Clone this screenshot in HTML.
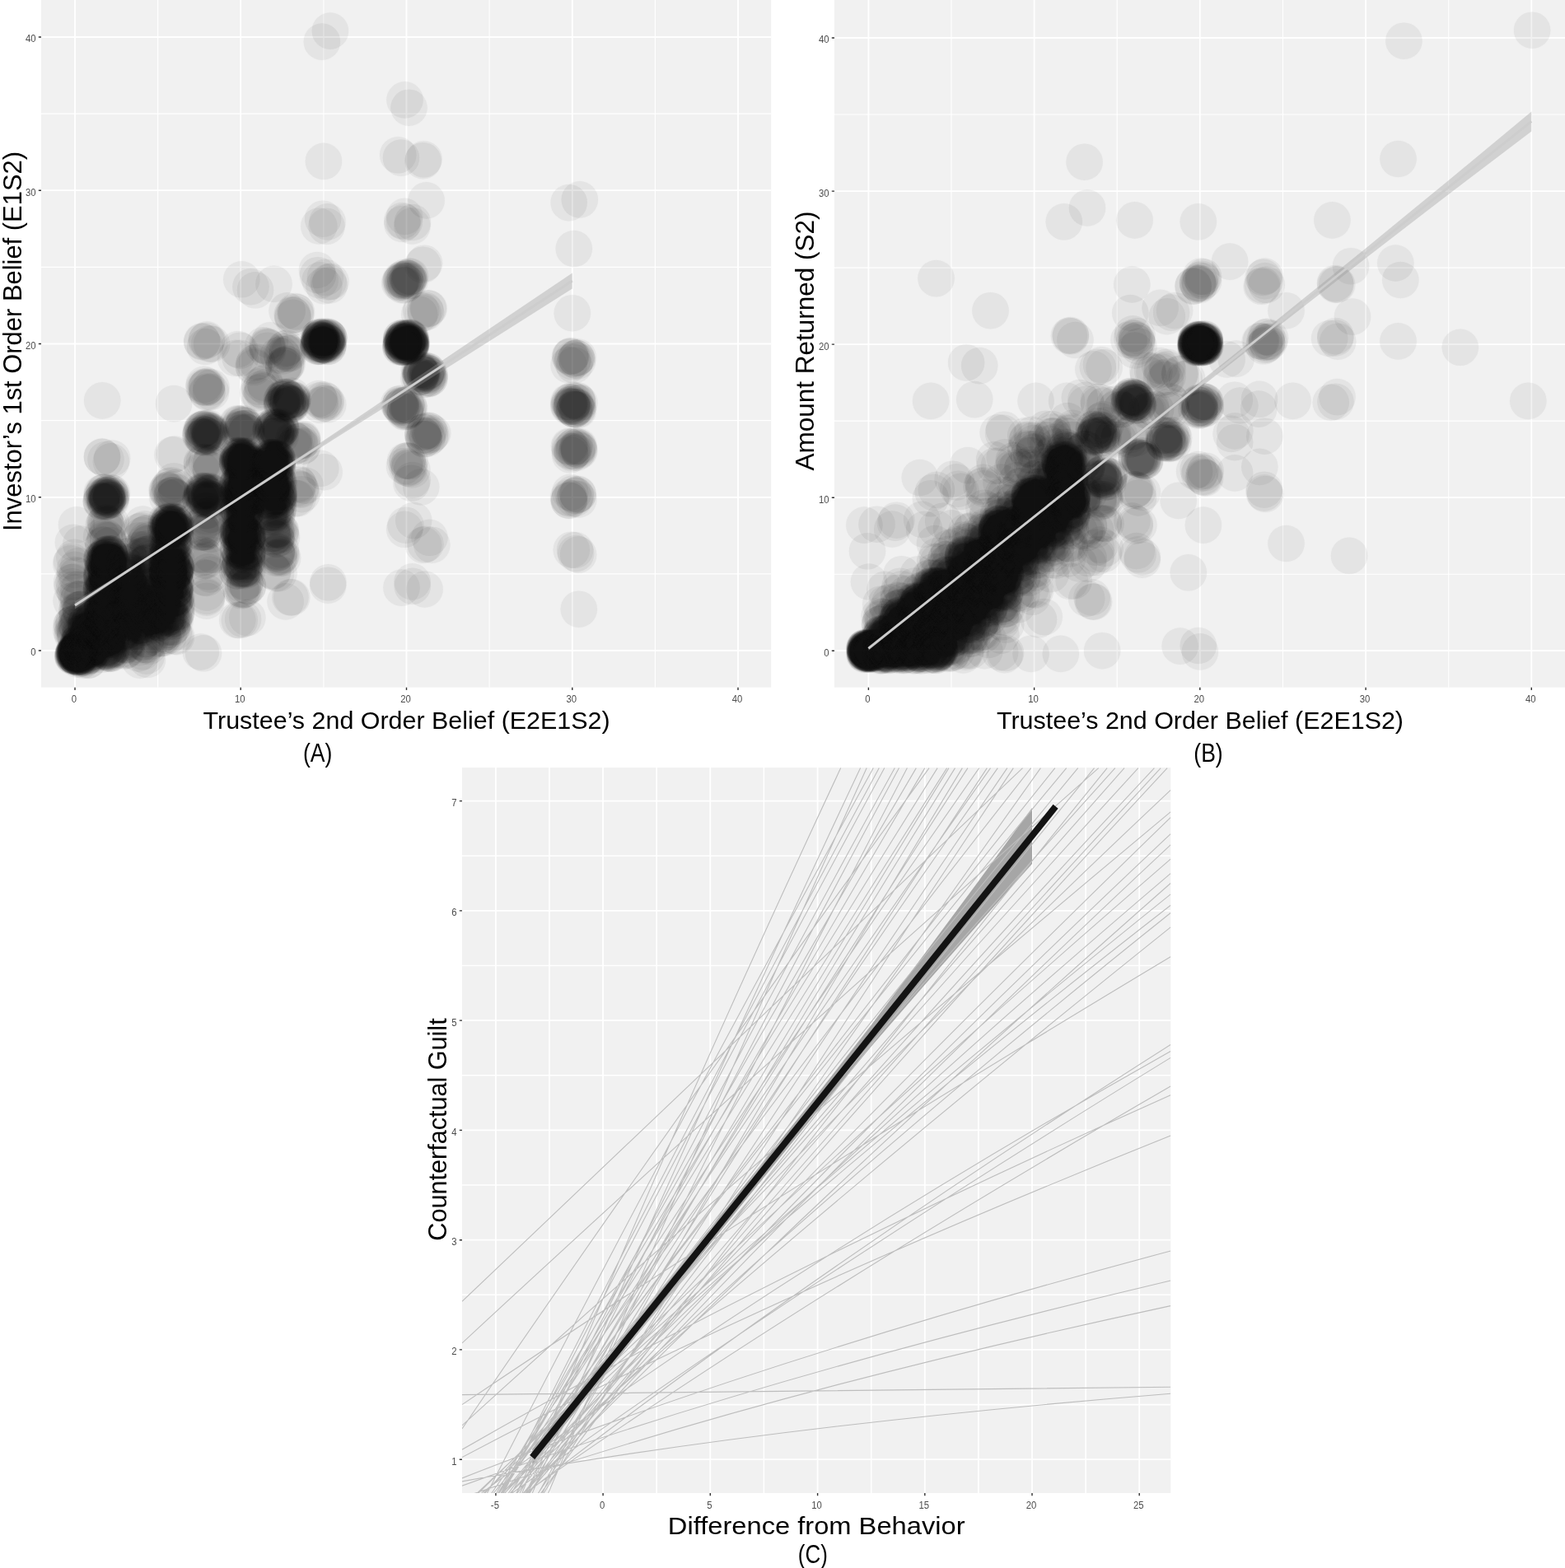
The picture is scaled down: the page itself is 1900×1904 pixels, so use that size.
<!DOCTYPE html>
<html lang="en"><head><meta charset="utf-8"><title>Figure</title>
<style>html,body{margin:0;padding:0;background:#fff}svg{display:block}text{font-family:"Liberation Sans",sans-serif}</style>
</head><body>
<svg width="1900" height="1904" viewBox="0 0 1900 1904">
<defs>
<clipPath id="ca"><rect x="50" y="0" width="886.2" height="834.7"/></clipPath>
<clipPath id="cb"><rect x="1013" y="0" width="887" height="834.7"/></clipPath>
<clipPath id="cc"><rect x="561" y="932.1" width="860.3" height="880.9"/></clipPath>
<filter id="bl" x="-5%" y="-5%" width="110%" height="110%"><feGaussianBlur stdDeviation="0.7"/></filter>
</defs>
<rect width="1900" height="1904" fill="#fff"/>
<rect x="50" y="0" width="886.2" height="834.7" fill="#F1F1F1"/>
<path d="M191.6 0V834.7M392.9 0V834.7M594.1 0V834.7M795.4 0V834.7M50 696.9H936.2M50 510.6H936.2M50 324.4H936.2M50 138.1H936.2" stroke="#fff" stroke-width="1.1" fill="none"/>
<path d="M91 0V834.7M292.2 0V834.7M493.5 0V834.7M694.8 0V834.7M896 0V834.7M50 790H936.2M50 603.8H936.2M50 417.5H936.2M50 231.2H936.2M50 45H936.2" stroke="#fff" stroke-width="1.8" fill="none"/>
<g clip-path="url(#ca)"><g filter="url(#bl)" fill="#111" fill-opacity="0.055" stroke="#111" stroke-opacity="0.012" stroke-width="1.5">
<circle cx="390.9" cy="50.6" r="22.3"/><circle cx="400.9" cy="37.6" r="22.3"/><circle cx="491.5" cy="121.4" r="22.3"/><circle cx="496.5" cy="130.7" r="22.3"/><circle cx="392.9" cy="195.9" r="22.3"/><circle cx="483.2" cy="188.3" r="22.3"/><circle cx="487" cy="191.6" r="22.3"/><circle cx="513.6" cy="195.2" r="22.3"/><circle cx="514.5" cy="193.3" r="22.3"/><circle cx="517.6" cy="243.4" r="22.3"/><circle cx="387.3" cy="274.5" r="22.3"/><circle cx="397.5" cy="269.4" r="22.3"/><circle cx="396.5" cy="274.8" r="22.3"/><circle cx="392.1" cy="265.7" r="22.3"/><circle cx="491.2" cy="262.9" r="22.3"/><circle cx="500.4" cy="274.4" r="22.3"/><circle cx="488.4" cy="268" r="22.3"/><circle cx="500.9" cy="270" r="22.3"/><circle cx="491" cy="269.5" r="22.3"/><circle cx="488.5" cy="272" r="22.3"/><circle cx="515.1" cy="319.7" r="22.3"/><circle cx="513.5" cy="321.7" r="22.3"/><circle cx="487.6" cy="340.7" r="22.3"/><circle cx="488.6" cy="346.3" r="22.3"/><circle cx="496.1" cy="339.5" r="22.3"/><circle cx="493.4" cy="344.2" r="22.3"/><circle cx="498.2" cy="335.6" r="22.3"/><circle cx="486.3" cy="342.3" r="22.3"/><circle cx="494.5" cy="337.5" r="22.3"/><circle cx="497.5" cy="341.2" r="22.3"/><circle cx="496" cy="338" r="22.3"/><circle cx="488.8" cy="339.1" r="22.3"/><circle cx="496.7" cy="335.8" r="22.3"/><circle cx="491.6" cy="339.1" r="22.3"/><circle cx="485.1" cy="343.5" r="22.3"/><circle cx="495.6" cy="341.3" r="22.3"/><circle cx="487" cy="339.6" r="22.3"/><circle cx="494.3" cy="338" r="22.3"/><circle cx="489.8" cy="341" r="22.3"/><circle cx="491.6" cy="336.7" r="22.3"/><circle cx="491.8" cy="341.6" r="22.3"/><circle cx="491.3" cy="346.2" r="22.3"/><circle cx="388.6" cy="340.4" r="22.3"/><circle cx="401.5" cy="341.8" r="22.3"/><circle cx="393.4" cy="347.2" r="22.3"/><circle cx="394.9" cy="336.9" r="22.3"/><circle cx="398.6" cy="342.5" r="22.3"/><circle cx="399.8" cy="346.4" r="22.3"/><circle cx="385" cy="328" r="22.3"/><circle cx="385.9" cy="334.2" r="22.3"/><circle cx="293.3" cy="339.3" r="22.3"/><circle cx="304.5" cy="348.2" r="22.3"/><circle cx="310" cy="352.3" r="22.3"/><circle cx="332.5" cy="344.9" r="22.3"/><circle cx="358.5" cy="378.1" r="22.3"/><circle cx="359.9" cy="379.1" r="22.3"/><circle cx="358.9" cy="381.9" r="22.3"/><circle cx="355.5" cy="383" r="22.3"/><circle cx="348.6" cy="377.4" r="22.3"/><circle cx="355.6" cy="385.9" r="22.3"/><circle cx="354.7" cy="382.3" r="22.3"/><circle cx="513.7" cy="380.3" r="22.3"/><circle cx="516.2" cy="376.8" r="22.3"/><circle cx="517.2" cy="378.9" r="22.3"/><circle cx="509.2" cy="381.8" r="22.3"/><circle cx="511.2" cy="377.3" r="22.3"/><circle cx="520.6" cy="374.6" r="22.3"/><circle cx="519.7" cy="374.4" r="22.3"/><circle cx="389.5" cy="410.4" r="22.3"/><circle cx="395.2" cy="420" r="22.3"/><circle cx="386.3" cy="420.9" r="22.3"/><circle cx="396.4" cy="417.9" r="22.3"/><circle cx="387.5" cy="413.1" r="22.3"/><circle cx="390.7" cy="420.2" r="22.3"/><circle cx="388.2" cy="414.4" r="22.3"/><circle cx="388.3" cy="417.6" r="22.3"/><circle cx="395.8" cy="415.3" r="22.3"/><circle cx="390.4" cy="415" r="22.3"/><circle cx="386.4" cy="416.1" r="22.3"/><circle cx="391.8" cy="418.7" r="22.3"/><circle cx="387.5" cy="409.6" r="22.3"/><circle cx="393" cy="418.4" r="22.3"/><circle cx="394.3" cy="410.7" r="22.3"/><circle cx="386.3" cy="420.8" r="22.3"/><circle cx="388" cy="411.9" r="22.3"/><circle cx="388.2" cy="412.1" r="22.3"/><circle cx="395.3" cy="414.1" r="22.3"/><circle cx="389.1" cy="408.7" r="22.3"/><circle cx="397" cy="414.5" r="22.3"/><circle cx="389.1" cy="412.8" r="22.3"/><circle cx="391.4" cy="413.7" r="22.3"/><circle cx="390.4" cy="413" r="22.3"/><circle cx="386.8" cy="417.3" r="22.3"/><circle cx="399.3" cy="410" r="22.3"/><circle cx="390.2" cy="410.2" r="22.3"/><circle cx="390.3" cy="409.1" r="22.3"/><circle cx="396.2" cy="415.8" r="22.3"/><circle cx="389.5" cy="420.9" r="22.3"/><circle cx="398.1" cy="420.6" r="22.3"/><circle cx="397.2" cy="408.9" r="22.3"/><circle cx="393.8" cy="418.9" r="22.3"/><circle cx="397.9" cy="408.7" r="22.3"/><circle cx="395.7" cy="414.6" r="22.3"/><circle cx="391.2" cy="416.6" r="22.3"/><circle cx="388.8" cy="412.5" r="22.3"/><circle cx="392" cy="418.6" r="22.3"/><circle cx="387.5" cy="412.6" r="22.3"/><circle cx="390.1" cy="414.7" r="22.3"/><circle cx="390.5" cy="410" r="22.3"/><circle cx="398.3" cy="420.8" r="22.3"/><circle cx="388.8" cy="416.9" r="22.3"/><circle cx="399.5" cy="411.1" r="22.3"/><circle cx="390.7" cy="418.3" r="22.3"/><circle cx="395.3" cy="410.4" r="22.3"/><circle cx="398.8" cy="416.7" r="22.3"/><circle cx="398.1" cy="412.3" r="22.3"/><circle cx="392.7" cy="408.6" r="22.3"/><circle cx="389.2" cy="411.9" r="22.3"/><circle cx="387.2" cy="418.9" r="22.3"/><circle cx="398.5" cy="418.3" r="22.3"/><circle cx="396.4" cy="413.4" r="22.3"/><circle cx="397.5" cy="416.4" r="22.3"/><circle cx="390.7" cy="417.4" r="22.3"/><circle cx="397.9" cy="413.4" r="22.3"/><circle cx="399.1" cy="409.8" r="22.3"/><circle cx="387.9" cy="414.1" r="22.3"/><circle cx="387.5" cy="420.5" r="22.3"/><circle cx="387" cy="410.1" r="22.3"/><circle cx="396.8" cy="410.5" r="22.3"/><circle cx="390.7" cy="413.2" r="22.3"/><circle cx="396.7" cy="416.3" r="22.3"/><circle cx="393.8" cy="418.2" r="22.3"/><circle cx="387.2" cy="417.7" r="22.3"/><circle cx="498" cy="414.8" r="22.3"/><circle cx="498.5" cy="416.2" r="22.3"/><circle cx="489.6" cy="412" r="22.3"/><circle cx="497.2" cy="421.8" r="22.3"/><circle cx="495" cy="420.8" r="22.3"/><circle cx="487.4" cy="410.8" r="22.3"/><circle cx="486.4" cy="418.9" r="22.3"/><circle cx="499.4" cy="416.6" r="22.3"/><circle cx="487.4" cy="419.9" r="22.3"/><circle cx="489.2" cy="412.5" r="22.3"/><circle cx="487.3" cy="410.4" r="22.3"/><circle cx="491" cy="409.7" r="22.3"/><circle cx="498.3" cy="418.2" r="22.3"/><circle cx="489.3" cy="415.9" r="22.3"/><circle cx="487.2" cy="413.7" r="22.3"/><circle cx="486.4" cy="421.8" r="22.3"/><circle cx="499.3" cy="418.2" r="22.3"/><circle cx="494" cy="416.3" r="22.3"/><circle cx="490.1" cy="421.2" r="22.3"/><circle cx="498.4" cy="409.7" r="22.3"/><circle cx="499.1" cy="420.6" r="22.3"/><circle cx="488.8" cy="414.1" r="22.3"/><circle cx="499.3" cy="415.1" r="22.3"/><circle cx="495.3" cy="413.6" r="22.3"/><circle cx="489.4" cy="415.1" r="22.3"/><circle cx="490.1" cy="418.8" r="22.3"/><circle cx="487" cy="418.4" r="22.3"/><circle cx="499.3" cy="416.3" r="22.3"/><circle cx="494.8" cy="413.8" r="22.3"/><circle cx="498.7" cy="417" r="22.3"/><circle cx="490.1" cy="417.8" r="22.3"/><circle cx="490.2" cy="411.2" r="22.3"/><circle cx="498.1" cy="418.1" r="22.3"/><circle cx="490.4" cy="415.1" r="22.3"/><circle cx="493.8" cy="414.4" r="22.3"/><circle cx="489.2" cy="421.7" r="22.3"/><circle cx="489.2" cy="421.1" r="22.3"/><circle cx="493.4" cy="421.1" r="22.3"/><circle cx="486.9" cy="413.9" r="22.3"/><circle cx="489.8" cy="411.9" r="22.3"/><circle cx="492.6" cy="411" r="22.3"/><circle cx="488" cy="415.6" r="22.3"/><circle cx="496.7" cy="421" r="22.3"/><circle cx="498.8" cy="419.8" r="22.3"/><circle cx="496.5" cy="409.5" r="22.3"/><circle cx="497.1" cy="417.9" r="22.3"/><circle cx="487.3" cy="415.5" r="22.3"/><circle cx="498.4" cy="418.3" r="22.3"/><circle cx="498.1" cy="420.2" r="22.3"/><circle cx="498.3" cy="421.6" r="22.3"/><circle cx="490.2" cy="410.5" r="22.3"/><circle cx="496.9" cy="410.5" r="22.3"/><circle cx="497.4" cy="412.5" r="22.3"/><circle cx="495.3" cy="419.7" r="22.3"/><circle cx="491.8" cy="420" r="22.3"/><circle cx="495.6" cy="413.5" r="22.3"/><circle cx="489.3" cy="421.2" r="22.3"/><circle cx="499" cy="411.7" r="22.3"/><circle cx="493.4" cy="415.1" r="22.3"/><circle cx="497.5" cy="416.2" r="22.3"/><circle cx="491.3" cy="417.7" r="22.3"/><circle cx="489.4" cy="421.7" r="22.3"/><circle cx="494.7" cy="416.7" r="22.3"/><circle cx="493.7" cy="421.2" r="22.3"/><circle cx="490.7" cy="420.2" r="22.3"/><circle cx="487.6" cy="418.7" r="22.3"/><circle cx="497.2" cy="416.9" r="22.3"/><circle cx="491.3" cy="414.2" r="22.3"/><circle cx="489" cy="421.9" r="22.3"/><circle cx="493.1" cy="415.6" r="22.3"/><circle cx="494.7" cy="416.4" r="22.3"/><circle cx="495.2" cy="412.7" r="22.3"/><circle cx="489.1" cy="415.7" r="22.3"/><circle cx="492.4" cy="419.1" r="22.3"/><circle cx="491.5" cy="414.9" r="22.3"/><circle cx="498.3" cy="410.3" r="22.3"/><circle cx="489.6" cy="413.8" r="22.3"/><circle cx="486.5" cy="421.1" r="22.3"/><circle cx="492.9" cy="410.9" r="22.3"/><circle cx="488" cy="412.3" r="22.3"/><circle cx="497.9" cy="418" r="22.3"/><circle cx="495.3" cy="411.2" r="22.3"/><circle cx="490.9" cy="413.1" r="22.3"/><circle cx="495.9" cy="414.4" r="22.3"/><circle cx="497.6" cy="410.6" r="22.3"/><circle cx="521.3" cy="453.8" r="22.3"/><circle cx="510.6" cy="457.9" r="22.3"/><circle cx="511.2" cy="453.9" r="22.3"/><circle cx="518.6" cy="460.4" r="22.3"/><circle cx="517.5" cy="452" r="22.3"/><circle cx="513" cy="454.6" r="22.3"/><circle cx="510.4" cy="451.8" r="22.3"/><circle cx="508.7" cy="448.7" r="22.3"/><circle cx="519.2" cy="453.1" r="22.3"/><circle cx="511.9" cy="449.5" r="22.3"/><circle cx="521.3" cy="459.3" r="22.3"/><circle cx="518.8" cy="450.4" r="22.3"/><circle cx="517.2" cy="452.2" r="22.3"/><circle cx="514.3" cy="449.4" r="22.3"/><circle cx="521.5" cy="456.2" r="22.3"/><circle cx="519.2" cy="455.6" r="22.3"/><circle cx="510.4" cy="457" r="22.3"/><circle cx="509.9" cy="449.6" r="22.3"/><circle cx="521.3" cy="459.6" r="22.3"/><circle cx="516.4" cy="455.9" r="22.3"/><circle cx="509.8" cy="457.3" r="22.3"/><circle cx="511.6" cy="451.6" r="22.3"/><circle cx="508.2" cy="458.7" r="22.3"/><circle cx="514.2" cy="460.8" r="22.3"/><circle cx="516.8" cy="453.4" r="22.3"/><circle cx="519.6" cy="458.5" r="22.3"/><circle cx="512.1" cy="454.2" r="22.3"/><circle cx="511.9" cy="453.7" r="22.3"/><circle cx="511.6" cy="452.4" r="22.3"/><circle cx="519" cy="450.8" r="22.3"/><circle cx="257.1" cy="417.7" r="22.3"/><circle cx="250.5" cy="413.7" r="22.3"/><circle cx="254.3" cy="417.4" r="22.3"/><circle cx="249" cy="421" r="22.3"/><circle cx="245.2" cy="414.3" r="22.3"/><circle cx="245.4" cy="415.1" r="22.3"/><circle cx="251.2" cy="412.4" r="22.3"/><circle cx="328" cy="413.4" r="22.3"/><circle cx="319.5" cy="419.4" r="22.3"/><circle cx="325.4" cy="421.8" r="22.3"/><circle cx="324.5" cy="421.2" r="22.3"/><circle cx="324.8" cy="425.7" r="22.3"/><circle cx="323.7" cy="420" r="22.3"/><circle cx="341.9" cy="429.9" r="22.3"/><circle cx="348.4" cy="426.4" r="22.3"/><circle cx="344.5" cy="426.8" r="22.3"/><circle cx="342.9" cy="432.4" r="22.3"/><circle cx="337.8" cy="431.5" r="22.3"/><circle cx="345.9" cy="423.8" r="22.3"/><circle cx="349.1" cy="428.5" r="22.3"/><circle cx="351.2" cy="429.2" r="22.3"/><circle cx="349.2" cy="429.8" r="22.3"/><circle cx="347.9" cy="422.5" r="22.3"/><circle cx="307.7" cy="444" r="22.3"/><circle cx="312" cy="439.5" r="22.3"/><circle cx="308.4" cy="446.1" r="22.3"/><circle cx="308.8" cy="440.8" r="22.3"/><circle cx="288.9" cy="424.1" r="22.3"/><circle cx="291.4" cy="425.7" r="22.3"/><circle cx="291.7" cy="434.8" r="22.3"/><circle cx="286.1" cy="434.9" r="22.3"/><circle cx="344.5" cy="443.6" r="22.3"/><circle cx="344.3" cy="446.6" r="22.3"/><circle cx="344.3" cy="443.7" r="22.3"/><circle cx="348.5" cy="441.9" r="22.3"/><circle cx="347.3" cy="442" r="22.3"/><circle cx="346.9" cy="444.1" r="22.3"/><circle cx="316.4" cy="472.6" r="22.3"/><circle cx="321.3" cy="464.9" r="22.3"/><circle cx="319" cy="474.1" r="22.3"/><circle cx="323" cy="469.8" r="22.3"/><circle cx="318" cy="475.4" r="22.3"/><circle cx="318.6" cy="466.6" r="22.3"/><circle cx="313.3" cy="477.1" r="22.3"/><circle cx="316.5" cy="481.3" r="22.3"/><circle cx="314.5" cy="469.6" r="22.3"/><circle cx="395.5" cy="489.5" r="22.3"/><circle cx="395.5" cy="486.9" r="22.3"/><circle cx="388.9" cy="492" r="22.3"/><circle cx="398.2" cy="491.2" r="22.3"/><circle cx="387.1" cy="484.1" r="22.3"/><circle cx="393.2" cy="489.9" r="22.3"/><circle cx="393" cy="485.3" r="22.3"/><circle cx="388.3" cy="486.3" r="22.3"/><circle cx="493.4" cy="491.7" r="22.3"/><circle cx="487.3" cy="494.3" r="22.3"/><circle cx="486.8" cy="495" r="22.3"/><circle cx="486" cy="492.1" r="22.3"/><circle cx="495.5" cy="497.9" r="22.3"/><circle cx="486.7" cy="489.9" r="22.3"/><circle cx="493.3" cy="491.4" r="22.3"/><circle cx="484.1" cy="490.7" r="22.3"/><circle cx="492.2" cy="498" r="22.3"/><circle cx="489.5" cy="492.4" r="22.3"/><circle cx="494.4" cy="499.7" r="22.3"/><circle cx="492.2" cy="500" r="22.3"/><circle cx="497" cy="496.4" r="22.3"/><circle cx="496.1" cy="492.8" r="22.3"/><circle cx="491.9" cy="498.7" r="22.3"/><circle cx="490.8" cy="500.3" r="22.3"/><circle cx="485.5" cy="493" r="22.3"/><circle cx="488.6" cy="492.5" r="22.3"/><circle cx="515.3" cy="524.6" r="22.3"/><circle cx="521.8" cy="529.9" r="22.3"/><circle cx="513.5" cy="528.7" r="22.3"/><circle cx="518.8" cy="532.5" r="22.3"/><circle cx="514.6" cy="533" r="22.3"/><circle cx="520.2" cy="522.5" r="22.3"/><circle cx="515" cy="533.3" r="22.3"/><circle cx="521.6" cy="523.4" r="22.3"/><circle cx="525.2" cy="526" r="22.3"/><circle cx="516.7" cy="523.1" r="22.3"/><circle cx="513.6" cy="524.9" r="22.3"/><circle cx="513.3" cy="528.7" r="22.3"/><circle cx="518.8" cy="528.9" r="22.3"/><circle cx="514.3" cy="530.8" r="22.3"/><circle cx="523.2" cy="527.9" r="22.3"/><circle cx="494.6" cy="568.3" r="22.3"/><circle cx="496.4" cy="566.8" r="22.3"/><circle cx="494.8" cy="559.5" r="22.3"/><circle cx="500.3" cy="570.4" r="22.3"/><circle cx="497.6" cy="560.1" r="22.3"/><circle cx="491" cy="566.1" r="22.3"/><circle cx="494.6" cy="559.3" r="22.3"/><circle cx="492.1" cy="559.8" r="22.3"/><circle cx="497" cy="569" r="22.3"/><circle cx="511.2" cy="591.3" r="22.3"/><circle cx="500.7" cy="583" r="22.3"/><circle cx="499.5" cy="586.7" r="22.3"/><circle cx="492.5" cy="637.7" r="22.3"/><circle cx="502.2" cy="632.1" r="22.3"/><circle cx="491.2" cy="642.8" r="22.3"/><circle cx="524.3" cy="661.7" r="22.3"/><circle cx="516.6" cy="660.7" r="22.3"/><circle cx="514.1" cy="661.9" r="22.3"/><circle cx="521.5" cy="652.8" r="22.3"/><circle cx="398.4" cy="707.3" r="22.3"/><circle cx="398.2" cy="710.7" r="22.3"/><circle cx="487.5" cy="713.6" r="22.3"/><circle cx="500.6" cy="706.4" r="22.3"/><circle cx="500.7" cy="711.8" r="22.3"/><circle cx="515.6" cy="715.5" r="22.3"/><circle cx="389.3" cy="568.8" r="22.3"/><circle cx="393.6" cy="573.2" r="22.3"/><circle cx="690.7" cy="246.1" r="22.3"/><circle cx="703.8" cy="242.4" r="22.3"/><circle cx="696.8" cy="302" r="22.3"/><circle cx="694.8" cy="380.2" r="22.3"/><circle cx="698.2" cy="437.2" r="22.3"/><circle cx="697.1" cy="443.5" r="22.3"/><circle cx="694.8" cy="439.1" r="22.3"/><circle cx="692.6" cy="433.2" r="22.3"/><circle cx="695.7" cy="435.9" r="22.3"/><circle cx="699.7" cy="434.9" r="22.3"/><circle cx="699.8" cy="434.8" r="22.3"/><circle cx="693.4" cy="432" r="22.3"/><circle cx="692" cy="432.7" r="22.3"/><circle cx="701.6" cy="433.5" r="22.3"/><circle cx="690.6" cy="443.2" r="22.3"/><circle cx="701" cy="438.4" r="22.3"/><circle cx="695" cy="485.9" r="22.3"/><circle cx="690.5" cy="491.6" r="22.3"/><circle cx="696" cy="496.7" r="22.3"/><circle cx="695.3" cy="489.4" r="22.3"/><circle cx="702" cy="498" r="22.3"/><circle cx="697.1" cy="497.2" r="22.3"/><circle cx="700.9" cy="497.2" r="22.3"/><circle cx="690.4" cy="493.5" r="22.3"/><circle cx="699.9" cy="494.4" r="22.3"/><circle cx="691.7" cy="488.3" r="22.3"/><circle cx="701" cy="487.5" r="22.3"/><circle cx="694.1" cy="493" r="22.3"/><circle cx="693.3" cy="491.3" r="22.3"/><circle cx="694.4" cy="494" r="22.3"/><circle cx="700.6" cy="486.2" r="22.3"/><circle cx="697.9" cy="497" r="22.3"/><circle cx="698.9" cy="492.7" r="22.3"/><circle cx="703.4" cy="489.2" r="22.3"/><circle cx="701.3" cy="489.5" r="22.3"/><circle cx="697.2" cy="487" r="22.3"/><circle cx="701.3" cy="494.6" r="22.3"/><circle cx="692.1" cy="493.6" r="22.3"/><circle cx="697.1" cy="497.1" r="22.3"/><circle cx="694.6" cy="491.1" r="22.3"/><circle cx="690.5" cy="488" r="22.3"/><circle cx="698.8" cy="494.4" r="22.3"/><circle cx="694" cy="493.9" r="22.3"/><circle cx="694.4" cy="544.7" r="22.3"/><circle cx="696.8" cy="547.5" r="22.3"/><circle cx="692" cy="542.6" r="22.3"/><circle cx="694.4" cy="550.1" r="22.3"/><circle cx="690.9" cy="541.8" r="22.3"/><circle cx="696.5" cy="542.6" r="22.3"/><circle cx="702.6" cy="541.9" r="22.3"/><circle cx="701.1" cy="542.5" r="22.3"/><circle cx="702.5" cy="544.1" r="22.3"/><circle cx="691.8" cy="547.6" r="22.3"/><circle cx="697.8" cy="541.6" r="22.3"/><circle cx="700.6" cy="545.3" r="22.3"/><circle cx="700.1" cy="549.6" r="22.3"/><circle cx="702.8" cy="546.1" r="22.3"/><circle cx="695.4" cy="548.3" r="22.3"/><circle cx="703.3" cy="547.5" r="22.3"/><circle cx="692.2" cy="552.3" r="22.3"/><circle cx="699.3" cy="601.7" r="22.3"/><circle cx="702.3" cy="606.4" r="22.3"/><circle cx="695.5" cy="599.6" r="22.3"/><circle cx="690.6" cy="607.5" r="22.3"/><circle cx="697.4" cy="605.4" r="22.3"/><circle cx="691.4" cy="605.5" r="22.3"/><circle cx="698.6" cy="602.1" r="22.3"/><circle cx="691" cy="607.9" r="22.3"/><circle cx="701.6" cy="600.6" r="22.3"/><circle cx="692.3" cy="597.9" r="22.3"/><circle cx="690.2" cy="604.1" r="22.3"/><circle cx="701.5" cy="599.8" r="22.3"/><circle cx="693.8" cy="667.7" r="22.3"/><circle cx="698.1" cy="668" r="22.3"/><circle cx="702.1" cy="673.6" r="22.3"/><circle cx="699.2" cy="672.1" r="22.3"/><circle cx="702.8" cy="739.7" r="22.3"/><circle cx="354.2" cy="725.4" r="22.3"/><circle cx="352.4" cy="725.3" r="22.3"/><circle cx="247" cy="793.3" r="22.3"/><circle cx="243.8" cy="791.5" r="22.3"/><circle cx="124.2" cy="486.4" r="22.3"/><circle cx="211.1" cy="490.1" r="22.3"/><circle cx="211.9" cy="551.5" r="22.3"/><circle cx="209.6" cy="552.3" r="22.3"/><circle cx="346.6" cy="730.4" r="22.3"/><circle cx="96.9" cy="791" r="22.3"/><circle cx="93.9" cy="798" r="22.3"/><circle cx="96.5" cy="794.1" r="22.3"/><circle cx="89.9" cy="795.6" r="22.3"/><circle cx="94.9" cy="798.3" r="22.3"/><circle cx="89.2" cy="795.6" r="22.3"/><circle cx="96.9" cy="791.4" r="22.3"/><circle cx="97.7" cy="793.3" r="22.3"/><circle cx="93.7" cy="793.2" r="22.3"/><circle cx="93.3" cy="793.3" r="22.3"/><circle cx="96.2" cy="789.5" r="22.3"/><circle cx="92.1" cy="792.5" r="22.3"/><circle cx="91.1" cy="795.6" r="22.3"/><circle cx="93.1" cy="792.9" r="22.3"/><circle cx="93.5" cy="789.3" r="22.3"/><circle cx="89.6" cy="792.5" r="22.3"/><circle cx="98" cy="791.5" r="22.3"/><circle cx="93.7" cy="795" r="22.3"/><circle cx="92" cy="789.7" r="22.3"/><circle cx="97" cy="792.1" r="22.3"/><circle cx="97" cy="789.8" r="22.3"/><circle cx="96.5" cy="794.8" r="22.3"/><circle cx="92.7" cy="791" r="22.3"/><circle cx="91.7" cy="791.4" r="22.3"/><circle cx="92.8" cy="795.2" r="22.3"/><circle cx="92.6" cy="797.3" r="22.3"/><circle cx="91.5" cy="794.5" r="22.3"/><circle cx="88.2" cy="796.8" r="22.3"/><circle cx="90.6" cy="790.4" r="22.3"/><circle cx="93.9" cy="795.7" r="22.3"/><circle cx="98" cy="796" r="22.3"/><circle cx="93.2" cy="791.5" r="22.3"/><circle cx="94.9" cy="794.3" r="22.3"/><circle cx="95.8" cy="793.9" r="22.3"/><circle cx="95.2" cy="793.8" r="22.3"/><circle cx="97.8" cy="791.7" r="22.3"/><circle cx="88.9" cy="797.2" r="22.3"/><circle cx="97.7" cy="796.2" r="22.3"/><circle cx="88.2" cy="796" r="22.3"/><circle cx="92.8" cy="789.5" r="22.3"/><circle cx="92" cy="791.6" r="22.3"/><circle cx="96.4" cy="797.6" r="22.3"/><circle cx="94.1" cy="789.1" r="22.3"/><circle cx="93.5" cy="793.4" r="22.3"/><circle cx="91.5" cy="789.6" r="22.3"/><circle cx="97.7" cy="797.4" r="22.3"/><circle cx="93.5" cy="794.5" r="22.3"/><circle cx="94.7" cy="797.3" r="22.3"/><circle cx="90.7" cy="795.8" r="22.3"/><circle cx="92.8" cy="791" r="22.3"/><circle cx="96.6" cy="791.1" r="22.3"/><circle cx="94.8" cy="797.6" r="22.3"/><circle cx="91.9" cy="792.2" r="22.3"/><circle cx="90.9" cy="793.7" r="22.3"/><circle cx="97.1" cy="797.3" r="22.3"/><circle cx="96.6" cy="797.4" r="22.3"/><circle cx="91.9" cy="789.9" r="22.3"/><circle cx="90" cy="793.5" r="22.3"/><circle cx="92.2" cy="790.1" r="22.3"/><circle cx="98" cy="795.7" r="22.3"/><circle cx="92.9" cy="790" r="22.3"/><circle cx="93.5" cy="796.4" r="22.3"/><circle cx="95.6" cy="795.2" r="22.3"/><circle cx="92.9" cy="798.3" r="22.3"/><circle cx="97.9" cy="792.3" r="22.3"/><circle cx="97.3" cy="789.4" r="22.3"/><circle cx="90.7" cy="793.3" r="22.3"/><circle cx="92.4" cy="791.3" r="22.3"/><circle cx="96.5" cy="796.3" r="22.3"/><circle cx="90.7" cy="791.8" r="22.3"/><circle cx="92.1" cy="797.2" r="22.3"/><circle cx="89.9" cy="793.2" r="22.3"/><circle cx="94" cy="789.4" r="22.3"/><circle cx="93.3" cy="792.7" r="22.3"/><circle cx="89.5" cy="794.5" r="22.3"/><circle cx="90.8" cy="791.9" r="22.3"/><circle cx="90.7" cy="796.4" r="22.3"/><circle cx="91.7" cy="794" r="22.3"/><circle cx="91.4" cy="792.7" r="22.3"/><circle cx="89.8" cy="790.2" r="22.3"/><circle cx="95" cy="793.4" r="22.3"/><circle cx="88.6" cy="795.3" r="22.3"/><circle cx="94.9" cy="792.4" r="22.3"/><circle cx="96.2" cy="790.1" r="22.3"/><circle cx="91.2" cy="793.8" r="22.3"/><circle cx="91.3" cy="797.2" r="22.3"/><circle cx="89.4" cy="796" r="22.3"/><circle cx="88.9" cy="793.4" r="22.3"/><circle cx="95.1" cy="793.1" r="22.3"/><circle cx="94.9" cy="796.3" r="22.3"/><circle cx="93" cy="637.3" r="22.3"/><circle cx="88.9" cy="658.8" r="22.3"/><circle cx="98.3" cy="660.6" r="22.3"/><circle cx="86.2" cy="684.3" r="22.3"/><circle cx="90.3" cy="676.8" r="22.3"/><circle cx="87.3" cy="681.7" r="22.3"/><circle cx="95.5" cy="687" r="22.3"/><circle cx="90.8" cy="691.9" r="22.3"/><circle cx="93.3" cy="699.2" r="22.3"/><circle cx="90.7" cy="697.7" r="22.3"/><circle cx="89.6" cy="706.5" r="22.3"/><circle cx="95.5" cy="715.7" r="22.3"/><circle cx="87.2" cy="707.1" r="22.3"/><circle cx="87.6" cy="712.2" r="22.3"/><circle cx="89.9" cy="715.6" r="22.3"/><circle cx="86.6" cy="729.4" r="22.3"/><circle cx="91.6" cy="719.3" r="22.3"/><circle cx="94.9" cy="728.1" r="22.3"/><circle cx="95.5" cy="727.7" r="22.3"/><circle cx="93.2" cy="727.1" r="22.3"/><circle cx="99.2" cy="726.7" r="22.3"/><circle cx="97.2" cy="739.8" r="22.3"/><circle cx="97.7" cy="740.2" r="22.3"/><circle cx="98.1" cy="742.8" r="22.3"/><circle cx="95.5" cy="740" r="22.3"/><circle cx="93.4" cy="740.8" r="22.3"/><circle cx="93.5" cy="742.9" r="22.3"/><circle cx="98.5" cy="739.9" r="22.3"/><circle cx="93.7" cy="747.2" r="22.3"/><circle cx="93.1" cy="760.6" r="22.3"/><circle cx="89.1" cy="757.3" r="22.3"/><circle cx="93.6" cy="759.6" r="22.3"/><circle cx="89.9" cy="756.1" r="22.3"/><circle cx="92.6" cy="757.7" r="22.3"/><circle cx="87.6" cy="758.1" r="22.3"/><circle cx="95.1" cy="755.9" r="22.3"/><circle cx="93.6" cy="752.1" r="22.3"/><circle cx="96.1" cy="754.1" r="22.3"/><circle cx="86.6" cy="758.9" r="22.3"/><circle cx="95.5" cy="775.7" r="22.3"/><circle cx="98.7" cy="775.9" r="22.3"/><circle cx="98.2" cy="775" r="22.3"/><circle cx="97.7" cy="767" r="22.3"/><circle cx="90.8" cy="766.5" r="22.3"/><circle cx="88.4" cy="767" r="22.3"/><circle cx="91.4" cy="772.1" r="22.3"/><circle cx="87.8" cy="770.1" r="22.3"/><circle cx="89.9" cy="769.3" r="22.3"/><circle cx="97.1" cy="770.1" r="22.3"/><circle cx="86.3" cy="765.6" r="22.3"/><circle cx="98.8" cy="769.6" r="22.3"/><circle cx="91.4" cy="770.6" r="22.3"/><circle cx="98.3" cy="771.9" r="22.3"/><circle cx="96.8" cy="770.1" r="22.3"/><circle cx="110.1" cy="784.5" r="22.3"/><circle cx="109.9" cy="788.7" r="22.3"/><circle cx="105" cy="790.4" r="22.3"/><circle cx="104.8" cy="787.4" r="22.3"/><circle cx="104.3" cy="795.8" r="22.3"/><circle cx="105.8" cy="794.6" r="22.3"/><circle cx="111.2" cy="791.8" r="22.3"/><circle cx="108" cy="783.9" r="22.3"/><circle cx="116.7" cy="788" r="22.3"/><circle cx="115.3" cy="786" r="22.3"/><circle cx="107.6" cy="786.1" r="22.3"/><circle cx="107.6" cy="789.2" r="22.3"/><circle cx="109.2" cy="794.3" r="22.3"/><circle cx="114.9" cy="784.7" r="22.3"/><circle cx="108.6" cy="785.2" r="22.3"/><circle cx="109" cy="788" r="22.3"/><circle cx="117.9" cy="786.6" r="22.3"/><circle cx="105" cy="790.8" r="22.3"/><circle cx="109.4" cy="792.6" r="22.3"/><circle cx="115.5" cy="790.7" r="22.3"/><circle cx="113.9" cy="788.3" r="22.3"/><circle cx="111.4" cy="795.6" r="22.3"/><circle cx="113.5" cy="785" r="22.3"/><circle cx="106.6" cy="788.2" r="22.3"/><circle cx="111" cy="792" r="22.3"/><circle cx="114" cy="765.4" r="22.3"/><circle cx="104.6" cy="766.3" r="22.3"/><circle cx="109.5" cy="767.1" r="22.3"/><circle cx="106.7" cy="768.6" r="22.3"/><circle cx="105.6" cy="773.5" r="22.3"/><circle cx="117.6" cy="769.4" r="22.3"/><circle cx="115" cy="771.9" r="22.3"/><circle cx="110.7" cy="771.5" r="22.3"/><circle cx="114.9" cy="768.5" r="22.3"/><circle cx="106.9" cy="772.1" r="22.3"/><circle cx="111.7" cy="770.5" r="22.3"/><circle cx="117" cy="767.1" r="22.3"/><circle cx="106.3" cy="772.9" r="22.3"/><circle cx="105.8" cy="777.4" r="22.3"/><circle cx="105.3" cy="775.4" r="22.3"/><circle cx="114.8" cy="769.3" r="22.3"/><circle cx="115.2" cy="774.1" r="22.3"/><circle cx="106.4" cy="765.4" r="22.3"/><circle cx="115.6" cy="765.7" r="22.3"/><circle cx="104.5" cy="772.7" r="22.3"/><circle cx="113" cy="768.4" r="22.3"/><circle cx="116.8" cy="770.9" r="22.3"/><circle cx="109.6" cy="777.6" r="22.3"/><circle cx="115.3" cy="765.3" r="22.3"/><circle cx="116.7" cy="769.3" r="22.3"/><circle cx="109" cy="774.7" r="22.3"/><circle cx="114.9" cy="765.9" r="22.3"/><circle cx="117.4" cy="775.5" r="22.3"/><circle cx="112.3" cy="771.2" r="22.3"/><circle cx="110.1" cy="767.6" r="22.3"/><circle cx="117.1" cy="749.9" r="22.3"/><circle cx="113.9" cy="750.3" r="22.3"/><circle cx="113.2" cy="752.3" r="22.3"/><circle cx="107.7" cy="749.2" r="22.3"/><circle cx="105.9" cy="750.9" r="22.3"/><circle cx="109.6" cy="752" r="22.3"/><circle cx="113.1" cy="753" r="22.3"/><circle cx="117.7" cy="756.1" r="22.3"/><circle cx="104.4" cy="747" r="22.3"/><circle cx="108.6" cy="755.6" r="22.3"/><circle cx="110" cy="751.5" r="22.3"/><circle cx="117.8" cy="750.1" r="22.3"/><circle cx="108.6" cy="752.3" r="22.3"/><circle cx="110.4" cy="752.7" r="22.3"/><circle cx="110" cy="757" r="22.3"/><circle cx="99.6" cy="785.8" r="22.3"/><circle cx="97" cy="780.4" r="22.3"/><circle cx="99.1" cy="788.8" r="22.3"/><circle cx="102" cy="780" r="22.3"/><circle cx="104.9" cy="782.9" r="22.3"/><circle cx="104.2" cy="786.5" r="22.3"/><circle cx="96.2" cy="787.5" r="22.3"/><circle cx="99" cy="787.2" r="22.3"/><circle cx="100.6" cy="788.9" r="22.3"/><circle cx="96" cy="787.5" r="22.3"/><circle cx="96.9" cy="780.6" r="22.3"/><circle cx="101.6" cy="788.2" r="22.3"/><circle cx="100.1" cy="779.7" r="22.3"/><circle cx="102.1" cy="783.7" r="22.3"/><circle cx="99.6" cy="788.3" r="22.3"/><circle cx="102.8" cy="789.8" r="22.3"/><circle cx="105" cy="790" r="22.3"/><circle cx="104.4" cy="785.9" r="22.3"/><circle cx="103.6" cy="783.3" r="22.3"/><circle cx="96" cy="783.9" r="22.3"/><circle cx="95.2" cy="787.7" r="22.3"/><circle cx="99.4" cy="787.1" r="22.3"/><circle cx="103.3" cy="778.2" r="22.3"/><circle cx="99.1" cy="780.1" r="22.3"/><circle cx="97.3" cy="781.8" r="22.3"/><circle cx="99" cy="784" r="22.3"/><circle cx="95.4" cy="780.3" r="22.3"/><circle cx="97.1" cy="784.9" r="22.3"/><circle cx="98.2" cy="780.5" r="22.3"/><circle cx="102.3" cy="783" r="22.3"/><circle cx="104.5" cy="787.5" r="22.3"/><circle cx="95" cy="780.3" r="22.3"/><circle cx="98.5" cy="780.5" r="22.3"/><circle cx="107.3" cy="782.8" r="22.3"/><circle cx="95.6" cy="779.9" r="22.3"/><circle cx="102.9" cy="787.6" r="22.3"/><circle cx="97.1" cy="784.3" r="22.3"/><circle cx="95.9" cy="779.3" r="22.3"/><circle cx="103.9" cy="780.4" r="22.3"/><circle cx="99.5" cy="779.1" r="22.3"/><circle cx="106.1" cy="777.9" r="22.3"/><circle cx="107.8" cy="787" r="22.3"/><circle cx="105.9" cy="784.5" r="22.3"/><circle cx="114.7" cy="782.2" r="22.3"/><circle cx="110.9" cy="779.2" r="22.3"/><circle cx="107.9" cy="778.9" r="22.3"/><circle cx="113.5" cy="775.4" r="22.3"/><circle cx="111.2" cy="776.2" r="22.3"/><circle cx="117.5" cy="777.3" r="22.3"/><circle cx="110" cy="783.6" r="22.3"/><circle cx="105.6" cy="776.5" r="22.3"/><circle cx="106.1" cy="779.9" r="22.3"/><circle cx="110.5" cy="786.5" r="22.3"/><circle cx="107.2" cy="776.6" r="22.3"/><circle cx="111.7" cy="775.3" r="22.3"/><circle cx="116.7" cy="785.8" r="22.3"/><circle cx="113.6" cy="786.5" r="22.3"/><circle cx="110.1" cy="781.4" r="22.3"/><circle cx="117.4" cy="779.5" r="22.3"/><circle cx="106.9" cy="780.6" r="22.3"/><circle cx="111.4" cy="784.5" r="22.3"/><circle cx="109.2" cy="775.9" r="22.3"/><circle cx="117.7" cy="777.2" r="22.3"/><circle cx="105.2" cy="775.5" r="22.3"/><circle cx="110.6" cy="776.5" r="22.3"/><circle cx="106.7" cy="785.1" r="22.3"/><circle cx="116.7" cy="783.4" r="22.3"/><circle cx="104.9" cy="780.7" r="22.3"/><circle cx="117.8" cy="776.4" r="22.3"/><circle cx="109.7" cy="774.4" r="22.3"/><circle cx="125.2" cy="763.3" r="22.3"/><circle cx="123.2" cy="769" r="22.3"/><circle cx="126.7" cy="768" r="22.3"/><circle cx="127.1" cy="767" r="22.3"/><circle cx="126.8" cy="767.9" r="22.3"/><circle cx="120.2" cy="766.5" r="22.3"/><circle cx="118.7" cy="772.1" r="22.3"/><circle cx="122.4" cy="763.2" r="22.3"/><circle cx="118.1" cy="763" r="22.3"/><circle cx="125.1" cy="764.2" r="22.3"/><circle cx="120" cy="761.3" r="22.3"/><circle cx="125.2" cy="766.7" r="22.3"/><circle cx="115.9" cy="766.7" r="22.3"/><circle cx="114.5" cy="762.6" r="22.3"/><circle cx="119" cy="769.3" r="22.3"/><circle cx="121.9" cy="765.9" r="22.3"/><circle cx="122.3" cy="767.8" r="22.3"/><circle cx="123" cy="763.3" r="22.3"/><circle cx="120.5" cy="767.6" r="22.3"/><circle cx="125.4" cy="773.9" r="22.3"/><circle cx="116.5" cy="769.9" r="22.3"/><circle cx="117.3" cy="762.6" r="22.3"/><circle cx="116.4" cy="772.6" r="22.3"/><circle cx="118.7" cy="767.5" r="22.3"/><circle cx="125.6" cy="761.4" r="22.3"/><circle cx="126" cy="766.3" r="22.3"/><circle cx="114.9" cy="773.2" r="22.3"/><circle cx="123" cy="763.6" r="22.3"/><circle cx="118" cy="761.7" r="22.3"/><circle cx="121.9" cy="766.7" r="22.3"/><circle cx="108.7" cy="765.6" r="22.3"/><circle cx="102.6" cy="754.7" r="22.3"/><circle cx="103.9" cy="765.5" r="22.3"/><circle cx="104.1" cy="757.3" r="22.3"/><circle cx="103.9" cy="763.9" r="22.3"/><circle cx="104.1" cy="760.4" r="22.3"/><circle cx="110.4" cy="762.7" r="22.3"/><circle cx="112.2" cy="754.2" r="22.3"/><circle cx="111.5" cy="765.6" r="22.3"/><circle cx="104.6" cy="754.8" r="22.3"/><circle cx="112" cy="764.8" r="22.3"/><circle cx="106.3" cy="761.9" r="22.3"/><circle cx="110.5" cy="766.2" r="22.3"/><circle cx="104.6" cy="757" r="22.3"/><circle cx="112.4" cy="766" r="22.3"/><circle cx="108.3" cy="758.1" r="22.3"/><circle cx="112.2" cy="761.2" r="22.3"/><circle cx="113.6" cy="764" r="22.3"/><circle cx="101.8" cy="764.9" r="22.3"/><circle cx="108.3" cy="765" r="22.3"/><circle cx="97.9" cy="799.4" r="22.3"/><circle cx="95" cy="789.7" r="22.3"/><circle cx="98.8" cy="789.7" r="22.3"/><circle cx="104.1" cy="799.1" r="22.3"/><circle cx="107" cy="801.8" r="22.3"/><circle cx="107.7" cy="801.5" r="22.3"/><circle cx="97.7" cy="794.9" r="22.3"/><circle cx="94.3" cy="792.2" r="22.3"/><circle cx="95.4" cy="791.6" r="22.3"/><circle cx="94.7" cy="795.2" r="22.3"/><circle cx="97.1" cy="798.3" r="22.3"/><circle cx="100.9" cy="797.2" r="22.3"/><circle cx="99.6" cy="793.6" r="22.3"/><circle cx="96.9" cy="799.6" r="22.3"/><circle cx="103.6" cy="798.2" r="22.3"/><circle cx="107" cy="796.5" r="22.3"/><circle cx="100.7" cy="801.6" r="22.3"/><circle cx="94.5" cy="800.6" r="22.3"/><circle cx="102.8" cy="793.5" r="22.3"/><circle cx="107.3" cy="796.4" r="22.3"/><circle cx="103.9" cy="797.6" r="22.3"/><circle cx="95.2" cy="796.6" r="22.3"/><circle cx="103.8" cy="791.7" r="22.3"/><circle cx="107.2" cy="791.4" r="22.3"/><circle cx="101.9" cy="794.9" r="22.3"/><circle cx="129.3" cy="790.3" r="22.3"/><circle cx="131.7" cy="789" r="22.3"/><circle cx="134.1" cy="790.6" r="22.3"/><circle cx="128.8" cy="785.8" r="22.3"/><circle cx="131.6" cy="789.7" r="22.3"/><circle cx="130.1" cy="786.1" r="22.3"/><circle cx="130.7" cy="793.1" r="22.3"/><circle cx="126.6" cy="788.7" r="22.3"/><circle cx="123" cy="790.5" r="22.3"/><circle cx="134.6" cy="793.4" r="22.3"/><circle cx="128.5" cy="787.5" r="22.3"/><circle cx="135.1" cy="787.5" r="22.3"/><circle cx="131" cy="791.5" r="22.3"/><circle cx="128.4" cy="788.2" r="22.3"/><circle cx="127.3" cy="786.4" r="22.3"/><circle cx="122.5" cy="786.8" r="22.3"/><circle cx="132.5" cy="792.5" r="22.3"/><circle cx="122.6" cy="792" r="22.3"/><circle cx="130.5" cy="786.4" r="22.3"/><circle cx="134.3" cy="793.7" r="22.3"/><circle cx="123.5" cy="794.8" r="22.3"/><circle cx="135.9" cy="788.2" r="22.3"/><circle cx="124.2" cy="787.6" r="22.3"/><circle cx="135.5" cy="788.6" r="22.3"/><circle cx="125.6" cy="784.1" r="22.3"/><circle cx="132" cy="794" r="22.3"/><circle cx="132.9" cy="789.9" r="22.3"/><circle cx="130.3" cy="791.7" r="22.3"/><circle cx="126.4" cy="791" r="22.3"/><circle cx="129.6" cy="790.5" r="22.3"/><circle cx="134.2" cy="776.8" r="22.3"/><circle cx="125.1" cy="765.8" r="22.3"/><circle cx="130.7" cy="769.9" r="22.3"/><circle cx="131" cy="774.6" r="22.3"/><circle cx="127.8" cy="775" r="22.3"/><circle cx="124.5" cy="765.2" r="22.3"/><circle cx="132.6" cy="766.6" r="22.3"/><circle cx="122.4" cy="768.8" r="22.3"/><circle cx="126.6" cy="771.4" r="22.3"/><circle cx="131.6" cy="777.3" r="22.3"/><circle cx="127.5" cy="770.7" r="22.3"/><circle cx="134.4" cy="771.2" r="22.3"/><circle cx="126.7" cy="770.1" r="22.3"/><circle cx="130.4" cy="774" r="22.3"/><circle cx="129.9" cy="774.2" r="22.3"/><circle cx="122.5" cy="773.8" r="22.3"/><circle cx="123.6" cy="771.5" r="22.3"/><circle cx="129.3" cy="766.7" r="22.3"/><circle cx="132.6" cy="768.2" r="22.3"/><circle cx="135.9" cy="774.4" r="22.3"/><circle cx="127.5" cy="774.8" r="22.3"/><circle cx="123.8" cy="771.2" r="22.3"/><circle cx="129.4" cy="776.1" r="22.3"/><circle cx="135" cy="765.3" r="22.3"/><circle cx="123.3" cy="777.7" r="22.3"/><circle cx="123.2" cy="768.4" r="22.3"/><circle cx="134.1" cy="776.9" r="22.3"/><circle cx="122.5" cy="770.9" r="22.3"/><circle cx="126.9" cy="777.5" r="22.3"/><circle cx="122.5" cy="775" r="22.3"/><circle cx="125.1" cy="774" r="22.3"/><circle cx="129.9" cy="774.5" r="22.3"/><circle cx="125.6" cy="775" r="22.3"/><circle cx="134.5" cy="774.7" r="22.3"/><circle cx="130" cy="772" r="22.3"/><circle cx="126.9" cy="772.6" r="22.3"/><circle cx="122.6" cy="775.4" r="22.3"/><circle cx="131.2" cy="768.1" r="22.3"/><circle cx="125.4" cy="775.5" r="22.3"/><circle cx="134.8" cy="776.5" r="22.3"/><circle cx="133.3" cy="748" r="22.3"/><circle cx="124.4" cy="748.5" r="22.3"/><circle cx="124.4" cy="758.5" r="22.3"/><circle cx="126.3" cy="754.7" r="22.3"/><circle cx="130.5" cy="753.5" r="22.3"/><circle cx="133.3" cy="750.7" r="22.3"/><circle cx="124" cy="756.5" r="22.3"/><circle cx="132.6" cy="757.6" r="22.3"/><circle cx="135.4" cy="748.8" r="22.3"/><circle cx="125.4" cy="755.5" r="22.3"/><circle cx="125.8" cy="753.7" r="22.3"/><circle cx="125.8" cy="758.7" r="22.3"/><circle cx="125.8" cy="756.6" r="22.3"/><circle cx="127.2" cy="753.3" r="22.3"/><circle cx="134.4" cy="750.7" r="22.3"/><circle cx="130.8" cy="748.1" r="22.3"/><circle cx="127.7" cy="753.7" r="22.3"/><circle cx="125.7" cy="748.6" r="22.3"/><circle cx="134.4" cy="747.5" r="22.3"/><circle cx="130.7" cy="757.6" r="22.3"/><circle cx="123.4" cy="749" r="22.3"/><circle cx="134.5" cy="752.3" r="22.3"/><circle cx="135" cy="747.3" r="22.3"/><circle cx="132.7" cy="754.4" r="22.3"/><circle cx="128.6" cy="754.6" r="22.3"/><circle cx="127.8" cy="753.1" r="22.3"/><circle cx="122.6" cy="757.5" r="22.3"/><circle cx="124.7" cy="751.9" r="22.3"/><circle cx="134.3" cy="750.1" r="22.3"/><circle cx="124.4" cy="753.3" r="22.3"/><circle cx="131" cy="757.4" r="22.3"/><circle cx="123.5" cy="751.3" r="22.3"/><circle cx="125.6" cy="750.9" r="22.3"/><circle cx="124.7" cy="748.2" r="22.3"/><circle cx="126.6" cy="753.7" r="22.3"/><circle cx="129.9" cy="747.9" r="22.3"/><circle cx="134.9" cy="748.4" r="22.3"/><circle cx="131.8" cy="758.2" r="22.3"/><circle cx="125" cy="752.3" r="22.3"/><circle cx="135.9" cy="749.9" r="22.3"/><circle cx="125" cy="735.9" r="22.3"/><circle cx="135.6" cy="734" r="22.3"/><circle cx="134.3" cy="729.6" r="22.3"/><circle cx="133.1" cy="732.5" r="22.3"/><circle cx="131.5" cy="736.1" r="22.3"/><circle cx="124" cy="728.4" r="22.3"/><circle cx="122.8" cy="737" r="22.3"/><circle cx="130.8" cy="728.2" r="22.3"/><circle cx="125.3" cy="737.3" r="22.3"/><circle cx="134" cy="736.3" r="22.3"/><circle cx="127.9" cy="735.9" r="22.3"/><circle cx="123.1" cy="728.5" r="22.3"/><circle cx="131.9" cy="740.4" r="22.3"/><circle cx="123.7" cy="738.7" r="22.3"/><circle cx="127.4" cy="729.2" r="22.3"/><circle cx="124.3" cy="737.6" r="22.3"/><circle cx="126.7" cy="734" r="22.3"/><circle cx="134.7" cy="733.6" r="22.3"/><circle cx="134.8" cy="733.6" r="22.3"/><circle cx="128.3" cy="729.4" r="22.3"/><circle cx="130.3" cy="734.4" r="22.3"/><circle cx="129.4" cy="736" r="22.3"/><circle cx="128.3" cy="739.5" r="22.3"/><circle cx="125.2" cy="730.8" r="22.3"/><circle cx="124.2" cy="737.8" r="22.3"/><circle cx="124.6" cy="735.9" r="22.3"/><circle cx="123.1" cy="735.9" r="22.3"/><circle cx="130.7" cy="731.9" r="22.3"/><circle cx="134.3" cy="739.4" r="22.3"/><circle cx="131.2" cy="738" r="22.3"/><circle cx="127.1" cy="733.2" r="22.3"/><circle cx="133.9" cy="732" r="22.3"/><circle cx="135.9" cy="740.2" r="22.3"/><circle cx="126.7" cy="734.4" r="22.3"/><circle cx="122.9" cy="739.8" r="22.3"/><circle cx="127.4" cy="733.4" r="22.3"/><circle cx="124.2" cy="739.6" r="22.3"/><circle cx="126.8" cy="731.1" r="22.3"/><circle cx="130.2" cy="727.8" r="22.3"/><circle cx="130.7" cy="729.2" r="22.3"/><circle cx="130.2" cy="715.7" r="22.3"/><circle cx="128.1" cy="720.9" r="22.3"/><circle cx="123.3" cy="713.5" r="22.3"/><circle cx="134.2" cy="721.6" r="22.3"/><circle cx="124.9" cy="717.7" r="22.3"/><circle cx="126.7" cy="711.3" r="22.3"/><circle cx="125.8" cy="718" r="22.3"/><circle cx="129.1" cy="709.8" r="22.3"/><circle cx="126.4" cy="713.8" r="22.3"/><circle cx="123.1" cy="716.4" r="22.3"/><circle cx="135.1" cy="719.1" r="22.3"/><circle cx="127.3" cy="713.5" r="22.3"/><circle cx="130.1" cy="714.5" r="22.3"/><circle cx="130.7" cy="713.3" r="22.3"/><circle cx="126.8" cy="717.4" r="22.3"/><circle cx="127.8" cy="715.2" r="22.3"/><circle cx="130.2" cy="710.8" r="22.3"/><circle cx="127.8" cy="716.1" r="22.3"/><circle cx="133.8" cy="709.5" r="22.3"/><circle cx="125.7" cy="712.6" r="22.3"/><circle cx="125.8" cy="712.4" r="22.3"/><circle cx="122.9" cy="715.4" r="22.3"/><circle cx="130.2" cy="713" r="22.3"/><circle cx="134.9" cy="711.8" r="22.3"/><circle cx="130.1" cy="715.5" r="22.3"/><circle cx="122.6" cy="714.8" r="22.3"/><circle cx="130.1" cy="712.4" r="22.3"/><circle cx="124.7" cy="714.4" r="22.3"/><circle cx="123.1" cy="712.6" r="22.3"/><circle cx="133.6" cy="716.3" r="22.3"/><circle cx="131.8" cy="713.4" r="22.3"/><circle cx="126.5" cy="720.7" r="22.3"/><circle cx="132.8" cy="717.3" r="22.3"/><circle cx="124.6" cy="716.2" r="22.3"/><circle cx="133.8" cy="709.7" r="22.3"/><circle cx="130.2" cy="709.5" r="22.3"/><circle cx="124.8" cy="715.6" r="22.3"/><circle cx="122.5" cy="718.9" r="22.3"/><circle cx="134.4" cy="721.1" r="22.3"/><circle cx="131.4" cy="715.4" r="22.3"/><circle cx="135.9" cy="690.6" r="22.3"/><circle cx="124.1" cy="699.9" r="22.3"/><circle cx="136" cy="699" r="22.3"/><circle cx="124.9" cy="691.7" r="22.3"/><circle cx="130.8" cy="699.3" r="22.3"/><circle cx="130" cy="697.8" r="22.3"/><circle cx="128.7" cy="696.2" r="22.3"/><circle cx="124.7" cy="695.4" r="22.3"/><circle cx="135.5" cy="695.7" r="22.3"/><circle cx="133.2" cy="699.6" r="22.3"/><circle cx="124.5" cy="703.1" r="22.3"/><circle cx="135.8" cy="701.7" r="22.3"/><circle cx="127.6" cy="694.9" r="22.3"/><circle cx="132.4" cy="695.4" r="22.3"/><circle cx="128.4" cy="692.9" r="22.3"/><circle cx="128.4" cy="692.6" r="22.3"/><circle cx="123.1" cy="694.1" r="22.3"/><circle cx="123.7" cy="698.3" r="22.3"/><circle cx="128.5" cy="700.9" r="22.3"/><circle cx="128.5" cy="692.4" r="22.3"/><circle cx="122.9" cy="700.8" r="22.3"/><circle cx="135.7" cy="697.5" r="22.3"/><circle cx="127.7" cy="691.6" r="22.3"/><circle cx="133" cy="701" r="22.3"/><circle cx="130.6" cy="700.9" r="22.3"/><circle cx="133" cy="696.2" r="22.3"/><circle cx="133.3" cy="702.4" r="22.3"/><circle cx="135.1" cy="700.3" r="22.3"/><circle cx="134" cy="697.6" r="22.3"/><circle cx="134.6" cy="701.9" r="22.3"/><circle cx="123.1" cy="697.3" r="22.3"/><circle cx="135.1" cy="697.3" r="22.3"/><circle cx="129.3" cy="701.1" r="22.3"/><circle cx="129.8" cy="697.8" r="22.3"/><circle cx="134.5" cy="693.8" r="22.3"/><circle cx="128.9" cy="701.3" r="22.3"/><circle cx="124.4" cy="690.9" r="22.3"/><circle cx="130.8" cy="700.4" r="22.3"/><circle cx="133.5" cy="700.5" r="22.3"/><circle cx="128.6" cy="692.1" r="22.3"/><circle cx="123.8" cy="701.9" r="22.3"/><circle cx="123.1" cy="701.3" r="22.3"/><circle cx="127.5" cy="699.1" r="22.3"/><circle cx="126.2" cy="703" r="22.3"/><circle cx="129.1" cy="697.6" r="22.3"/><circle cx="132.5" cy="699.4" r="22.3"/><circle cx="130.3" cy="699.2" r="22.3"/><circle cx="132.7" cy="701" r="22.3"/><circle cx="129.1" cy="697.6" r="22.3"/><circle cx="128.7" cy="696.4" r="22.3"/><circle cx="129.7" cy="680.6" r="22.3"/><circle cx="133.7" cy="672.5" r="22.3"/><circle cx="130" cy="676.5" r="22.3"/><circle cx="132.3" cy="680.5" r="22.3"/><circle cx="130.5" cy="678.7" r="22.3"/><circle cx="129" cy="679.6" r="22.3"/><circle cx="129.7" cy="681.8" r="22.3"/><circle cx="125.7" cy="682" r="22.3"/><circle cx="130.5" cy="681.5" r="22.3"/><circle cx="133.1" cy="673.1" r="22.3"/><circle cx="132.8" cy="680.4" r="22.3"/><circle cx="135.3" cy="680.2" r="22.3"/><circle cx="127.3" cy="677" r="22.3"/><circle cx="131.4" cy="679.4" r="22.3"/><circle cx="133.2" cy="673.8" r="22.3"/><circle cx="126.3" cy="681.7" r="22.3"/><circle cx="127.8" cy="675.7" r="22.3"/><circle cx="131.6" cy="682.4" r="22.3"/><circle cx="127.7" cy="673.2" r="22.3"/><circle cx="135.5" cy="676.9" r="22.3"/><circle cx="133.1" cy="673.9" r="22.3"/><circle cx="125.4" cy="683.7" r="22.3"/><circle cx="130.8" cy="679.7" r="22.3"/><circle cx="132.1" cy="680.9" r="22.3"/><circle cx="128.3" cy="674.3" r="22.3"/><circle cx="123.7" cy="679.4" r="22.3"/><circle cx="124.5" cy="677.8" r="22.3"/><circle cx="132.4" cy="672.1" r="22.3"/><circle cx="132.7" cy="682.8" r="22.3"/><circle cx="128.4" cy="677.7" r="22.3"/><circle cx="131.1" cy="675.7" r="22.3"/><circle cx="135.7" cy="672.6" r="22.3"/><circle cx="125.2" cy="682.6" r="22.3"/><circle cx="135.7" cy="682.5" r="22.3"/><circle cx="135.6" cy="683.1" r="22.3"/><circle cx="130.4" cy="682.9" r="22.3"/><circle cx="124.2" cy="680.4" r="22.3"/><circle cx="133.3" cy="675.7" r="22.3"/><circle cx="126.7" cy="682.8" r="22.3"/><circle cx="127.3" cy="682.4" r="22.3"/><circle cx="125.6" cy="678.3" r="22.3"/><circle cx="129.1" cy="672.9" r="22.3"/><circle cx="123.6" cy="677.8" r="22.3"/><circle cx="130.1" cy="682.8" r="22.3"/><circle cx="127.3" cy="682.8" r="22.3"/><circle cx="134.6" cy="680.2" r="22.3"/><circle cx="123.3" cy="678.6" r="22.3"/><circle cx="129.6" cy="673.3" r="22.3"/><circle cx="132.2" cy="682" r="22.3"/><circle cx="134.8" cy="684.5" r="22.3"/><circle cx="131.9" cy="684" r="22.3"/><circle cx="133.6" cy="682.2" r="22.3"/><circle cx="133.3" cy="674.3" r="22.3"/><circle cx="133" cy="683.2" r="22.3"/><circle cx="127.9" cy="683.3" r="22.3"/><circle cx="132.2" cy="672" r="22.3"/><circle cx="129.5" cy="676.3" r="22.3"/><circle cx="131.5" cy="682.8" r="22.3"/><circle cx="127.5" cy="680.2" r="22.3"/><circle cx="132.7" cy="679.4" r="22.3"/><circle cx="127.4" cy="655.3" r="22.3"/><circle cx="125.2" cy="661.4" r="22.3"/><circle cx="125.7" cy="662" r="22.3"/><circle cx="131.6" cy="656.4" r="22.3"/><circle cx="130.8" cy="655" r="22.3"/><circle cx="123.1" cy="651.9" r="22.3"/><circle cx="133.6" cy="662.1" r="22.3"/><circle cx="128.3" cy="652.3" r="22.3"/><circle cx="128.1" cy="634.6" r="22.3"/><circle cx="131.9" cy="637.1" r="22.3"/><circle cx="134.8" cy="635.6" r="22.3"/><circle cx="130.4" cy="644.9" r="22.3"/><circle cx="128.6" cy="636.7" r="22.3"/><circle cx="129.6" cy="638.1" r="22.3"/><circle cx="127.2" cy="634.8" r="22.3"/><circle cx="125.8" cy="637.4" r="22.3"/><circle cx="128.4" cy="608.2" r="22.3"/><circle cx="122.7" cy="608.4" r="22.3"/><circle cx="126.3" cy="604.1" r="22.3"/><circle cx="122.8" cy="609.2" r="22.3"/><circle cx="133.3" cy="597.7" r="22.3"/><circle cx="128.3" cy="604.1" r="22.3"/><circle cx="130.6" cy="608.9" r="22.3"/><circle cx="129.8" cy="601.5" r="22.3"/><circle cx="135.3" cy="601.9" r="22.3"/><circle cx="129.9" cy="604.9" r="22.3"/><circle cx="134.9" cy="603.5" r="22.3"/><circle cx="128.9" cy="600.8" r="22.3"/><circle cx="128.4" cy="609.2" r="22.3"/><circle cx="130.5" cy="599.1" r="22.3"/><circle cx="127.4" cy="608.9" r="22.3"/><circle cx="123.8" cy="598.6" r="22.3"/><circle cx="123.9" cy="601.8" r="22.3"/><circle cx="123.6" cy="603.6" r="22.3"/><circle cx="134.9" cy="607.1" r="22.3"/><circle cx="126.6" cy="602.3" r="22.3"/><circle cx="130.2" cy="603" r="22.3"/><circle cx="127.8" cy="609.6" r="22.3"/><circle cx="130.5" cy="606.6" r="22.3"/><circle cx="130.9" cy="604.5" r="22.3"/><circle cx="126.1" cy="597.5" r="22.3"/><circle cx="126.8" cy="597.8" r="22.3"/><circle cx="128.9" cy="603.3" r="22.3"/><circle cx="126.1" cy="607.9" r="22.3"/><circle cx="132.1" cy="604.3" r="22.3"/><circle cx="130.4" cy="607.8" r="22.3"/><circle cx="129.4" cy="601.7" r="22.3"/><circle cx="132.8" cy="601.6" r="22.3"/><circle cx="128.1" cy="601.4" r="22.3"/><circle cx="130.6" cy="604" r="22.3"/><circle cx="131" cy="606.2" r="22.3"/><circle cx="123.3" cy="608.2" r="22.3"/><circle cx="135.7" cy="598.8" r="22.3"/><circle cx="133.7" cy="606.8" r="22.3"/><circle cx="133.9" cy="600.1" r="22.3"/><circle cx="129.8" cy="606.2" r="22.3"/><circle cx="123.9" cy="554.6" r="22.3"/><circle cx="136.1" cy="556.5" r="22.3"/><circle cx="128.5" cy="558" r="22.3"/><circle cx="134.9" cy="560.4" r="22.3"/><circle cx="124.1" cy="554.9" r="22.3"/><circle cx="151.9" cy="781" r="22.3"/><circle cx="153.1" cy="789.9" r="22.3"/><circle cx="150.9" cy="790.6" r="22.3"/><circle cx="148.2" cy="778.6" r="22.3"/><circle cx="154" cy="783.6" r="22.3"/><circle cx="146.1" cy="782.1" r="22.3"/><circle cx="152.8" cy="782.7" r="22.3"/><circle cx="154" cy="779" r="22.3"/><circle cx="150.7" cy="783" r="22.3"/><circle cx="151.8" cy="783.3" r="22.3"/><circle cx="153.8" cy="788.4" r="22.3"/><circle cx="145.3" cy="789.3" r="22.3"/><circle cx="145.1" cy="770.7" r="22.3"/><circle cx="148.7" cy="767.8" r="22.3"/><circle cx="146.7" cy="775.8" r="22.3"/><circle cx="156.4" cy="776.6" r="22.3"/><circle cx="149.4" cy="769" r="22.3"/><circle cx="152.2" cy="774.3" r="22.3"/><circle cx="146.4" cy="770.4" r="22.3"/><circle cx="147.9" cy="766.9" r="22.3"/><circle cx="148.2" cy="765.9" r="22.3"/><circle cx="144.8" cy="770" r="22.3"/><circle cx="148.4" cy="771.7" r="22.3"/><circle cx="150.5" cy="767.5" r="22.3"/><circle cx="147.1" cy="749.4" r="22.3"/><circle cx="145" cy="751" r="22.3"/><circle cx="155.8" cy="753.6" r="22.3"/><circle cx="156.2" cy="754.6" r="22.3"/><circle cx="149.4" cy="747.5" r="22.3"/><circle cx="158.1" cy="749.1" r="22.3"/><circle cx="147.7" cy="747.1" r="22.3"/><circle cx="149.5" cy="748.1" r="22.3"/><circle cx="148.9" cy="756.3" r="22.3"/><circle cx="148.1" cy="750.3" r="22.3"/><circle cx="157.9" cy="733.9" r="22.3"/><circle cx="146" cy="731.8" r="22.3"/><circle cx="156.8" cy="730.6" r="22.3"/><circle cx="144.6" cy="736.5" r="22.3"/><circle cx="155.2" cy="731.6" r="22.3"/><circle cx="158.2" cy="729.1" r="22.3"/><circle cx="165.5" cy="759.7" r="22.3"/><circle cx="159.8" cy="768" r="22.3"/><circle cx="165.1" cy="762.6" r="22.3"/><circle cx="166.4" cy="766.7" r="22.3"/><circle cx="166.3" cy="760.2" r="22.3"/><circle cx="166.7" cy="759.5" r="22.3"/><circle cx="160.6" cy="761.9" r="22.3"/><circle cx="155.9" cy="765.3" r="22.3"/><circle cx="162.5" cy="766.1" r="22.3"/><circle cx="159.5" cy="760.2" r="22.3"/><circle cx="162.7" cy="757.1" r="22.3"/><circle cx="160.5" cy="761.4" r="22.3"/><circle cx="160.4" cy="740.2" r="22.3"/><circle cx="163.2" cy="737.8" r="22.3"/><circle cx="156.5" cy="748.2" r="22.3"/><circle cx="158.6" cy="742" r="22.3"/><circle cx="163.3" cy="747.2" r="22.3"/><circle cx="158.3" cy="742.2" r="22.3"/><circle cx="158.2" cy="739.3" r="22.3"/><circle cx="156.1" cy="739.9" r="22.3"/><circle cx="156.7" cy="740.7" r="22.3"/><circle cx="165.3" cy="737.8" r="22.3"/><circle cx="166.9" cy="730.8" r="22.3"/><circle cx="163.6" cy="719.6" r="22.3"/><circle cx="165.1" cy="725.4" r="22.3"/><circle cx="164.9" cy="727.5" r="22.3"/><circle cx="165.6" cy="726" r="22.3"/><circle cx="167.9" cy="730.8" r="22.3"/><circle cx="162.6" cy="729.5" r="22.3"/><circle cx="165.1" cy="718.9" r="22.3"/><circle cx="173.4" cy="791.3" r="22.3"/><circle cx="169.9" cy="801.6" r="22.3"/><circle cx="177.7" cy="796.7" r="22.3"/><circle cx="167.8" cy="793.4" r="22.3"/><circle cx="179" cy="800.9" r="22.3"/><circle cx="177" cy="782.6" r="22.3"/><circle cx="169.3" cy="786.1" r="22.3"/><circle cx="169.3" cy="783.1" r="22.3"/><circle cx="172.9" cy="780.2" r="22.3"/><circle cx="177.2" cy="776.2" r="22.3"/><circle cx="180.4" cy="784.9" r="22.3"/><circle cx="177.3" cy="775.9" r="22.3"/><circle cx="172.1" cy="779.4" r="22.3"/><circle cx="182.2" cy="779" r="22.3"/><circle cx="178.3" cy="783.1" r="22.3"/><circle cx="182.3" cy="752.3" r="22.3"/><circle cx="173.1" cy="759" r="22.3"/><circle cx="168.7" cy="756.7" r="22.3"/><circle cx="180.6" cy="752.9" r="22.3"/><circle cx="170.7" cy="759.7" r="22.3"/><circle cx="170.9" cy="759.5" r="22.3"/><circle cx="171.5" cy="760.7" r="22.3"/><circle cx="176.3" cy="751.2" r="22.3"/><circle cx="180.4" cy="754.9" r="22.3"/><circle cx="173" cy="751.3" r="22.3"/><circle cx="171.6" cy="762.3" r="22.3"/><circle cx="171.6" cy="752.8" r="22.3"/><circle cx="178.3" cy="758.9" r="22.3"/><circle cx="171.7" cy="754.7" r="22.3"/><circle cx="175.7" cy="752.8" r="22.3"/><circle cx="174.8" cy="761.8" r="22.3"/><circle cx="169.6" cy="759.9" r="22.3"/><circle cx="175.8" cy="753.8" r="22.3"/><circle cx="176.3" cy="762.7" r="22.3"/><circle cx="181.7" cy="757" r="22.3"/><circle cx="176.1" cy="747.3" r="22.3"/><circle cx="172" cy="747.1" r="22.3"/><circle cx="177" cy="738.3" r="22.3"/><circle cx="172.3" cy="745.3" r="22.3"/><circle cx="172.6" cy="749.4" r="22.3"/><circle cx="168.8" cy="739.9" r="22.3"/><circle cx="182.1" cy="749.2" r="22.3"/><circle cx="169.7" cy="744" r="22.3"/><circle cx="172.8" cy="737.3" r="22.3"/><circle cx="180.6" cy="738" r="22.3"/><circle cx="171.3" cy="729" r="22.3"/><circle cx="177.2" cy="731.8" r="22.3"/><circle cx="177.8" cy="740.1" r="22.3"/><circle cx="182.1" cy="740.1" r="22.3"/><circle cx="171.8" cy="734.4" r="22.3"/><circle cx="180.1" cy="728.4" r="22.3"/><circle cx="168.8" cy="738.7" r="22.3"/><circle cx="168.9" cy="738.7" r="22.3"/><circle cx="181.2" cy="739.4" r="22.3"/><circle cx="176.1" cy="738" r="22.3"/><circle cx="168.8" cy="736.9" r="22.3"/><circle cx="172.2" cy="733.6" r="22.3"/><circle cx="180.6" cy="733.7" r="22.3"/><circle cx="176" cy="727.6" r="22.3"/><circle cx="171.1" cy="725.1" r="22.3"/><circle cx="174.1" cy="719.7" r="22.3"/><circle cx="171.5" cy="730.8" r="22.3"/><circle cx="169.4" cy="727.1" r="22.3"/><circle cx="171.7" cy="726.1" r="22.3"/><circle cx="180.7" cy="712.6" r="22.3"/><circle cx="176.8" cy="711.3" r="22.3"/><circle cx="180.7" cy="721" r="22.3"/><circle cx="178.1" cy="720.2" r="22.3"/><circle cx="174.3" cy="716.9" r="22.3"/><circle cx="172.4" cy="721.3" r="22.3"/><circle cx="171.3" cy="712.9" r="22.3"/><circle cx="181.8" cy="710.3" r="22.3"/><circle cx="169" cy="714.6" r="22.3"/><circle cx="171.3" cy="715.2" r="22.3"/><circle cx="176" cy="710.5" r="22.3"/><circle cx="169.9" cy="706.4" r="22.3"/><circle cx="169.4" cy="701.9" r="22.3"/><circle cx="180.8" cy="712.3" r="22.3"/><circle cx="179.6" cy="701.9" r="22.3"/><circle cx="169.2" cy="705.1" r="22.3"/><circle cx="175.2" cy="710.3" r="22.3"/><circle cx="179.9" cy="705.3" r="22.3"/><circle cx="179.8" cy="691.4" r="22.3"/><circle cx="182" cy="694.8" r="22.3"/><circle cx="180.6" cy="702.4" r="22.3"/><circle cx="173.3" cy="697.2" r="22.3"/><circle cx="175.7" cy="698.6" r="22.3"/><circle cx="179.9" cy="695.8" r="22.3"/><circle cx="180.3" cy="697.6" r="22.3"/><circle cx="181.6" cy="698.7" r="22.3"/><circle cx="182.3" cy="686.7" r="22.3"/><circle cx="173.8" cy="686" r="22.3"/><circle cx="170.1" cy="685.2" r="22.3"/><circle cx="176.9" cy="683.7" r="22.3"/><circle cx="169.7" cy="688.6" r="22.3"/><circle cx="176.7" cy="693.1" r="22.3"/><circle cx="179.1" cy="682.5" r="22.3"/><circle cx="177.2" cy="684.2" r="22.3"/><circle cx="181.6" cy="678.8" r="22.3"/><circle cx="175.7" cy="673.3" r="22.3"/><circle cx="177.9" cy="681.1" r="22.3"/><circle cx="176.7" cy="674.9" r="22.3"/><circle cx="180.2" cy="682.9" r="22.3"/><circle cx="171" cy="675.9" r="22.3"/><circle cx="178.5" cy="666" r="22.3"/><circle cx="175.4" cy="670.4" r="22.3"/><circle cx="181.8" cy="672" r="22.3"/><circle cx="172.6" cy="675" r="22.3"/><circle cx="169.8" cy="667.4" r="22.3"/><circle cx="177.8" cy="672.5" r="22.3"/><circle cx="178.8" cy="673.1" r="22.3"/><circle cx="173.8" cy="667.2" r="22.3"/><circle cx="179.3" cy="660.2" r="22.3"/><circle cx="179.7" cy="660" r="22.3"/><circle cx="177.8" cy="655.4" r="22.3"/><circle cx="176.4" cy="658.8" r="22.3"/><circle cx="181.4" cy="656.2" r="22.3"/><circle cx="168.9" cy="656.2" r="22.3"/><circle cx="172.9" cy="649.8" r="22.3"/><circle cx="177.1" cy="648" r="22.3"/><circle cx="168.9" cy="645.6" r="22.3"/><circle cx="171.9" cy="644.4" r="22.3"/><circle cx="173.4" cy="636.6" r="22.3"/><circle cx="178.4" cy="647" r="22.3"/><circle cx="175.7" cy="642.3" r="22.3"/><circle cx="198.4" cy="774.8" r="22.3"/><circle cx="190.2" cy="775.5" r="22.3"/><circle cx="184.8" cy="770.9" r="22.3"/><circle cx="193.3" cy="775.6" r="22.3"/><circle cx="196.2" cy="774.9" r="22.3"/><circle cx="197.6" cy="769.2" r="22.3"/><circle cx="198.1" cy="772.2" r="22.3"/><circle cx="196.3" cy="770" r="22.3"/><circle cx="194.6" cy="753.9" r="22.3"/><circle cx="191.8" cy="755.6" r="22.3"/><circle cx="189.4" cy="747.4" r="22.3"/><circle cx="185.9" cy="748.5" r="22.3"/><circle cx="195" cy="757" r="22.3"/><circle cx="190.7" cy="748.5" r="22.3"/><circle cx="191.7" cy="752.7" r="22.3"/><circle cx="191.7" cy="756.9" r="22.3"/><circle cx="198.3" cy="749.6" r="22.3"/><circle cx="188.7" cy="754.7" r="22.3"/><circle cx="194.5" cy="748.1" r="22.3"/><circle cx="192.3" cy="755.5" r="22.3"/><circle cx="189.7" cy="752.2" r="22.3"/><circle cx="196.9" cy="750.2" r="22.3"/><circle cx="187.9" cy="758.8" r="22.3"/><circle cx="193.8" cy="737.1" r="22.3"/><circle cx="196.8" cy="738.4" r="22.3"/><circle cx="198.4" cy="730.3" r="22.3"/><circle cx="188.2" cy="740.3" r="22.3"/><circle cx="196" cy="739.1" r="22.3"/><circle cx="186.9" cy="735.6" r="22.3"/><circle cx="187.1" cy="739.3" r="22.3"/><circle cx="192.3" cy="732.2" r="22.3"/><circle cx="195.5" cy="721.1" r="22.3"/><circle cx="185.5" cy="715.9" r="22.3"/><circle cx="194.9" cy="719.2" r="22.3"/><circle cx="192.9" cy="720.4" r="22.3"/><circle cx="197.1" cy="710.8" r="22.3"/><circle cx="197.6" cy="716.9" r="22.3"/><circle cx="185.9" cy="711.5" r="22.3"/><circle cx="190.8" cy="717.4" r="22.3"/><circle cx="206.7" cy="765" r="22.3"/><circle cx="210.8" cy="768.5" r="22.3"/><circle cx="204.5" cy="772.1" r="22.3"/><circle cx="201.6" cy="761.8" r="22.3"/><circle cx="214.1" cy="773.1" r="22.3"/><circle cx="209" cy="761.7" r="22.3"/><circle cx="208.8" cy="761.7" r="22.3"/><circle cx="202.9" cy="764.9" r="22.3"/><circle cx="212.4" cy="772.5" r="22.3"/><circle cx="203.7" cy="762" r="22.3"/><circle cx="204.1" cy="747.5" r="22.3"/><circle cx="213.4" cy="746.3" r="22.3"/><circle cx="211.5" cy="751.6" r="22.3"/><circle cx="212.5" cy="753.6" r="22.3"/><circle cx="206.4" cy="749.2" r="22.3"/><circle cx="210.5" cy="754.9" r="22.3"/><circle cx="201.9" cy="750.7" r="22.3"/><circle cx="203" cy="743.8" r="22.3"/><circle cx="207" cy="747.9" r="22.3"/><circle cx="206.7" cy="744.5" r="22.3"/><circle cx="213.5" cy="744" r="22.3"/><circle cx="202" cy="747.6" r="22.3"/><circle cx="211.5" cy="743.7" r="22.3"/><circle cx="208.5" cy="749.4" r="22.3"/><circle cx="203.3" cy="755.3" r="22.3"/><circle cx="201.2" cy="751.8" r="22.3"/><circle cx="210.7" cy="750.3" r="22.3"/><circle cx="208.3" cy="751.9" r="22.3"/><circle cx="214.2" cy="743.7" r="22.3"/><circle cx="204.5" cy="750.5" r="22.3"/><circle cx="202.3" cy="750.4" r="22.3"/><circle cx="204.2" cy="746.2" r="22.3"/><circle cx="205.2" cy="746.7" r="22.3"/><circle cx="201.2" cy="746.4" r="22.3"/><circle cx="209.6" cy="751.7" r="22.3"/><circle cx="211.4" cy="725.8" r="22.3"/><circle cx="213.3" cy="727.9" r="22.3"/><circle cx="206.9" cy="729.3" r="22.3"/><circle cx="211.3" cy="732.7" r="22.3"/><circle cx="213" cy="726.8" r="22.3"/><circle cx="210.4" cy="727.1" r="22.3"/><circle cx="201.6" cy="726.4" r="22.3"/><circle cx="207" cy="728" r="22.3"/><circle cx="209.8" cy="731.4" r="22.3"/><circle cx="211" cy="725.9" r="22.3"/><circle cx="214.5" cy="736.5" r="22.3"/><circle cx="213.4" cy="726.9" r="22.3"/><circle cx="209" cy="727.1" r="22.3"/><circle cx="205.6" cy="731.6" r="22.3"/><circle cx="201.4" cy="725" r="22.3"/><circle cx="211.9" cy="730.2" r="22.3"/><circle cx="209.3" cy="726.3" r="22.3"/><circle cx="203.2" cy="729.5" r="22.3"/><circle cx="210.8" cy="729.4" r="22.3"/><circle cx="214.2" cy="733.5" r="22.3"/><circle cx="210.2" cy="726.9" r="22.3"/><circle cx="206.2" cy="724.8" r="22.3"/><circle cx="206.5" cy="734.9" r="22.3"/><circle cx="203.2" cy="731.8" r="22.3"/><circle cx="214.4" cy="725.1" r="22.3"/><circle cx="213.2" cy="709.7" r="22.3"/><circle cx="207.8" cy="710" r="22.3"/><circle cx="209.2" cy="706" r="22.3"/><circle cx="206.3" cy="713.1" r="22.3"/><circle cx="210.9" cy="707.9" r="22.3"/><circle cx="211" cy="716.1" r="22.3"/><circle cx="209.6" cy="714.7" r="22.3"/><circle cx="204.6" cy="714.9" r="22.3"/><circle cx="201" cy="716.6" r="22.3"/><circle cx="210.1" cy="708" r="22.3"/><circle cx="202.3" cy="706.1" r="22.3"/><circle cx="207.3" cy="708.2" r="22.3"/><circle cx="201.5" cy="717.1" r="22.3"/><circle cx="212" cy="716.9" r="22.3"/><circle cx="201.4" cy="709.8" r="22.3"/><circle cx="201.5" cy="712.9" r="22.3"/><circle cx="212" cy="716.7" r="22.3"/><circle cx="212.4" cy="706.6" r="22.3"/><circle cx="214.2" cy="710.3" r="22.3"/><circle cx="212.1" cy="716.1" r="22.3"/><circle cx="208.7" cy="707" r="22.3"/><circle cx="212.7" cy="715.9" r="22.3"/><circle cx="212.2" cy="713.1" r="22.3"/><circle cx="207.9" cy="708" r="22.3"/><circle cx="210" cy="714" r="22.3"/><circle cx="212.6" cy="706.3" r="22.3"/><circle cx="211.9" cy="717.5" r="22.3"/><circle cx="201.1" cy="710.8" r="22.3"/><circle cx="202.2" cy="717" r="22.3"/><circle cx="212.8" cy="717.5" r="22.3"/><circle cx="204.7" cy="714.2" r="22.3"/><circle cx="213.6" cy="706.1" r="22.3"/><circle cx="211.6" cy="712.3" r="22.3"/><circle cx="202.5" cy="705.9" r="22.3"/><circle cx="203.9" cy="710" r="22.3"/><circle cx="211.5" cy="693" r="22.3"/><circle cx="213" cy="687.6" r="22.3"/><circle cx="205.9" cy="690.5" r="22.3"/><circle cx="202.2" cy="694" r="22.3"/><circle cx="210.1" cy="696" r="22.3"/><circle cx="206" cy="689.9" r="22.3"/><circle cx="203.8" cy="687.8" r="22.3"/><circle cx="202.8" cy="696.7" r="22.3"/><circle cx="209.3" cy="696.6" r="22.3"/><circle cx="212.4" cy="694.9" r="22.3"/><circle cx="202.6" cy="691" r="22.3"/><circle cx="206.7" cy="691.6" r="22.3"/><circle cx="202.4" cy="698.8" r="22.3"/><circle cx="204.9" cy="693" r="22.3"/><circle cx="203.6" cy="696.8" r="22.3"/><circle cx="212.3" cy="696.4" r="22.3"/><circle cx="205.6" cy="688.4" r="22.3"/><circle cx="214.5" cy="689.7" r="22.3"/><circle cx="202.8" cy="689.8" r="22.3"/><circle cx="202.1" cy="689.4" r="22.3"/><circle cx="204.7" cy="696.7" r="22.3"/><circle cx="206.7" cy="697.7" r="22.3"/><circle cx="210" cy="689.1" r="22.3"/><circle cx="210" cy="689.4" r="22.3"/><circle cx="203.1" cy="696" r="22.3"/><circle cx="212.3" cy="695.3" r="22.3"/><circle cx="211.1" cy="692.3" r="22.3"/><circle cx="202.9" cy="696.7" r="22.3"/><circle cx="213.5" cy="688.1" r="22.3"/><circle cx="209" cy="699.3" r="22.3"/><circle cx="201.1" cy="687.6" r="22.3"/><circle cx="211.8" cy="690.6" r="22.3"/><circle cx="204.4" cy="688" r="22.3"/><circle cx="201.9" cy="690.8" r="22.3"/><circle cx="210.3" cy="694.8" r="22.3"/><circle cx="212" cy="697.1" r="22.3"/><circle cx="214.1" cy="687.7" r="22.3"/><circle cx="205.5" cy="695.3" r="22.3"/><circle cx="211.8" cy="695.1" r="22.3"/><circle cx="208.9" cy="690.7" r="22.3"/><circle cx="213.8" cy="689.9" r="22.3"/><circle cx="204.7" cy="695" r="22.3"/><circle cx="201.9" cy="689.3" r="22.3"/><circle cx="212.4" cy="696.7" r="22.3"/><circle cx="207.3" cy="695.1" r="22.3"/><circle cx="204.8" cy="699.1" r="22.3"/><circle cx="209" cy="687.4" r="22.3"/><circle cx="203.2" cy="689.9" r="22.3"/><circle cx="211.5" cy="692.7" r="22.3"/><circle cx="212.5" cy="694.1" r="22.3"/><circle cx="209.4" cy="698.6" r="22.3"/><circle cx="203" cy="692" r="22.3"/><circle cx="212.4" cy="693.5" r="22.3"/><circle cx="213.7" cy="693.2" r="22.3"/><circle cx="206.5" cy="689.6" r="22.3"/><circle cx="213.5" cy="688.1" r="22.3"/><circle cx="209.9" cy="696.8" r="22.3"/><circle cx="205.1" cy="692.4" r="22.3"/><circle cx="201.4" cy="695.7" r="22.3"/><circle cx="211.7" cy="696.3" r="22.3"/><circle cx="209.8" cy="680.7" r="22.3"/><circle cx="202.7" cy="680.4" r="22.3"/><circle cx="205.3" cy="681.1" r="22.3"/><circle cx="205.1" cy="672.9" r="22.3"/><circle cx="208.7" cy="678.3" r="22.3"/><circle cx="204.5" cy="680.9" r="22.3"/><circle cx="211.8" cy="680.4" r="22.3"/><circle cx="202.9" cy="679.7" r="22.3"/><circle cx="210.1" cy="672.7" r="22.3"/><circle cx="212.3" cy="678.3" r="22.3"/><circle cx="203.2" cy="673.4" r="22.3"/><circle cx="201.4" cy="677.2" r="22.3"/><circle cx="214.2" cy="680.6" r="22.3"/><circle cx="208" cy="680.7" r="22.3"/><circle cx="206.6" cy="683.2" r="22.3"/><circle cx="209.3" cy="675.7" r="22.3"/><circle cx="202.7" cy="684.5" r="22.3"/><circle cx="204.2" cy="680.1" r="22.3"/><circle cx="206.8" cy="675.6" r="22.3"/><circle cx="208" cy="684.2" r="22.3"/><circle cx="201.1" cy="679" r="22.3"/><circle cx="203.2" cy="674.3" r="22.3"/><circle cx="211.1" cy="655.8" r="22.3"/><circle cx="209.3" cy="663.3" r="22.3"/><circle cx="211.7" cy="662.3" r="22.3"/><circle cx="203.1" cy="665.5" r="22.3"/><circle cx="206.2" cy="653.9" r="22.3"/><circle cx="210.2" cy="657.6" r="22.3"/><circle cx="206.1" cy="660.4" r="22.3"/><circle cx="213.3" cy="653.3" r="22.3"/><circle cx="205.4" cy="658.5" r="22.3"/><circle cx="207.5" cy="663.4" r="22.3"/><circle cx="207.9" cy="664.8" r="22.3"/><circle cx="211.8" cy="660.8" r="22.3"/><circle cx="209.8" cy="656.1" r="22.3"/><circle cx="204.1" cy="654" r="22.3"/><circle cx="214.4" cy="659.8" r="22.3"/><circle cx="201.9" cy="657.9" r="22.3"/><circle cx="210.2" cy="663.2" r="22.3"/><circle cx="211.5" cy="662.4" r="22.3"/><circle cx="204.4" cy="664.9" r="22.3"/><circle cx="209.4" cy="656.4" r="22.3"/><circle cx="210.4" cy="662.1" r="22.3"/><circle cx="205" cy="665.3" r="22.3"/><circle cx="203.3" cy="662.7" r="22.3"/><circle cx="203.7" cy="665.4" r="22.3"/><circle cx="206.3" cy="665.8" r="22.3"/><circle cx="207.8" cy="665.9" r="22.3"/><circle cx="206.1" cy="664.7" r="22.3"/><circle cx="203.1" cy="657.1" r="22.3"/><circle cx="201.9" cy="634.7" r="22.3"/><circle cx="210.2" cy="636.4" r="22.3"/><circle cx="208.1" cy="635.4" r="22.3"/><circle cx="203.9" cy="639.4" r="22.3"/><circle cx="201.1" cy="644.5" r="22.3"/><circle cx="206.6" cy="636.7" r="22.3"/><circle cx="214.1" cy="633.9" r="22.3"/><circle cx="201.6" cy="632.9" r="22.3"/><circle cx="206.3" cy="639.3" r="22.3"/><circle cx="203.1" cy="643.4" r="22.3"/><circle cx="207.1" cy="637.6" r="22.3"/><circle cx="212.5" cy="636.1" r="22.3"/><circle cx="203.5" cy="637" r="22.3"/><circle cx="212.1" cy="641.4" r="22.3"/><circle cx="204.9" cy="641.3" r="22.3"/><circle cx="214.2" cy="642.7" r="22.3"/><circle cx="209.5" cy="640" r="22.3"/><circle cx="210.8" cy="638.2" r="22.3"/><circle cx="203.9" cy="633.7" r="22.3"/><circle cx="208.2" cy="644.3" r="22.3"/><circle cx="203.9" cy="642.4" r="22.3"/><circle cx="205.3" cy="642.5" r="22.3"/><circle cx="209.7" cy="636.8" r="22.3"/><circle cx="206.2" cy="641.3" r="22.3"/><circle cx="209.6" cy="639.8" r="22.3"/><circle cx="211.4" cy="633.6" r="22.3"/><circle cx="210.7" cy="632.6" r="22.3"/><circle cx="205" cy="633.8" r="22.3"/><circle cx="206.4" cy="633.7" r="22.3"/><circle cx="209.3" cy="640.9" r="22.3"/><circle cx="204.7" cy="633.7" r="22.3"/><circle cx="207.5" cy="642.6" r="22.3"/><circle cx="208.8" cy="642.7" r="22.3"/><circle cx="201.7" cy="641.2" r="22.3"/><circle cx="211.5" cy="641.9" r="22.3"/><circle cx="212.7" cy="644" r="22.3"/><circle cx="205.5" cy="644.5" r="22.3"/><circle cx="210.3" cy="636.7" r="22.3"/><circle cx="211.6" cy="634.2" r="22.3"/><circle cx="213.3" cy="639.2" r="22.3"/><circle cx="205.9" cy="636.8" r="22.3"/><circle cx="207.5" cy="642.1" r="22.3"/><circle cx="206.8" cy="639.6" r="22.3"/><circle cx="213" cy="643.5" r="22.3"/><circle cx="210.8" cy="635.6" r="22.3"/><circle cx="213.4" cy="637.3" r="22.3"/><circle cx="210.5" cy="643" r="22.3"/><circle cx="212.8" cy="643.9" r="22.3"/><circle cx="209.2" cy="643.1" r="22.3"/><circle cx="204" cy="635.8" r="22.3"/><circle cx="206.1" cy="635.8" r="22.3"/><circle cx="203.9" cy="643.3" r="22.3"/><circle cx="205.6" cy="638.1" r="22.3"/><circle cx="212" cy="633.6" r="22.3"/><circle cx="206.1" cy="632.6" r="22.3"/><circle cx="208.6" cy="642.2" r="22.3"/><circle cx="207.8" cy="635.9" r="22.3"/><circle cx="211.3" cy="643" r="22.3"/><circle cx="214.2" cy="637.5" r="22.3"/><circle cx="200.9" cy="640.9" r="22.3"/><circle cx="212.3" cy="603.8" r="22.3"/><circle cx="205.1" cy="595.9" r="22.3"/><circle cx="202.6" cy="595.4" r="22.3"/><circle cx="208.9" cy="601.1" r="22.3"/><circle cx="212" cy="603.6" r="22.3"/><circle cx="203.5" cy="594.8" r="22.3"/><circle cx="209.1" cy="601.8" r="22.3"/><circle cx="206.3" cy="593.8" r="22.3"/><circle cx="203.3" cy="603.7" r="22.3"/><circle cx="207.7" cy="601.9" r="22.3"/><circle cx="210.2" cy="601.4" r="22.3"/><circle cx="203.5" cy="596.7" r="22.3"/><circle cx="214" cy="597.6" r="22.3"/><circle cx="214.1" cy="591.9" r="22.3"/><circle cx="211.2" cy="584.2" r="22.3"/><circle cx="206" cy="590.5" r="22.3"/><circle cx="208.1" cy="589.2" r="22.3"/><circle cx="250.9" cy="725.7" r="22.3"/><circle cx="250.8" cy="723.9" r="22.3"/><circle cx="250.8" cy="719.4" r="22.3"/><circle cx="250.7" cy="729.7" r="22.3"/><circle cx="255.2" cy="697.5" r="22.3"/><circle cx="248.2" cy="701.3" r="22.3"/><circle cx="250.8" cy="702" r="22.3"/><circle cx="252.3" cy="694.3" r="22.3"/><circle cx="243.9" cy="673" r="22.3"/><circle cx="256.7" cy="673.7" r="22.3"/><circle cx="249.5" cy="676.2" r="22.3"/><circle cx="249.5" cy="679.9" r="22.3"/><circle cx="245.3" cy="682" r="22.3"/><circle cx="249.7" cy="681" r="22.3"/><circle cx="246" cy="676.9" r="22.3"/><circle cx="247" cy="674" r="22.3"/><circle cx="244.4" cy="646.3" r="22.3"/><circle cx="249" cy="646.5" r="22.3"/><circle cx="254.6" cy="643" r="22.3"/><circle cx="244" cy="646.6" r="22.3"/><circle cx="252.7" cy="645.3" r="22.3"/><circle cx="247.2" cy="646.5" r="22.3"/><circle cx="243.3" cy="639.6" r="22.3"/><circle cx="247.6" cy="646.1" r="22.3"/><circle cx="244.6" cy="642.8" r="22.3"/><circle cx="253.3" cy="637.2" r="22.3"/><circle cx="255.9" cy="649" r="22.3"/><circle cx="249.9" cy="643" r="22.3"/><circle cx="250.7" cy="627" r="22.3"/><circle cx="255.8" cy="624.9" r="22.3"/><circle cx="249.1" cy="620.2" r="22.3"/><circle cx="250.2" cy="632.3" r="22.3"/><circle cx="251.7" cy="620.2" r="22.3"/><circle cx="252.1" cy="629.9" r="22.3"/><circle cx="254.6" cy="607.8" r="22.3"/><circle cx="254.7" cy="606.5" r="22.3"/><circle cx="254.7" cy="606" r="22.3"/><circle cx="245.1" cy="605" r="22.3"/><circle cx="250" cy="599.5" r="22.3"/><circle cx="250.2" cy="607.3" r="22.3"/><circle cx="256.1" cy="597.6" r="22.3"/><circle cx="248.2" cy="607.7" r="22.3"/><circle cx="248.7" cy="596" r="22.3"/><circle cx="256.2" cy="606.1" r="22.3"/><circle cx="245.8" cy="595.8" r="22.3"/><circle cx="247.8" cy="599.4" r="22.3"/><circle cx="255.9" cy="597.8" r="22.3"/><circle cx="254.2" cy="600.5" r="22.3"/><circle cx="254.2" cy="605.2" r="22.3"/><circle cx="255.5" cy="605.5" r="22.3"/><circle cx="244.8" cy="598.5" r="22.3"/><circle cx="256.7" cy="598.6" r="22.3"/><circle cx="251.7" cy="607.1" r="22.3"/><circle cx="250.4" cy="606" r="22.3"/><circle cx="250.5" cy="603" r="22.3"/><circle cx="245.1" cy="601.3" r="22.3"/><circle cx="254" cy="599.2" r="22.3"/><circle cx="245.1" cy="596.4" r="22.3"/><circle cx="255.9" cy="603.7" r="22.3"/><circle cx="256.5" cy="605.8" r="22.3"/><circle cx="248.6" cy="597.6" r="22.3"/><circle cx="244.3" cy="603.2" r="22.3"/><circle cx="243.3" cy="605.5" r="22.3"/><circle cx="248" cy="597.7" r="22.3"/><circle cx="251.7" cy="607" r="22.3"/><circle cx="254" cy="598.6" r="22.3"/><circle cx="247.3" cy="606" r="22.3"/><circle cx="253.2" cy="596.3" r="22.3"/><circle cx="246.1" cy="604" r="22.3"/><circle cx="247.7" cy="596" r="22.3"/><circle cx="243.8" cy="608" r="22.3"/><circle cx="245.6" cy="602.4" r="22.3"/><circle cx="256.4" cy="607.8" r="22.3"/><circle cx="254.1" cy="601.6" r="22.3"/><circle cx="255.3" cy="596" r="22.3"/><circle cx="253" cy="605.1" r="22.3"/><circle cx="255.6" cy="608.1" r="22.3"/><circle cx="256.7" cy="603" r="22.3"/><circle cx="246.8" cy="597" r="22.3"/><circle cx="250" cy="603.3" r="22.3"/><circle cx="247.3" cy="602.9" r="22.3"/><circle cx="246.5" cy="601.7" r="22.3"/><circle cx="249.1" cy="604.9" r="22.3"/><circle cx="243.2" cy="606.3" r="22.3"/><circle cx="253.8" cy="563.9" r="22.3"/><circle cx="255.8" cy="570.9" r="22.3"/><circle cx="255.8" cy="561.6" r="22.3"/><circle cx="247.9" cy="560.7" r="22.3"/><circle cx="256.6" cy="562.1" r="22.3"/><circle cx="250.8" cy="561.8" r="22.3"/><circle cx="245.3" cy="571.2" r="22.3"/><circle cx="245" cy="564" r="22.3"/><circle cx="256.3" cy="570.4" r="22.3"/><circle cx="245" cy="561.6" r="22.3"/><circle cx="255.2" cy="530.2" r="22.3"/><circle cx="243.6" cy="528.3" r="22.3"/><circle cx="246.9" cy="531.8" r="22.3"/><circle cx="245.1" cy="521.3" r="22.3"/><circle cx="244" cy="526.1" r="22.3"/><circle cx="253" cy="522.8" r="22.3"/><circle cx="247.4" cy="530.2" r="22.3"/><circle cx="249" cy="527.3" r="22.3"/><circle cx="249.3" cy="528.2" r="22.3"/><circle cx="249.6" cy="519.5" r="22.3"/><circle cx="243.3" cy="528.9" r="22.3"/><circle cx="254.8" cy="525.5" r="22.3"/><circle cx="253.9" cy="530.9" r="22.3"/><circle cx="256.7" cy="531.8" r="22.3"/><circle cx="253.9" cy="528.7" r="22.3"/><circle cx="252.9" cy="521.7" r="22.3"/><circle cx="253.2" cy="519.8" r="22.3"/><circle cx="246.2" cy="521.1" r="22.3"/><circle cx="251.6" cy="529.5" r="22.3"/><circle cx="246.1" cy="530.7" r="22.3"/><circle cx="255.5" cy="527.7" r="22.3"/><circle cx="247.9" cy="530.3" r="22.3"/><circle cx="254.1" cy="524.8" r="22.3"/><circle cx="245.9" cy="521.8" r="22.3"/><circle cx="250.5" cy="521.8" r="22.3"/><circle cx="252.8" cy="526.4" r="22.3"/><circle cx="248" cy="520.5" r="22.3"/><circle cx="245.6" cy="530.6" r="22.3"/><circle cx="254.9" cy="523.2" r="22.3"/><circle cx="255.8" cy="524.1" r="22.3"/><circle cx="256.8" cy="526.4" r="22.3"/><circle cx="244" cy="523.4" r="22.3"/><circle cx="246.6" cy="526.9" r="22.3"/><circle cx="248.2" cy="527.7" r="22.3"/><circle cx="250.2" cy="524.3" r="22.3"/><circle cx="247.7" cy="466.9" r="22.3"/><circle cx="251.5" cy="468.9" r="22.3"/><circle cx="251.5" cy="476.7" r="22.3"/><circle cx="251.3" cy="475.4" r="22.3"/><circle cx="250.9" cy="469.8" r="22.3"/><circle cx="256.1" cy="475.8" r="22.3"/><circle cx="256.4" cy="470.4" r="22.3"/><circle cx="249" cy="470.9" r="22.3"/><circle cx="247.5" cy="469.9" r="22.3"/><circle cx="250.4" cy="470.8" r="22.3"/><circle cx="300.3" cy="750.1" r="22.3"/><circle cx="295.1" cy="751.9" r="22.3"/><circle cx="290.8" cy="753.1" r="22.3"/><circle cx="288.2" cy="752.8" r="22.3"/><circle cx="300.7" cy="711.7" r="22.3"/><circle cx="297.6" cy="706.7" r="22.3"/><circle cx="295.2" cy="716.5" r="22.3"/><circle cx="301" cy="711.7" r="22.3"/><circle cx="293.3" cy="717.3" r="22.3"/><circle cx="297.3" cy="707.4" r="22.3"/><circle cx="294.7" cy="715.8" r="22.3"/><circle cx="297.1" cy="715.7" r="22.3"/><circle cx="292.2" cy="715.1" r="22.3"/><circle cx="294.6" cy="709.9" r="22.3"/><circle cx="295.1" cy="691.8" r="22.3"/><circle cx="290.6" cy="691.1" r="22.3"/><circle cx="294.4" cy="681.7" r="22.3"/><circle cx="296.4" cy="683" r="22.3"/><circle cx="288.7" cy="693.6" r="22.3"/><circle cx="294.9" cy="691" r="22.3"/><circle cx="292" cy="684.6" r="22.3"/><circle cx="288.7" cy="682.8" r="22.3"/><circle cx="293.1" cy="686.4" r="22.3"/><circle cx="288" cy="693.1" r="22.3"/><circle cx="296.6" cy="693.4" r="22.3"/><circle cx="296.1" cy="690" r="22.3"/><circle cx="291.5" cy="681.8" r="22.3"/><circle cx="299.2" cy="690" r="22.3"/><circle cx="292.7" cy="690.2" r="22.3"/><circle cx="289.1" cy="681.8" r="22.3"/><circle cx="296.3" cy="684.8" r="22.3"/><circle cx="293.2" cy="691.3" r="22.3"/><circle cx="296.1" cy="690.8" r="22.3"/><circle cx="299.9" cy="681.9" r="22.3"/><circle cx="300.7" cy="691.2" r="22.3"/><circle cx="291.5" cy="683" r="22.3"/><circle cx="293.8" cy="686.8" r="22.3"/><circle cx="297.2" cy="691.2" r="22.3"/><circle cx="293.8" cy="692.8" r="22.3"/><circle cx="287.8" cy="681.6" r="22.3"/><circle cx="297.3" cy="686" r="22.3"/><circle cx="290.2" cy="690.2" r="22.3"/><circle cx="300" cy="681.3" r="22.3"/><circle cx="296.2" cy="682.2" r="22.3"/><circle cx="292.8" cy="664.6" r="22.3"/><circle cx="297.4" cy="672.5" r="22.3"/><circle cx="300" cy="675.1" r="22.3"/><circle cx="291.1" cy="669" r="22.3"/><circle cx="300.3" cy="670.8" r="22.3"/><circle cx="288.9" cy="666.1" r="22.3"/><circle cx="296.6" cy="673.8" r="22.3"/><circle cx="296.9" cy="670.4" r="22.3"/><circle cx="293.2" cy="663.4" r="22.3"/><circle cx="298.8" cy="662.9" r="22.3"/><circle cx="297" cy="670.4" r="22.3"/><circle cx="292.5" cy="673.5" r="22.3"/><circle cx="288.4" cy="668.8" r="22.3"/><circle cx="289.6" cy="667.9" r="22.3"/><circle cx="290.3" cy="668.9" r="22.3"/><circle cx="299.7" cy="669.4" r="22.3"/><circle cx="300.1" cy="671.5" r="22.3"/><circle cx="289.3" cy="666.3" r="22.3"/><circle cx="293.4" cy="666.8" r="22.3"/><circle cx="295.3" cy="669.8" r="22.3"/><circle cx="292.4" cy="672.5" r="22.3"/><circle cx="301" cy="672.7" r="22.3"/><circle cx="293.7" cy="664" r="22.3"/><circle cx="298.6" cy="662.8" r="22.3"/><circle cx="296" cy="671.7" r="22.3"/><circle cx="299.3" cy="674.4" r="22.3"/><circle cx="300.3" cy="669.6" r="22.3"/><circle cx="296.8" cy="663.9" r="22.3"/><circle cx="294.5" cy="664.9" r="22.3"/><circle cx="298.9" cy="668.8" r="22.3"/><circle cx="299.9" cy="651.6" r="22.3"/><circle cx="289.6" cy="645.8" r="22.3"/><circle cx="298.7" cy="649.6" r="22.3"/><circle cx="287.8" cy="649.3" r="22.3"/><circle cx="290.5" cy="653.9" r="22.3"/><circle cx="289.7" cy="647.2" r="22.3"/><circle cx="292.6" cy="644.7" r="22.3"/><circle cx="290.4" cy="647.1" r="22.3"/><circle cx="291.1" cy="651.2" r="22.3"/><circle cx="289.5" cy="645.4" r="22.3"/><circle cx="291.3" cy="646.3" r="22.3"/><circle cx="296.8" cy="647.8" r="22.3"/><circle cx="296.5" cy="646.1" r="22.3"/><circle cx="288.8" cy="645" r="22.3"/><circle cx="294.5" cy="644.5" r="22.3"/><circle cx="288.9" cy="654.1" r="22.3"/><circle cx="296.3" cy="650.9" r="22.3"/><circle cx="300.9" cy="650.9" r="22.3"/><circle cx="293.6" cy="650.4" r="22.3"/><circle cx="295.1" cy="652.1" r="22.3"/><circle cx="300.6" cy="651.3" r="22.3"/><circle cx="300" cy="642.3" r="22.3"/><circle cx="292" cy="644.4" r="22.3"/><circle cx="299.7" cy="654.3" r="22.3"/><circle cx="300.7" cy="649.9" r="22.3"/><circle cx="292.1" cy="644.6" r="22.3"/><circle cx="289.7" cy="654.4" r="22.3"/><circle cx="300.7" cy="654.6" r="22.3"/><circle cx="296.1" cy="647.6" r="22.3"/><circle cx="293.2" cy="644.3" r="22.3"/><circle cx="298.6" cy="654.5" r="22.3"/><circle cx="295.9" cy="643.9" r="22.3"/><circle cx="292.7" cy="653.2" r="22.3"/><circle cx="295.3" cy="654.6" r="22.3"/><circle cx="292.7" cy="648.5" r="22.3"/><circle cx="290.4" cy="647.4" r="22.3"/><circle cx="298.7" cy="648.8" r="22.3"/><circle cx="294.8" cy="652.4" r="22.3"/><circle cx="287.5" cy="648.8" r="22.3"/><circle cx="290.8" cy="646.8" r="22.3"/><circle cx="288.8" cy="649.1" r="22.3"/><circle cx="294.5" cy="644.9" r="22.3"/><circle cx="288.1" cy="643.5" r="22.3"/><circle cx="289.5" cy="643.2" r="22.3"/><circle cx="298.5" cy="643.5" r="22.3"/><circle cx="300.1" cy="653.7" r="22.3"/><circle cx="292.4" cy="647.3" r="22.3"/><circle cx="292" cy="646.4" r="22.3"/><circle cx="299.3" cy="652.2" r="22.3"/><circle cx="291.8" cy="643.7" r="22.3"/><circle cx="291.9" cy="653.7" r="22.3"/><circle cx="297.6" cy="651.1" r="22.3"/><circle cx="295.4" cy="653.9" r="22.3"/><circle cx="295.2" cy="644.5" r="22.3"/><circle cx="293.5" cy="650.2" r="22.3"/><circle cx="298" cy="622.1" r="22.3"/><circle cx="293.9" cy="626.5" r="22.3"/><circle cx="296.7" cy="618.2" r="22.3"/><circle cx="287.4" cy="624.8" r="22.3"/><circle cx="296.3" cy="626.8" r="22.3"/><circle cx="299.2" cy="627" r="22.3"/><circle cx="290.8" cy="622.9" r="22.3"/><circle cx="289.3" cy="617.2" r="22.3"/><circle cx="294.4" cy="623.8" r="22.3"/><circle cx="295.8" cy="619.2" r="22.3"/><circle cx="294.9" cy="620.5" r="22.3"/><circle cx="296.7" cy="623.2" r="22.3"/><circle cx="291.3" cy="627.1" r="22.3"/><circle cx="296.5" cy="623.9" r="22.3"/><circle cx="300.5" cy="625.2" r="22.3"/><circle cx="298.1" cy="623.1" r="22.3"/><circle cx="289.5" cy="623.8" r="22.3"/><circle cx="296" cy="620.2" r="22.3"/><circle cx="292.2" cy="625.8" r="22.3"/><circle cx="289.6" cy="621.2" r="22.3"/><circle cx="296.7" cy="617.3" r="22.3"/><circle cx="294.1" cy="624.5" r="22.3"/><circle cx="298.4" cy="620.7" r="22.3"/><circle cx="297.3" cy="627.9" r="22.3"/><circle cx="298.7" cy="623.7" r="22.3"/><circle cx="296.6" cy="627.8" r="22.3"/><circle cx="287.4" cy="628.3" r="22.3"/><circle cx="288.4" cy="627.6" r="22.3"/><circle cx="299.2" cy="621.8" r="22.3"/><circle cx="288.3" cy="616.1" r="22.3"/><circle cx="293.3" cy="620.1" r="22.3"/><circle cx="296.5" cy="624.2" r="22.3"/><circle cx="298.7" cy="616.5" r="22.3"/><circle cx="293" cy="624.2" r="22.3"/><circle cx="293.2" cy="618.2" r="22.3"/><circle cx="294.3" cy="627.4" r="22.3"/><circle cx="287.6" cy="620.3" r="22.3"/><circle cx="289.4" cy="619" r="22.3"/><circle cx="295.6" cy="626" r="22.3"/><circle cx="288.4" cy="620.2" r="22.3"/><circle cx="289.6" cy="597.7" r="22.3"/><circle cx="294.5" cy="605.9" r="22.3"/><circle cx="298.4" cy="602.3" r="22.3"/><circle cx="296.4" cy="600.1" r="22.3"/><circle cx="293.6" cy="609.5" r="22.3"/><circle cx="289.6" cy="597.5" r="22.3"/><circle cx="296" cy="609.8" r="22.3"/><circle cx="289.4" cy="608.7" r="22.3"/><circle cx="290.9" cy="601.8" r="22.3"/><circle cx="300.1" cy="602.8" r="22.3"/><circle cx="294.2" cy="598.4" r="22.3"/><circle cx="289.2" cy="598.7" r="22.3"/><circle cx="296.2" cy="607.1" r="22.3"/><circle cx="297.9" cy="607.9" r="22.3"/><circle cx="295.5" cy="604.3" r="22.3"/><circle cx="288.9" cy="598.2" r="22.3"/><circle cx="290.1" cy="605.5" r="22.3"/><circle cx="296.1" cy="606.7" r="22.3"/><circle cx="288.7" cy="606.3" r="22.3"/><circle cx="292.6" cy="599.9" r="22.3"/><circle cx="294.9" cy="598.4" r="22.3"/><circle cx="289.3" cy="599.6" r="22.3"/><circle cx="300.9" cy="597.6" r="22.3"/><circle cx="291.5" cy="608.8" r="22.3"/><circle cx="297.9" cy="604.5" r="22.3"/><circle cx="296.2" cy="608.8" r="22.3"/><circle cx="300.6" cy="605.1" r="22.3"/><circle cx="300.6" cy="610" r="22.3"/><circle cx="291.4" cy="604.1" r="22.3"/><circle cx="292.5" cy="607.4" r="22.3"/><circle cx="300.8" cy="603.1" r="22.3"/><circle cx="300.2" cy="603.5" r="22.3"/><circle cx="298.2" cy="602" r="22.3"/><circle cx="289.3" cy="601.2" r="22.3"/><circle cx="297.7" cy="601" r="22.3"/><circle cx="294.1" cy="609.5" r="22.3"/><circle cx="298.8" cy="597.8" r="22.3"/><circle cx="288.3" cy="609.5" r="22.3"/><circle cx="293.3" cy="600.7" r="22.3"/><circle cx="293.6" cy="599.7" r="22.3"/><circle cx="299.5" cy="602.5" r="22.3"/><circle cx="295.9" cy="601.9" r="22.3"/><circle cx="292.5" cy="607.5" r="22.3"/><circle cx="299.9" cy="606.8" r="22.3"/><circle cx="298.7" cy="603.5" r="22.3"/><circle cx="297.5" cy="600.1" r="22.3"/><circle cx="299.5" cy="599.5" r="22.3"/><circle cx="291.9" cy="599.5" r="22.3"/><circle cx="299.3" cy="602" r="22.3"/><circle cx="290.1" cy="597.6" r="22.3"/><circle cx="298.4" cy="605.2" r="22.3"/><circle cx="291.6" cy="599.8" r="22.3"/><circle cx="296.4" cy="605.3" r="22.3"/><circle cx="299.8" cy="597.5" r="22.3"/><circle cx="296.7" cy="599.6" r="22.3"/><circle cx="295.6" cy="606.2" r="22.3"/><circle cx="298.3" cy="601.2" r="22.3"/><circle cx="299.5" cy="605.7" r="22.3"/><circle cx="300.3" cy="601.3" r="22.3"/><circle cx="297.7" cy="599.4" r="22.3"/><circle cx="293.6" cy="580.8" r="22.3"/><circle cx="299.6" cy="579.2" r="22.3"/><circle cx="295.6" cy="590.7" r="22.3"/><circle cx="290.7" cy="589" r="22.3"/><circle cx="289.3" cy="586.7" r="22.3"/><circle cx="295.5" cy="578.9" r="22.3"/><circle cx="288.5" cy="579.3" r="22.3"/><circle cx="294.9" cy="581.3" r="22.3"/><circle cx="298.8" cy="587" r="22.3"/><circle cx="297" cy="582" r="22.3"/><circle cx="291.9" cy="579.7" r="22.3"/><circle cx="299.5" cy="591.3" r="22.3"/><circle cx="299.1" cy="586.6" r="22.3"/><circle cx="300.5" cy="590.7" r="22.3"/><circle cx="299" cy="585" r="22.3"/><circle cx="291.2" cy="585.2" r="22.3"/><circle cx="298.8" cy="586" r="22.3"/><circle cx="293.7" cy="580.3" r="22.3"/><circle cx="298.9" cy="588.7" r="22.3"/><circle cx="294.4" cy="586.4" r="22.3"/><circle cx="290" cy="588.9" r="22.3"/><circle cx="288.9" cy="589.3" r="22.3"/><circle cx="293.2" cy="588.3" r="22.3"/><circle cx="297.3" cy="590.3" r="22.3"/><circle cx="290.7" cy="579.3" r="22.3"/><circle cx="295.2" cy="589.1" r="22.3"/><circle cx="298.7" cy="591.2" r="22.3"/><circle cx="291.6" cy="589.7" r="22.3"/><circle cx="293.1" cy="585.5" r="22.3"/><circle cx="300" cy="585.2" r="22.3"/><circle cx="299.7" cy="579.3" r="22.3"/><circle cx="288" cy="590.1" r="22.3"/><circle cx="298.5" cy="587.7" r="22.3"/><circle cx="293.8" cy="583.2" r="22.3"/><circle cx="293.3" cy="580.5" r="22.3"/><circle cx="287.8" cy="588.1" r="22.3"/><circle cx="288.3" cy="588.2" r="22.3"/><circle cx="300.9" cy="591.1" r="22.3"/><circle cx="294.9" cy="588.7" r="22.3"/><circle cx="297.6" cy="589.4" r="22.3"/><circle cx="297.6" cy="584.9" r="22.3"/><circle cx="300.6" cy="590.5" r="22.3"/><circle cx="294.6" cy="579.9" r="22.3"/><circle cx="294.5" cy="586.1" r="22.3"/><circle cx="300.1" cy="581" r="22.3"/><circle cx="298.1" cy="586.3" r="22.3"/><circle cx="291.9" cy="587.9" r="22.3"/><circle cx="300.7" cy="590.5" r="22.3"/><circle cx="289.3" cy="583.4" r="22.3"/><circle cx="299.5" cy="579.1" r="22.3"/><circle cx="295.8" cy="553.6" r="22.3"/><circle cx="292.4" cy="557.9" r="22.3"/><circle cx="297.9" cy="562.2" r="22.3"/><circle cx="297" cy="559.1" r="22.3"/><circle cx="288" cy="559.9" r="22.3"/><circle cx="297.6" cy="554.3" r="22.3"/><circle cx="296.8" cy="555.3" r="22.3"/><circle cx="292.5" cy="560.5" r="22.3"/><circle cx="292.9" cy="558.9" r="22.3"/><circle cx="291.9" cy="553.2" r="22.3"/><circle cx="297" cy="562.5" r="22.3"/><circle cx="289.2" cy="558.4" r="22.3"/><circle cx="296.1" cy="555.7" r="22.3"/><circle cx="293.3" cy="557.1" r="22.3"/><circle cx="295.7" cy="560.7" r="22.3"/><circle cx="298.4" cy="560.1" r="22.3"/><circle cx="289.2" cy="562.6" r="22.3"/><circle cx="296.3" cy="558.4" r="22.3"/><circle cx="299" cy="553.3" r="22.3"/><circle cx="290.6" cy="554.6" r="22.3"/><circle cx="296.8" cy="557.3" r="22.3"/><circle cx="301" cy="562.3" r="22.3"/><circle cx="293.2" cy="559.3" r="22.3"/><circle cx="291.1" cy="556.6" r="22.3"/><circle cx="299.1" cy="558.4" r="22.3"/><circle cx="288.5" cy="561.1" r="22.3"/><circle cx="297.3" cy="558.6" r="22.3"/><circle cx="288" cy="561.2" r="22.3"/><circle cx="294.7" cy="560.4" r="22.3"/><circle cx="290.2" cy="559.6" r="22.3"/><circle cx="288.9" cy="553.2" r="22.3"/><circle cx="291.8" cy="558.5" r="22.3"/><circle cx="294.5" cy="558.8" r="22.3"/><circle cx="300" cy="562.5" r="22.3"/><circle cx="294.2" cy="562.5" r="22.3"/><circle cx="288.3" cy="555.5" r="22.3"/><circle cx="292" cy="555.1" r="22.3"/><circle cx="294.1" cy="564" r="22.3"/><circle cx="288.5" cy="564.1" r="22.3"/><circle cx="295.3" cy="559.3" r="22.3"/><circle cx="291.4" cy="560.6" r="22.3"/><circle cx="293.3" cy="553.5" r="22.3"/><circle cx="299.6" cy="554" r="22.3"/><circle cx="297.6" cy="562.9" r="22.3"/><circle cx="292.5" cy="554" r="22.3"/><circle cx="290.2" cy="555.3" r="22.3"/><circle cx="288.9" cy="554.1" r="22.3"/><circle cx="291" cy="561.2" r="22.3"/><circle cx="300.6" cy="563.1" r="22.3"/><circle cx="299.7" cy="560.7" r="22.3"/><circle cx="291.2" cy="562.6" r="22.3"/><circle cx="288.2" cy="559.7" r="22.3"/><circle cx="293.5" cy="560.5" r="22.3"/><circle cx="287.5" cy="553.2" r="22.3"/><circle cx="298.9" cy="556.5" r="22.3"/><circle cx="289.3" cy="562.6" r="22.3"/><circle cx="294.1" cy="562.3" r="22.3"/><circle cx="291.3" cy="561.7" r="22.3"/><circle cx="298" cy="556" r="22.3"/><circle cx="290.3" cy="552.4" r="22.3"/><circle cx="295.7" cy="516.2" r="22.3"/><circle cx="296.6" cy="520.4" r="22.3"/><circle cx="293.8" cy="520.9" r="22.3"/><circle cx="288.4" cy="514.3" r="22.3"/><circle cx="292.1" cy="525.6" r="22.3"/><circle cx="288.8" cy="521.4" r="22.3"/><circle cx="297.2" cy="519.9" r="22.3"/><circle cx="291.9" cy="514.8" r="22.3"/><circle cx="288.4" cy="522.9" r="22.3"/><circle cx="299.5" cy="520.3" r="22.3"/><circle cx="293.8" cy="525.3" r="22.3"/><circle cx="295.6" cy="517" r="22.3"/><circle cx="298.9" cy="524.8" r="22.3"/><circle cx="295.2" cy="515.9" r="22.3"/><circle cx="299.6" cy="525.1" r="22.3"/><circle cx="289.4" cy="514.8" r="22.3"/><circle cx="292.7" cy="520.9" r="22.3"/><circle cx="297.5" cy="523.5" r="22.3"/><circle cx="289.4" cy="519.2" r="22.3"/><circle cx="295.9" cy="514.4" r="22.3"/><circle cx="331.1" cy="693.2" r="22.3"/><circle cx="331.4" cy="694" r="22.3"/><circle cx="338.5" cy="696.1" r="22.3"/><circle cx="335.1" cy="696.1" r="22.3"/><circle cx="340.9" cy="667.3" r="22.3"/><circle cx="335.9" cy="668.6" r="22.3"/><circle cx="335.6" cy="672.5" r="22.3"/><circle cx="338.2" cy="670.4" r="22.3"/><circle cx="335.9" cy="672" r="22.3"/><circle cx="341.5" cy="673.9" r="22.3"/><circle cx="338.3" cy="676.3" r="22.3"/><circle cx="343.1" cy="677.5" r="22.3"/><circle cx="340.4" cy="676" r="22.3"/><circle cx="338.7" cy="678" r="22.3"/><circle cx="334.2" cy="677.5" r="22.3"/><circle cx="335.5" cy="670.2" r="22.3"/><circle cx="329.9" cy="647.8" r="22.3"/><circle cx="335.2" cy="643.7" r="22.3"/><circle cx="335.1" cy="654.4" r="22.3"/><circle cx="333" cy="643.7" r="22.3"/><circle cx="336.3" cy="649.8" r="22.3"/><circle cx="334" cy="651.1" r="22.3"/><circle cx="331.6" cy="647.6" r="22.3"/><circle cx="331.6" cy="653" r="22.3"/><circle cx="331.7" cy="651.8" r="22.3"/><circle cx="341.9" cy="652.3" r="22.3"/><circle cx="330.1" cy="642.8" r="22.3"/><circle cx="336.4" cy="642.5" r="22.3"/><circle cx="340.5" cy="648.8" r="22.3"/><circle cx="335.5" cy="654.8" r="22.3"/><circle cx="335.4" cy="651.8" r="22.3"/><circle cx="334.9" cy="643.9" r="22.3"/><circle cx="338.2" cy="642.8" r="22.3"/><circle cx="340.2" cy="644" r="22.3"/><circle cx="331.2" cy="648.3" r="22.3"/><circle cx="340.9" cy="644.9" r="22.3"/><circle cx="336.9" cy="623.3" r="22.3"/><circle cx="327.4" cy="622.1" r="22.3"/><circle cx="333.4" cy="619.1" r="22.3"/><circle cx="330.7" cy="617.3" r="22.3"/><circle cx="337.7" cy="619.2" r="22.3"/><circle cx="335.8" cy="616.2" r="22.3"/><circle cx="326.9" cy="624.3" r="22.3"/><circle cx="331.7" cy="623.4" r="22.3"/><circle cx="334.9" cy="623.1" r="22.3"/><circle cx="330.8" cy="628.4" r="22.3"/><circle cx="326.3" cy="622.5" r="22.3"/><circle cx="330.1" cy="625.8" r="22.3"/><circle cx="325.9" cy="627.7" r="22.3"/><circle cx="328.1" cy="622.7" r="22.3"/><circle cx="328.8" cy="622.9" r="22.3"/><circle cx="335.8" cy="627.8" r="22.3"/><circle cx="334.3" cy="619.1" r="22.3"/><circle cx="338" cy="616.1" r="22.3"/><circle cx="328.2" cy="628.2" r="22.3"/><circle cx="334.5" cy="621.8" r="22.3"/><circle cx="338.1" cy="602.5" r="22.3"/><circle cx="336.9" cy="609.9" r="22.3"/><circle cx="332.1" cy="607.6" r="22.3"/><circle cx="328.1" cy="609.2" r="22.3"/><circle cx="338.6" cy="605.1" r="22.3"/><circle cx="336.6" cy="600.3" r="22.3"/><circle cx="336.7" cy="606.3" r="22.3"/><circle cx="336.2" cy="604.3" r="22.3"/><circle cx="338.4" cy="601.5" r="22.3"/><circle cx="337.9" cy="598" r="22.3"/><circle cx="330.5" cy="605.6" r="22.3"/><circle cx="325.7" cy="599.5" r="22.3"/><circle cx="334.1" cy="608" r="22.3"/><circle cx="334.2" cy="598.1" r="22.3"/><circle cx="338.3" cy="597.5" r="22.3"/><circle cx="330.3" cy="606.9" r="22.3"/><circle cx="325.7" cy="608.3" r="22.3"/><circle cx="329.2" cy="602.1" r="22.3"/><circle cx="325.7" cy="598.3" r="22.3"/><circle cx="334.5" cy="599.2" r="22.3"/><circle cx="329.6" cy="603.5" r="22.3"/><circle cx="338.2" cy="608.7" r="22.3"/><circle cx="326.7" cy="608.2" r="22.3"/><circle cx="328.4" cy="607.8" r="22.3"/><circle cx="326.1" cy="608.1" r="22.3"/><circle cx="331.7" cy="606" r="22.3"/><circle cx="331.8" cy="603.7" r="22.3"/><circle cx="335.3" cy="602.8" r="22.3"/><circle cx="338.9" cy="598.1" r="22.3"/><circle cx="338" cy="603.5" r="22.3"/><circle cx="329" cy="604.4" r="22.3"/><circle cx="332.4" cy="603.6" r="22.3"/><circle cx="338.5" cy="601.6" r="22.3"/><circle cx="338.5" cy="608.2" r="22.3"/><circle cx="334.4" cy="606.7" r="22.3"/><circle cx="325.9" cy="610" r="22.3"/><circle cx="330.7" cy="607.8" r="22.3"/><circle cx="330.1" cy="609.5" r="22.3"/><circle cx="326.1" cy="606.9" r="22.3"/><circle cx="335.6" cy="604" r="22.3"/><circle cx="335.5" cy="579.9" r="22.3"/><circle cx="332.5" cy="584" r="22.3"/><circle cx="328.4" cy="587" r="22.3"/><circle cx="335.9" cy="581.5" r="22.3"/><circle cx="327.6" cy="589" r="22.3"/><circle cx="332" cy="585.8" r="22.3"/><circle cx="334.1" cy="580.5" r="22.3"/><circle cx="329" cy="590.3" r="22.3"/><circle cx="326.9" cy="587.5" r="22.3"/><circle cx="330.7" cy="589.9" r="22.3"/><circle cx="337" cy="586.9" r="22.3"/><circle cx="329.1" cy="587.9" r="22.3"/><circle cx="337.7" cy="583.5" r="22.3"/><circle cx="336.7" cy="589.9" r="22.3"/><circle cx="327.9" cy="586.3" r="22.3"/><circle cx="332" cy="589.7" r="22.3"/><circle cx="328.4" cy="590.5" r="22.3"/><circle cx="326.7" cy="589.5" r="22.3"/><circle cx="329" cy="587.6" r="22.3"/><circle cx="333.9" cy="578.8" r="22.3"/><circle cx="333.5" cy="585.4" r="22.3"/><circle cx="330.9" cy="590.1" r="22.3"/><circle cx="334.7" cy="585.7" r="22.3"/><circle cx="334.7" cy="586.5" r="22.3"/><circle cx="328.6" cy="587.2" r="22.3"/><circle cx="327.7" cy="588.1" r="22.3"/><circle cx="338.7" cy="589" r="22.3"/><circle cx="333.8" cy="579.7" r="22.3"/><circle cx="331.2" cy="587.4" r="22.3"/><circle cx="327.1" cy="589.8" r="22.3"/><circle cx="338.4" cy="585.5" r="22.3"/><circle cx="330.1" cy="590.9" r="22.3"/><circle cx="335.4" cy="589.8" r="22.3"/><circle cx="332.5" cy="581.9" r="22.3"/><circle cx="336.6" cy="580.6" r="22.3"/><circle cx="329.2" cy="589.5" r="22.3"/><circle cx="327.3" cy="587.4" r="22.3"/><circle cx="330.3" cy="589" r="22.3"/><circle cx="327.3" cy="586.2" r="22.3"/><circle cx="331.4" cy="589.8" r="22.3"/><circle cx="334.9" cy="566.1" r="22.3"/><circle cx="329" cy="562.4" r="22.3"/><circle cx="329" cy="559.4" r="22.3"/><circle cx="330.7" cy="559.6" r="22.3"/><circle cx="333.7" cy="566.1" r="22.3"/><circle cx="336.9" cy="560.6" r="22.3"/><circle cx="334" cy="564.7" r="22.3"/><circle cx="330.1" cy="557.5" r="22.3"/><circle cx="328" cy="560.2" r="22.3"/><circle cx="335.6" cy="560.6" r="22.3"/><circle cx="330.8" cy="558.4" r="22.3"/><circle cx="336.3" cy="563.9" r="22.3"/><circle cx="337" cy="557.9" r="22.3"/><circle cx="329" cy="565.1" r="22.3"/><circle cx="327.2" cy="562.1" r="22.3"/><circle cx="333.3" cy="562.1" r="22.3"/><circle cx="324.4" cy="566.2" r="22.3"/><circle cx="336.5" cy="566.2" r="22.3"/><circle cx="336" cy="555.7" r="22.3"/><circle cx="332" cy="558.9" r="22.3"/><circle cx="335.3" cy="556.7" r="22.3"/><circle cx="333.4" cy="557.7" r="22.3"/><circle cx="336.3" cy="564.2" r="22.3"/><circle cx="329.3" cy="557.7" r="22.3"/><circle cx="333" cy="562.2" r="22.3"/><circle cx="337.3" cy="566.7" r="22.3"/><circle cx="326.2" cy="565.4" r="22.3"/><circle cx="328.3" cy="555.4" r="22.3"/><circle cx="337.2" cy="557.5" r="22.3"/><circle cx="329.4" cy="555.5" r="22.3"/><circle cx="328.2" cy="560.4" r="22.3"/><circle cx="333.5" cy="562.8" r="22.3"/><circle cx="333.3" cy="555.6" r="22.3"/><circle cx="328.4" cy="557.4" r="22.3"/><circle cx="324.6" cy="555.8" r="22.3"/><circle cx="330" cy="562.7" r="22.3"/><circle cx="336.8" cy="566.1" r="22.3"/><circle cx="330.7" cy="555.2" r="22.3"/><circle cx="328.8" cy="563.9" r="22.3"/><circle cx="329.9" cy="558.8" r="22.3"/><circle cx="327.3" cy="555.3" r="22.3"/><circle cx="336.2" cy="557.3" r="22.3"/><circle cx="330.9" cy="561.9" r="22.3"/><circle cx="326.9" cy="562.8" r="22.3"/><circle cx="330" cy="563" r="22.3"/><circle cx="330.8" cy="567.1" r="22.3"/><circle cx="334.7" cy="557.6" r="22.3"/><circle cx="334.4" cy="566" r="22.3"/><circle cx="327.4" cy="564.4" r="22.3"/><circle cx="331.4" cy="555.1" r="22.3"/><circle cx="328.5" cy="556.7" r="22.3"/><circle cx="324.2" cy="558.7" r="22.3"/><circle cx="329" cy="562.8" r="22.3"/><circle cx="332.7" cy="556.5" r="22.3"/><circle cx="336.4" cy="562.1" r="22.3"/><circle cx="330.6" cy="561.4" r="22.3"/><circle cx="324.4" cy="560.2" r="22.3"/><circle cx="333.8" cy="555.6" r="22.3"/><circle cx="326.6" cy="560.2" r="22.3"/><circle cx="334.5" cy="564.7" r="22.3"/><circle cx="331.5" cy="524.7" r="22.3"/><circle cx="337" cy="519.3" r="22.3"/><circle cx="331.7" cy="522.3" r="22.3"/><circle cx="340.8" cy="517.9" r="22.3"/><circle cx="339" cy="524.8" r="22.3"/><circle cx="337.3" cy="523.9" r="22.3"/><circle cx="334.7" cy="525.4" r="22.3"/><circle cx="341.3" cy="520.5" r="22.3"/><circle cx="335.1" cy="529.6" r="22.3"/><circle cx="332.1" cy="519.1" r="22.3"/><circle cx="328.9" cy="518.8" r="22.3"/><circle cx="333.7" cy="528.9" r="22.3"/><circle cx="334.1" cy="519.9" r="22.3"/><circle cx="328.4" cy="523.7" r="22.3"/><circle cx="337.1" cy="524.5" r="22.3"/><circle cx="331.7" cy="522.3" r="22.3"/><circle cx="335.1" cy="528.5" r="22.3"/><circle cx="339.9" cy="519.2" r="22.3"/><circle cx="335" cy="518.3" r="22.3"/><circle cx="336.1" cy="529.6" r="22.3"/><circle cx="340.6" cy="521.6" r="22.3"/><circle cx="329.7" cy="529.7" r="22.3"/><circle cx="338" cy="525.2" r="22.3"/><circle cx="329.5" cy="521.5" r="22.3"/><circle cx="335.3" cy="519.5" r="22.3"/><circle cx="335.9" cy="524.3" r="22.3"/><circle cx="332.2" cy="517.4" r="22.3"/><circle cx="340.7" cy="529.2" r="22.3"/><circle cx="341.2" cy="520.4" r="22.3"/><circle cx="331.1" cy="520.1" r="22.3"/><circle cx="336.6" cy="522" r="22.3"/><circle cx="339.6" cy="526.2" r="22.3"/><circle cx="338.8" cy="522.8" r="22.3"/><circle cx="332.8" cy="517.7" r="22.3"/><circle cx="328.7" cy="522.6" r="22.3"/><circle cx="353.3" cy="492" r="22.3"/><circle cx="353.5" cy="486.1" r="22.3"/><circle cx="349.3" cy="488.8" r="22.3"/><circle cx="352.3" cy="490.9" r="22.3"/><circle cx="348.4" cy="488.1" r="22.3"/><circle cx="349.3" cy="490.1" r="22.3"/><circle cx="349.2" cy="492.6" r="22.3"/><circle cx="350.3" cy="485.3" r="22.3"/><circle cx="343.7" cy="488.7" r="22.3"/><circle cx="347.8" cy="482.2" r="22.3"/><circle cx="355.3" cy="485.2" r="22.3"/><circle cx="352.5" cy="488.1" r="22.3"/><circle cx="354.1" cy="480.8" r="22.3"/><circle cx="355.3" cy="484.9" r="22.3"/><circle cx="342.9" cy="490" r="22.3"/><circle cx="344.8" cy="485" r="22.3"/><circle cx="346.5" cy="487.3" r="22.3"/><circle cx="352.2" cy="491.5" r="22.3"/><circle cx="342.2" cy="489.8" r="22.3"/><circle cx="350.6" cy="489.7" r="22.3"/><circle cx="354.5" cy="486" r="22.3"/><circle cx="349.3" cy="486.3" r="22.3"/><circle cx="342.6" cy="484.7" r="22.3"/><circle cx="349.8" cy="483.8" r="22.3"/><circle cx="346.3" cy="481.5" r="22.3"/><circle cx="347.6" cy="483" r="22.3"/><circle cx="341.8" cy="485.4" r="22.3"/><circle cx="354.5" cy="490.5" r="22.3"/><circle cx="341.8" cy="492.5" r="22.3"/><circle cx="346.8" cy="482.3" r="22.3"/><circle cx="344.7" cy="484.4" r="22.3"/><circle cx="352.7" cy="489.7" r="22.3"/><circle cx="354" cy="485.3" r="22.3"/><circle cx="347.4" cy="487.9" r="22.3"/><circle cx="344.1" cy="482.2" r="22.3"/><circle cx="352.9" cy="490.1" r="22.3"/><circle cx="342.5" cy="490.9" r="22.3"/><circle cx="347.1" cy="488.2" r="22.3"/><circle cx="366.7" cy="535.2" r="22.3"/><circle cx="356.1" cy="533.6" r="22.3"/><circle cx="367" cy="532.7" r="22.3"/><circle cx="360.7" cy="536.7" r="22.3"/><circle cx="366.2" cy="542.6" r="22.3"/><circle cx="367.5" cy="541.2" r="22.3"/><circle cx="358.6" cy="541.8" r="22.3"/><circle cx="363.5" cy="535.6" r="22.3"/><circle cx="357" cy="542.1" r="22.3"/><circle cx="367.4" cy="534.7" r="22.3"/><circle cx="357.5" cy="534.6" r="22.3"/><circle cx="363.5" cy="539.4" r="22.3"/><circle cx="370.7" cy="589.6" r="22.3"/><circle cx="361.7" cy="587.4" r="22.3"/><circle cx="362.8" cy="589" r="22.3"/><circle cx="364.6" cy="593.7" r="22.3"/><circle cx="360.6" cy="592.4" r="22.3"/><circle cx="365.1" cy="594.9" r="22.3"/><circle cx="359" cy="605.1" r="22.3"/><circle cx="361.6" cy="605.1" r="22.3"/><circle cx="366.3" cy="600.2" r="22.3"/><circle cx="155.6" cy="714.2" r="22.3"/><circle cx="149.9" cy="719.3" r="22.3"/><circle cx="153.9" cy="714.9" r="22.3"/><circle cx="151.4" cy="715.2" r="22.3"/><circle cx="158.8" cy="712.8" r="22.3"/><circle cx="160.2" cy="714.2" r="22.3"/><circle cx="158.9" cy="713.7" r="22.3"/><circle cx="150" cy="713.8" r="22.3"/><circle cx="157.8" cy="718.1" r="22.3"/><circle cx="159.4" cy="717.2" r="22.3"/><circle cx="160.3" cy="710.7" r="22.3"/><circle cx="154.3" cy="711.8" r="22.3"/><circle cx="151.9" cy="719.4" r="22.3"/><circle cx="160.3" cy="720.8" r="22.3"/><circle cx="157.9" cy="712.5" r="22.3"/><circle cx="155.3" cy="718.6" r="22.3"/><circle cx="149" cy="716.8" r="22.3"/><circle cx="154.1" cy="716" r="22.3"/><circle cx="151.4" cy="699.6" r="22.3"/><circle cx="151.7" cy="701.4" r="22.3"/><circle cx="153.2" cy="692.1" r="22.3"/><circle cx="160.5" cy="696.4" r="22.3"/><circle cx="157.8" cy="695.5" r="22.3"/><circle cx="156.5" cy="697.5" r="22.3"/><circle cx="157.8" cy="698.5" r="22.3"/><circle cx="152.8" cy="700.3" r="22.3"/><circle cx="154" cy="693.8" r="22.3"/><circle cx="149.1" cy="693.4" r="22.3"/><circle cx="159.5" cy="694.6" r="22.3"/><circle cx="157.6" cy="701.5" r="22.3"/><circle cx="153.4" cy="701.4" r="22.3"/><circle cx="155.4" cy="697.5" r="22.3"/><circle cx="154" cy="690.7" r="22.3"/><circle cx="154.3" cy="692.2" r="22.3"/><circle cx="154.9" cy="737.8" r="22.3"/><circle cx="155.9" cy="735.4" r="22.3"/><circle cx="157.6" cy="739.3" r="22.3"/><circle cx="159.3" cy="728.2" r="22.3"/><circle cx="152.1" cy="730.2" r="22.3"/><circle cx="155.8" cy="739" r="22.3"/><circle cx="161.1" cy="728.2" r="22.3"/><circle cx="160.5" cy="730.3" r="22.3"/><circle cx="162.1" cy="730.1" r="22.3"/><circle cx="157" cy="734.3" r="22.3"/><circle cx="151.7" cy="730.9" r="22.3"/><circle cx="163" cy="728.4" r="22.3"/><circle cx="163.5" cy="734.6" r="22.3"/><circle cx="160.9" cy="735.6" r="22.3"/><circle cx="160.2" cy="682.2" r="22.3"/><circle cx="149.4" cy="682.1" r="22.3"/><circle cx="152.4" cy="682.3" r="22.3"/><circle cx="155.4" cy="675.2" r="22.3"/><circle cx="155.8" cy="673" r="22.3"/><circle cx="150.7" cy="684.5" r="22.3"/><circle cx="152.8" cy="675.8" r="22.3"/><circle cx="151.1" cy="684.3" r="22.3"/>
</g></g>
<path d="M91 730.6L131.2 706.3L171.5 681L252 628.7L332.5 575.3L413 521.4L493.5 466.9L594.1 399.3L694.8 331.6L694.8 350.6L594.1 414.3L493.5 477.9L413 528.6L332.5 579.7L252 631.3L171.5 684L131.2 711.3L91 739.6Z" fill="#999" fill-opacity="0.36"/>
<path d="M91 735.1L694.8 341.1" stroke="#cdcdcd" stroke-width="3.0" fill="none"/>
<path d="M91 834.7v3.2M292.2 834.7v3.2M493.5 834.7v3.2M694.8 834.7v3.2M896 834.7v3.2M46.8 790h3.2M46.8 603.8h3.2M46.8 417.5h3.2M46.8 231.2h3.2M46.8 45h3.2" stroke="#333" stroke-width="1.4" fill="none"/>
<g font-size="13.5" fill="#4d4d4d">
<text transform="translate(90 853.3) scale(0.84 1)" text-anchor="middle">0</text>
<text transform="translate(291.2 853.3) scale(0.84 1)" text-anchor="middle">10</text>
<text transform="translate(492.5 853.3) scale(0.84 1)" text-anchor="middle">20</text>
<text transform="translate(693.8 853.3) scale(0.84 1)" text-anchor="middle">30</text>
<text transform="translate(895 853.3) scale(0.84 1)" text-anchor="middle">40</text>
<text transform="translate(43.5 796.4) scale(0.84 1)" text-anchor="end">0</text>
<text transform="translate(43.5 610.1) scale(0.84 1)" text-anchor="end">10</text>
<text transform="translate(43.5 423.9) scale(0.84 1)" text-anchor="end">20</text>
<text transform="translate(43.5 237.7) scale(0.84 1)" text-anchor="end">30</text>
<text transform="translate(43.5 51.4) scale(0.84 1)" text-anchor="end">40</text>
</g>
<text x="493.6" y="885" font-size="30" text-anchor="middle" textLength="494" lengthAdjust="spacingAndGlyphs">Trustee’s 2nd Order Belief (E2E1S2)</text>
<text transform="translate(25.5 414.5) rotate(-90)" font-size="31" text-anchor="middle" textLength="461" lengthAdjust="spacingAndGlyphs">Investor’s 1st Order Belief (E1S2)</text>
<text x="385.6" y="924.7" font-size="31.5" text-anchor="middle" textLength="35.4" lengthAdjust="spacingAndGlyphs">(A)</text>
<rect x="1013" y="0" width="887" height="834.7" fill="#F1F1F1"/>
<path d="M1155 0V834.7M1356.2 0V834.7M1557.5 0V834.7M1758.7 0V834.7M1013 697.2H1900M1013 511.1H1900M1013 325.1H1900M1013 139H1900" stroke="#fff" stroke-width="1.1" fill="none"/>
<path d="M1054.4 0V834.7M1255.6 0V834.7M1456.8 0V834.7M1658.1 0V834.7M1859.3 0V834.7M1013 790.2H1900M1013 604.2H1900M1013 418.1H1900M1013 232.1H1900M1013 46H1900" stroke="#fff" stroke-width="1.8" fill="none"/>
<g clip-path="url(#cb)"><g filter="url(#bl)" fill="#111" fill-opacity="0.055" stroke="#111" stroke-opacity="0.012" stroke-width="1.5">
<circle cx="1860.1" cy="36.7" r="22.3"/><circle cx="1704.4" cy="49.7" r="22.3"/><circle cx="1697.5" cy="193" r="22.3"/><circle cx="1316.6" cy="196.7" r="22.3"/><circle cx="1320" cy="252.5" r="22.3"/><circle cx="1291.8" cy="269.3" r="22.3"/><circle cx="1377.6" cy="267.4" r="22.3"/><circle cx="1454.8" cy="269.3" r="22.3"/><circle cx="1617.4" cy="267.4" r="22.3"/><circle cx="1493.1" cy="317.6" r="22.3"/><circle cx="1640" cy="323.2" r="22.3"/><circle cx="1694.3" cy="319.5" r="22.3"/><circle cx="1700.3" cy="340" r="22.3"/><circle cx="1136.5" cy="338.1" r="22.3"/><circle cx="1374.3" cy="345.5" r="22.3"/><circle cx="1461.1" cy="336.2" r="22.3"/><circle cx="1448.8" cy="347.1" r="22.3"/><circle cx="1459.4" cy="338.8" r="22.3"/><circle cx="1457.2" cy="344.2" r="22.3"/><circle cx="1456.3" cy="340.5" r="22.3"/><circle cx="1455.9" cy="346.1" r="22.3"/><circle cx="1453.9" cy="343.2" r="22.3"/><circle cx="1457.9" cy="335.6" r="22.3"/><circle cx="1461" cy="341.3" r="22.3"/><circle cx="1454.1" cy="344.8" r="22.3"/><circle cx="1448.5" cy="347.8" r="22.3"/><circle cx="1454.4" cy="344.1" r="22.3"/><circle cx="1533.7" cy="336.9" r="22.3"/><circle cx="1535.7" cy="341.1" r="22.3"/><circle cx="1531.7" cy="347.8" r="22.3"/><circle cx="1532.9" cy="346.4" r="22.3"/><circle cx="1535.5" cy="335.5" r="22.3"/><circle cx="1537.7" cy="345.8" r="22.3"/><circle cx="1623.2" cy="345.5" r="22.3"/><circle cx="1621" cy="344.1" r="22.3"/><circle cx="1621.4" cy="345.6" r="22.3"/><circle cx="1202.5" cy="377.2" r="22.3"/><circle cx="1372.3" cy="380" r="22.3"/><circle cx="1408.6" cy="373.9" r="22.3"/><circle cx="1416.9" cy="384.2" r="22.3"/><circle cx="1426.1" cy="377.2" r="22.3"/><circle cx="1422.1" cy="379.6" r="22.3"/><circle cx="1561.5" cy="377.2" r="22.3"/><circle cx="1642" cy="384.6" r="22.3"/><circle cx="1299.8" cy="407.1" r="22.3"/><circle cx="1299.9" cy="408.3" r="22.3"/><circle cx="1297.9" cy="407.7" r="22.3"/><circle cx="1305.4" cy="413" r="22.3"/><circle cx="1375.3" cy="405.3" r="22.3"/><circle cx="1377.4" cy="410.8" r="22.3"/><circle cx="1370.5" cy="412.9" r="22.3"/><circle cx="1377.1" cy="414.9" r="22.3"/><circle cx="1379.9" cy="413.6" r="22.3"/><circle cx="1380" cy="413.1" r="22.3"/><circle cx="1380.6" cy="408" r="22.3"/><circle cx="1374.4" cy="410.4" r="22.3"/><circle cx="1382.5" cy="420.7" r="22.3"/><circle cx="1377.8" cy="425.5" r="22.3"/><circle cx="1380.5" cy="416.3" r="22.3"/><circle cx="1458.9" cy="421.9" r="22.3"/><circle cx="1461.3" cy="414.6" r="22.3"/><circle cx="1462.4" cy="420.6" r="22.3"/><circle cx="1460.4" cy="422.1" r="22.3"/><circle cx="1459.3" cy="419.7" r="22.3"/><circle cx="1454.2" cy="413" r="22.3"/><circle cx="1452.7" cy="416.9" r="22.3"/><circle cx="1461.7" cy="420" r="22.3"/><circle cx="1454" cy="412.9" r="22.3"/><circle cx="1456.5" cy="414.7" r="22.3"/><circle cx="1451.8" cy="418.7" r="22.3"/><circle cx="1453.5" cy="415.2" r="22.3"/><circle cx="1452.4" cy="412.1" r="22.3"/><circle cx="1451.7" cy="414.6" r="22.3"/><circle cx="1451.7" cy="419.9" r="22.3"/><circle cx="1461.2" cy="421" r="22.3"/><circle cx="1453.6" cy="415" r="22.3"/><circle cx="1456.1" cy="422.3" r="22.3"/><circle cx="1463.4" cy="421.1" r="22.3"/><circle cx="1451.9" cy="418.9" r="22.3"/><circle cx="1458.8" cy="414.5" r="22.3"/><circle cx="1452.8" cy="419" r="22.3"/><circle cx="1451.8" cy="417.7" r="22.3"/><circle cx="1460.7" cy="414.5" r="22.3"/><circle cx="1462.3" cy="414.3" r="22.3"/><circle cx="1461.8" cy="414.9" r="22.3"/><circle cx="1457.1" cy="420.2" r="22.3"/><circle cx="1459.4" cy="419.2" r="22.3"/><circle cx="1452.6" cy="417.8" r="22.3"/><circle cx="1462" cy="421.3" r="22.3"/><circle cx="1458.5" cy="418.4" r="22.3"/><circle cx="1457.6" cy="421.1" r="22.3"/><circle cx="1463" cy="419.9" r="22.3"/><circle cx="1458.7" cy="418.1" r="22.3"/><circle cx="1451.6" cy="416.5" r="22.3"/><circle cx="1453.1" cy="422.1" r="22.3"/><circle cx="1451.8" cy="421" r="22.3"/><circle cx="1452.6" cy="415.7" r="22.3"/><circle cx="1457.6" cy="411.8" r="22.3"/><circle cx="1462.7" cy="411.6" r="22.3"/><circle cx="1454.2" cy="417.8" r="22.3"/><circle cx="1454.4" cy="416.2" r="22.3"/><circle cx="1459" cy="413.8" r="22.3"/><circle cx="1460" cy="419.9" r="22.3"/><circle cx="1456.5" cy="416.9" r="22.3"/><circle cx="1451.5" cy="422.4" r="22.3"/><circle cx="1456.4" cy="421.5" r="22.3"/><circle cx="1460.2" cy="420.1" r="22.3"/><circle cx="1452.6" cy="420.7" r="22.3"/><circle cx="1454.2" cy="420.3" r="22.3"/><circle cx="1457.7" cy="417.6" r="22.3"/><circle cx="1455.2" cy="415.6" r="22.3"/><circle cx="1454" cy="412.6" r="22.3"/><circle cx="1463" cy="414.6" r="22.3"/><circle cx="1456.7" cy="417" r="22.3"/><circle cx="1458.4" cy="422.2" r="22.3"/><circle cx="1456.5" cy="416.9" r="22.3"/><circle cx="1453.6" cy="421.7" r="22.3"/><circle cx="1461.1" cy="418.7" r="22.3"/><circle cx="1457.7" cy="412.5" r="22.3"/><circle cx="1458.8" cy="419.5" r="22.3"/><circle cx="1463.3" cy="418.6" r="22.3"/><circle cx="1451.6" cy="415.1" r="22.3"/><circle cx="1452.6" cy="419.3" r="22.3"/><circle cx="1461.6" cy="415.2" r="22.3"/><circle cx="1451.6" cy="417.7" r="22.3"/><circle cx="1456.4" cy="417.3" r="22.3"/><circle cx="1453.9" cy="416.2" r="22.3"/><circle cx="1452.3" cy="419.6" r="22.3"/><circle cx="1455.9" cy="412.3" r="22.3"/><circle cx="1452.3" cy="414.3" r="22.3"/><circle cx="1453.7" cy="416.4" r="22.3"/><circle cx="1456.1" cy="417.6" r="22.3"/><circle cx="1460.5" cy="418.3" r="22.3"/><circle cx="1452.9" cy="421.4" r="22.3"/><circle cx="1452.4" cy="413.3" r="22.3"/><circle cx="1459.2" cy="412" r="22.3"/><circle cx="1459.8" cy="422.5" r="22.3"/><circle cx="1459.4" cy="414.1" r="22.3"/><circle cx="1460.2" cy="417.2" r="22.3"/><circle cx="1455.7" cy="417.6" r="22.3"/><circle cx="1461.1" cy="419.7" r="22.3"/><circle cx="1457.8" cy="417.4" r="22.3"/><circle cx="1462.9" cy="413.8" r="22.3"/><circle cx="1462.7" cy="413.4" r="22.3"/><circle cx="1455" cy="420.2" r="22.3"/><circle cx="1457.3" cy="419.9" r="22.3"/><circle cx="1456.6" cy="415.2" r="22.3"/><circle cx="1462.5" cy="416.2" r="22.3"/><circle cx="1461.3" cy="421.7" r="22.3"/><circle cx="1455.7" cy="411.6" r="22.3"/><circle cx="1453.2" cy="418.1" r="22.3"/><circle cx="1452.2" cy="421.8" r="22.3"/><circle cx="1462.2" cy="411.7" r="22.3"/><circle cx="1459.2" cy="421.3" r="22.3"/><circle cx="1455" cy="420.2" r="22.3"/><circle cx="1459.5" cy="415.1" r="22.3"/><circle cx="1456.7" cy="416.9" r="22.3"/><circle cx="1452.8" cy="416.7" r="22.3"/><circle cx="1462.9" cy="414.3" r="22.3"/><circle cx="1529.8" cy="414.2" r="22.3"/><circle cx="1538.3" cy="417.4" r="22.3"/><circle cx="1540.7" cy="414.9" r="22.3"/><circle cx="1538.1" cy="415.6" r="22.3"/><circle cx="1542.1" cy="410.8" r="22.3"/><circle cx="1536.3" cy="418.9" r="22.3"/><circle cx="1534.5" cy="420.3" r="22.3"/><circle cx="1536.6" cy="409.5" r="22.3"/><circle cx="1531" cy="414.3" r="22.3"/><circle cx="1535.1" cy="415.6" r="22.3"/><circle cx="1538.2" cy="408.9" r="22.3"/><circle cx="1538.1" cy="414.7" r="22.3"/><circle cx="1624.2" cy="414.7" r="22.3"/><circle cx="1621.2" cy="410.5" r="22.3"/><circle cx="1621.4" cy="408.1" r="22.3"/><circle cx="1614.1" cy="411" r="22.3"/><circle cx="1697.5" cy="414.4" r="22.3"/><circle cx="1772.8" cy="421.8" r="22.3"/><circle cx="1173.1" cy="440.4" r="22.3"/><circle cx="1189.2" cy="444.1" r="22.3"/><circle cx="1332.8" cy="445.8" r="22.3"/><circle cx="1340.6" cy="446.2" r="22.3"/><circle cx="1327.4" cy="448.3" r="22.3"/><circle cx="1337" cy="443" r="22.3"/><circle cx="1416.6" cy="445.7" r="22.3"/><circle cx="1408" cy="444.1" r="22.3"/><circle cx="1417.7" cy="448.4" r="22.3"/><circle cx="1500.6" cy="435.6" r="22.3"/><circle cx="1489.6" cy="436.4" r="22.3"/><circle cx="1130.1" cy="486.9" r="22.3"/><circle cx="1183.2" cy="485.1" r="22.3"/><circle cx="1257.6" cy="486.9" r="22.3"/><circle cx="1295.1" cy="486.9" r="22.3"/><circle cx="1318.6" cy="490.7" r="22.3"/><circle cx="1318.3" cy="485.8" r="22.3"/><circle cx="1310.8" cy="483.1" r="22.3"/><circle cx="1371.4" cy="485.5" r="22.3"/><circle cx="1375.5" cy="490.1" r="22.3"/><circle cx="1377.3" cy="487.4" r="22.3"/><circle cx="1372.3" cy="481" r="22.3"/><circle cx="1370.5" cy="493.2" r="22.3"/><circle cx="1376.2" cy="482.7" r="22.3"/><circle cx="1378.5" cy="483.7" r="22.3"/><circle cx="1376.2" cy="484.7" r="22.3"/><circle cx="1374.1" cy="489.9" r="22.3"/><circle cx="1376.4" cy="492.9" r="22.3"/><circle cx="1370.6" cy="483.7" r="22.3"/><circle cx="1371.9" cy="483.8" r="22.3"/><circle cx="1380.3" cy="488.1" r="22.3"/><circle cx="1378.8" cy="483.3" r="22.3"/><circle cx="1381.3" cy="491.6" r="22.3"/><circle cx="1371.7" cy="488.4" r="22.3"/><circle cx="1375.9" cy="489.5" r="22.3"/><circle cx="1369.7" cy="486.2" r="22.3"/><circle cx="1382.7" cy="488.6" r="22.3"/><circle cx="1376.9" cy="488.4" r="22.3"/><circle cx="1375.6" cy="482.3" r="22.3"/><circle cx="1373.7" cy="485.1" r="22.3"/><circle cx="1376.1" cy="486.5" r="22.3"/><circle cx="1382" cy="492.3" r="22.3"/><circle cx="1380.8" cy="489.4" r="22.3"/><circle cx="1378.4" cy="483.2" r="22.3"/><circle cx="1378.5" cy="488.3" r="22.3"/><circle cx="1381" cy="492.1" r="22.3"/><circle cx="1378.2" cy="488.3" r="22.3"/><circle cx="1376.8" cy="482.5" r="22.3"/><circle cx="1380.4" cy="485.3" r="22.3"/><circle cx="1373.7" cy="490.3" r="22.3"/><circle cx="1375.8" cy="490.3" r="22.3"/><circle cx="1373.3" cy="481.1" r="22.3"/><circle cx="1371.1" cy="482.9" r="22.3"/><circle cx="1456.2" cy="495.2" r="22.3"/><circle cx="1455.4" cy="498.8" r="22.3"/><circle cx="1457.3" cy="497.7" r="22.3"/><circle cx="1457.1" cy="496.1" r="22.3"/><circle cx="1463.3" cy="488.1" r="22.3"/><circle cx="1457.1" cy="491.7" r="22.3"/><circle cx="1463.7" cy="495.6" r="22.3"/><circle cx="1452.4" cy="496.8" r="22.3"/><circle cx="1453.6" cy="491.2" r="22.3"/><circle cx="1456.1" cy="495.3" r="22.3"/><circle cx="1461.9" cy="496.8" r="22.3"/><circle cx="1462.1" cy="491.8" r="22.3"/><circle cx="1456.5" cy="489.4" r="22.3"/><circle cx="1455.7" cy="488.7" r="22.3"/><circle cx="1463.7" cy="493.4" r="22.3"/><circle cx="1460.5" cy="487.8" r="22.3"/><circle cx="1461.2" cy="490.3" r="22.3"/><circle cx="1462.9" cy="487.9" r="22.3"/><circle cx="1461.3" cy="487.4" r="22.3"/><circle cx="1455" cy="491.9" r="22.3"/><circle cx="1460.2" cy="495.1" r="22.3"/><circle cx="1456.4" cy="497.6" r="22.3"/><circle cx="1505.4" cy="492.5" r="22.3"/><circle cx="1498.8" cy="485.7" r="22.3"/><circle cx="1529" cy="484.8" r="22.3"/><circle cx="1528.2" cy="496.6" r="22.3"/><circle cx="1569.5" cy="486.9" r="22.3"/><circle cx="1615.8" cy="488.7" r="22.3"/><circle cx="1623.5" cy="482.1" r="22.3"/><circle cx="1621.4" cy="487.7" r="22.3"/><circle cx="1855.3" cy="486.9" r="22.3"/><circle cx="1333.7" cy="530.3" r="22.3"/><circle cx="1337.7" cy="528.3" r="22.3"/><circle cx="1330.1" cy="525.2" r="22.3"/><circle cx="1328.3" cy="529.3" r="22.3"/><circle cx="1338.9" cy="532.1" r="22.3"/><circle cx="1328.2" cy="530.7" r="22.3"/><circle cx="1329.7" cy="527.9" r="22.3"/><circle cx="1329.7" cy="528.9" r="22.3"/><circle cx="1329.6" cy="530.2" r="22.3"/><circle cx="1334.6" cy="529" r="22.3"/><circle cx="1331.4" cy="523.6" r="22.3"/><circle cx="1327.1" cy="531.4" r="22.3"/><circle cx="1337.9" cy="527.8" r="22.3"/><circle cx="1336.9" cy="531.6" r="22.3"/><circle cx="1333.4" cy="522.6" r="22.3"/><circle cx="1330.9" cy="523.5" r="22.3"/><circle cx="1334.6" cy="528.3" r="22.3"/><circle cx="1339.9" cy="528.3" r="22.3"/><circle cx="1332.7" cy="525.4" r="22.3"/><circle cx="1330.6" cy="522.7" r="22.3"/><circle cx="1334.4" cy="525.8" r="22.3"/><circle cx="1333.6" cy="520.8" r="22.3"/><circle cx="1339.8" cy="522.6" r="22.3"/><circle cx="1332.5" cy="528.1" r="22.3"/><circle cx="1333.4" cy="532.7" r="22.3"/><circle cx="1327.7" cy="520.7" r="22.3"/><circle cx="1328" cy="521.4" r="22.3"/><circle cx="1335.6" cy="521.7" r="22.3"/><circle cx="1327.3" cy="529.4" r="22.3"/><circle cx="1337.2" cy="533.2" r="22.3"/><circle cx="1413.2" cy="535.3" r="22.3"/><circle cx="1414.1" cy="537.9" r="22.3"/><circle cx="1420.9" cy="538.6" r="22.3"/><circle cx="1425.1" cy="531.6" r="22.3"/><circle cx="1412.5" cy="528.4" r="22.3"/><circle cx="1415.1" cy="533.7" r="22.3"/><circle cx="1419.4" cy="538" r="22.3"/><circle cx="1418.6" cy="539" r="22.3"/><circle cx="1414.5" cy="528.2" r="22.3"/><circle cx="1423" cy="533.2" r="22.3"/><circle cx="1421.1" cy="528.7" r="22.3"/><circle cx="1413.7" cy="533.6" r="22.3"/><circle cx="1413.6" cy="538.3" r="22.3"/><circle cx="1413.3" cy="537.1" r="22.3"/><circle cx="1412.5" cy="537.1" r="22.3"/><circle cx="1417" cy="531.9" r="22.3"/><circle cx="1423.5" cy="528.3" r="22.3"/><circle cx="1421.6" cy="533.4" r="22.3"/><circle cx="1424.3" cy="537.7" r="22.3"/><circle cx="1413.2" cy="529.4" r="22.3"/><circle cx="1420.4" cy="537.1" r="22.3"/><circle cx="1416.9" cy="536" r="22.3"/><circle cx="1417.7" cy="534.4" r="22.3"/><circle cx="1417.2" cy="529.7" r="22.3"/><circle cx="1499.3" cy="523.4" r="22.3"/><circle cx="1494.7" cy="526.9" r="22.3"/><circle cx="1499.1" cy="537.2" r="22.3"/><circle cx="1535.3" cy="529.7" r="22.3"/><circle cx="1219" cy="521.7" r="22.3"/><circle cx="1211.7" cy="525.3" r="22.3"/><circle cx="1218.1" cy="525.9" r="22.3"/><circle cx="1245.2" cy="529.1" r="22.3"/><circle cx="1247.5" cy="533.6" r="22.3"/><circle cx="1252.7" cy="527.9" r="22.3"/><circle cx="1277.5" cy="521.1" r="22.3"/><circle cx="1278.5" cy="524.5" r="22.3"/><circle cx="1269.6" cy="520.7" r="22.3"/><circle cx="1302.3" cy="519.9" r="22.3"/><circle cx="1299.2" cy="530" r="22.3"/><circle cx="1293.7" cy="529.1" r="22.3"/><circle cx="1299.7" cy="523.6" r="22.3"/><circle cx="1245.3" cy="544.4" r="22.3"/><circle cx="1256.1" cy="545.1" r="22.3"/><circle cx="1249.1" cy="552.8" r="22.3"/><circle cx="1245.6" cy="546.1" r="22.3"/><circle cx="1252.3" cy="553" r="22.3"/><circle cx="1255.1" cy="549.3" r="22.3"/><circle cx="1383.2" cy="556.8" r="22.3"/><circle cx="1387.4" cy="556.3" r="22.3"/><circle cx="1386.6" cy="560.6" r="22.3"/><circle cx="1387.2" cy="558.7" r="22.3"/><circle cx="1390" cy="559.4" r="22.3"/><circle cx="1382.1" cy="555.3" r="22.3"/><circle cx="1382.9" cy="555.5" r="22.3"/><circle cx="1390.2" cy="559.6" r="22.3"/><circle cx="1388.1" cy="553.3" r="22.3"/><circle cx="1388.3" cy="556.4" r="22.3"/><circle cx="1383.8" cy="557.7" r="22.3"/><circle cx="1384" cy="558.9" r="22.3"/><circle cx="1380.2" cy="556.1" r="22.3"/><circle cx="1380.2" cy="556.2" r="22.3"/><circle cx="1385.4" cy="558.2" r="22.3"/><circle cx="1379.9" cy="554.4" r="22.3"/><circle cx="1389.3" cy="559.3" r="22.3"/><circle cx="1386" cy="553.8" r="22.3"/><circle cx="1297.1" cy="560.9" r="22.3"/><circle cx="1289.2" cy="566.9" r="22.3"/><circle cx="1296.5" cy="565.8" r="22.3"/><circle cx="1285.2" cy="558.5" r="22.3"/><circle cx="1287.7" cy="565.6" r="22.3"/><circle cx="1289.4" cy="566.3" r="22.3"/><circle cx="1294.9" cy="565.2" r="22.3"/><circle cx="1291" cy="564.2" r="22.3"/><circle cx="1296.4" cy="569.3" r="22.3"/><circle cx="1292.9" cy="567.9" r="22.3"/><circle cx="1287.1" cy="561.9" r="22.3"/><circle cx="1290.1" cy="568.7" r="22.3"/><circle cx="1293.1" cy="558" r="22.3"/><circle cx="1293.8" cy="563.3" r="22.3"/><circle cx="1296" cy="558" r="22.3"/><circle cx="1287.1" cy="565.8" r="22.3"/><circle cx="1298.2" cy="557.8" r="22.3"/><circle cx="1287.8" cy="560.6" r="22.3"/><circle cx="1297" cy="562.1" r="22.3"/><circle cx="1294.6" cy="562.9" r="22.3"/><circle cx="1288.2" cy="566.8" r="22.3"/><circle cx="1285.9" cy="561.1" r="22.3"/><circle cx="1286.9" cy="561.7" r="22.3"/><circle cx="1290.4" cy="564" r="22.3"/><circle cx="1298.3" cy="564.6" r="22.3"/><circle cx="1291.5" cy="564.7" r="22.3"/><circle cx="1287.9" cy="566.7" r="22.3"/><circle cx="1292.3" cy="559.2" r="22.3"/><circle cx="1286.2" cy="557.6" r="22.3"/><circle cx="1294.2" cy="568.9" r="22.3"/><circle cx="1294.7" cy="564.5" r="22.3"/><circle cx="1292" cy="568.3" r="22.3"/><circle cx="1292" cy="563" r="22.3"/><circle cx="1295.7" cy="562.2" r="22.3"/><circle cx="1294.6" cy="560.3" r="22.3"/><circle cx="1288" cy="569.2" r="22.3"/><circle cx="1291.6" cy="567.9" r="22.3"/><circle cx="1286.9" cy="565.5" r="22.3"/><circle cx="1292.4" cy="561.8" r="22.3"/><circle cx="1293.8" cy="557.6" r="22.3"/><circle cx="1286.4" cy="562.5" r="22.3"/><circle cx="1286.2" cy="561.1" r="22.3"/><circle cx="1291" cy="567.8" r="22.3"/><circle cx="1289.3" cy="561.2" r="22.3"/><circle cx="1291.5" cy="557.6" r="22.3"/><circle cx="1289.9" cy="565.2" r="22.3"/><circle cx="1297.6" cy="561.9" r="22.3"/><circle cx="1286.5" cy="559.6" r="22.3"/><circle cx="1290" cy="557.6" r="22.3"/><circle cx="1293.7" cy="559.4" r="22.3"/><circle cx="1462.3" cy="574.3" r="22.3"/><circle cx="1463.2" cy="580.4" r="22.3"/><circle cx="1454.7" cy="570.1" r="22.3"/><circle cx="1450.1" cy="572.2" r="22.3"/><circle cx="1463.7" cy="571.7" r="22.3"/><circle cx="1461.8" cy="579.7" r="22.3"/><circle cx="1457.4" cy="573" r="22.3"/><circle cx="1456" cy="575.4" r="22.3"/><circle cx="1460.8" cy="578.7" r="22.3"/><circle cx="1529.3" cy="566.9" r="22.3"/><circle cx="1116.8" cy="580" r="22.3"/><circle cx="1175.1" cy="565.1" r="22.3"/><circle cx="1207.1" cy="558.3" r="22.3"/><circle cx="1219.8" cy="555.4" r="22.3"/><circle cx="1136.9" cy="594.8" r="22.3"/><circle cx="1163.4" cy="593.7" r="22.3"/><circle cx="1166.6" cy="596.9" r="22.3"/><circle cx="1336.7" cy="576.3" r="22.3"/><circle cx="1345.5" cy="581.2" r="22.3"/><circle cx="1345.7" cy="584.9" r="22.3"/><circle cx="1341.5" cy="585.4" r="22.3"/><circle cx="1336.5" cy="583.9" r="22.3"/><circle cx="1333.4" cy="581.2" r="22.3"/><circle cx="1340.1" cy="582.7" r="22.3"/><circle cx="1342.2" cy="585.6" r="22.3"/><circle cx="1340.4" cy="579.6" r="22.3"/><circle cx="1338.8" cy="574.7" r="22.3"/><circle cx="1335" cy="580.9" r="22.3"/><circle cx="1339.6" cy="581.6" r="22.3"/><circle cx="1346.6" cy="579.1" r="22.3"/><circle cx="1340.4" cy="580.7" r="22.3"/><circle cx="1339.3" cy="574.3" r="22.3"/><circle cx="1344.2" cy="578.1" r="22.3"/><circle cx="1335.5" cy="578.8" r="22.3"/><circle cx="1335" cy="581.8" r="22.3"/><circle cx="1333.6" cy="577.4" r="22.3"/><circle cx="1346.7" cy="578.2" r="22.3"/><circle cx="1341.1" cy="583.1" r="22.3"/><circle cx="1339.4" cy="580.4" r="22.3"/><circle cx="1339.1" cy="582.9" r="22.3"/><circle cx="1336.3" cy="576.8" r="22.3"/><circle cx="1346.3" cy="575.9" r="22.3"/><circle cx="1499.1" cy="574.4" r="22.3"/><circle cx="1382" cy="604.5" r="22.3"/><circle cx="1377.7" cy="594.3" r="22.3"/><circle cx="1386.9" cy="598" r="22.3"/><circle cx="1381.3" cy="596.2" r="22.3"/><circle cx="1376.9" cy="595.9" r="22.3"/><circle cx="1378.5" cy="594.2" r="22.3"/><circle cx="1534.8" cy="598.4" r="22.3"/><circle cx="1536.1" cy="600" r="22.3"/><circle cx="1534.8" cy="594.7" r="22.3"/><circle cx="1430.7" cy="607.9" r="22.3"/><circle cx="1460.9" cy="637.6" r="22.3"/><circle cx="1377.8" cy="638.7" r="22.3"/><circle cx="1374.4" cy="632.6" r="22.3"/><circle cx="1377.7" cy="635.7" r="22.3"/><circle cx="1382.4" cy="637.6" r="22.3"/><circle cx="1561.5" cy="660" r="22.3"/><circle cx="1638" cy="674.8" r="22.3"/><circle cx="1386.7" cy="679.7" r="22.3"/><circle cx="1381.7" cy="673.3" r="22.3"/><circle cx="1379.8" cy="669" r="22.3"/><circle cx="1386.8" cy="676.2" r="22.3"/><circle cx="1442.8" cy="695.3" r="22.3"/><circle cx="1325.6" cy="725.4" r="22.3"/><circle cx="1326.7" cy="730.5" r="22.3"/><circle cx="1328.1" cy="730.7" r="22.3"/><circle cx="1319.2" cy="726.7" r="22.3"/><circle cx="1338.1" cy="790.2" r="22.3"/><circle cx="1432.7" cy="784.6" r="22.3"/><circle cx="1456.9" cy="791.4" r="22.3"/><circle cx="1454.8" cy="784" r="22.3"/><circle cx="1251.6" cy="793.9" r="22.3"/><circle cx="1287.8" cy="793.9" r="22.3"/><circle cx="1219.6" cy="795.1" r="22.3"/><circle cx="1221" cy="793" r="22.3"/><circle cx="1214.1" cy="792.1" r="22.3"/><circle cx="1049.4" cy="637.6" r="22.3"/><circle cx="1088.5" cy="631.7" r="22.3"/><circle cx="1086.9" cy="634.6" r="22.3"/><circle cx="1083.2" cy="642.5" r="22.3"/><circle cx="1064.5" cy="636.7" r="22.3"/><circle cx="1053" cy="669.3" r="22.3"/><circle cx="1055" cy="706.5" r="22.3"/><circle cx="1261" cy="752.3" r="22.3"/><circle cx="1267.7" cy="749.1" r="22.3"/><circle cx="1257.1" cy="716.6" r="22.3"/><circle cx="1251.2" cy="715.3" r="22.3"/><circle cx="1253.2" cy="724.8" r="22.3"/><circle cx="1299.2" cy="705.9" r="22.3"/><circle cx="1303.6" cy="705.3" r="22.3"/><circle cx="1050.3" cy="794.7" r="22.3"/><circle cx="1049.7" cy="790.3" r="22.3"/><circle cx="1056.6" cy="794.4" r="22.3"/><circle cx="1052.7" cy="790.4" r="22.3"/><circle cx="1058.4" cy="785.8" r="22.3"/><circle cx="1058.2" cy="788.9" r="22.3"/><circle cx="1055.2" cy="792.8" r="22.3"/><circle cx="1055.5" cy="793.3" r="22.3"/><circle cx="1052.4" cy="787.1" r="22.3"/><circle cx="1055.1" cy="788.1" r="22.3"/><circle cx="1054.1" cy="792.3" r="22.3"/><circle cx="1054.4" cy="789.5" r="22.3"/><circle cx="1051.8" cy="787" r="22.3"/><circle cx="1059.2" cy="793.2" r="22.3"/><circle cx="1051.8" cy="787.3" r="22.3"/><circle cx="1056.6" cy="792.8" r="22.3"/><circle cx="1055.3" cy="792.6" r="22.3"/><circle cx="1058.1" cy="789.4" r="22.3"/><circle cx="1054.5" cy="793.3" r="22.3"/><circle cx="1053.5" cy="790.5" r="22.3"/><circle cx="1053" cy="793.2" r="22.3"/><circle cx="1051.4" cy="788.3" r="22.3"/><circle cx="1058.7" cy="787" r="22.3"/><circle cx="1055.6" cy="787.5" r="22.3"/><circle cx="1050.7" cy="792.9" r="22.3"/><circle cx="1056.4" cy="794.8" r="22.3"/><circle cx="1050.2" cy="787.6" r="22.3"/><circle cx="1051.4" cy="793.1" r="22.3"/><circle cx="1053.3" cy="787.1" r="22.3"/><circle cx="1049.5" cy="786.7" r="22.3"/><circle cx="1052.4" cy="789.5" r="22.3"/><circle cx="1054.1" cy="793.7" r="22.3"/><circle cx="1059" cy="793.2" r="22.3"/><circle cx="1057.5" cy="786.7" r="22.3"/><circle cx="1053.9" cy="785.9" r="22.3"/><circle cx="1050" cy="793.5" r="22.3"/><circle cx="1054.2" cy="794.2" r="22.3"/><circle cx="1057.5" cy="790" r="22.3"/><circle cx="1057.4" cy="792.2" r="22.3"/><circle cx="1049.6" cy="786.6" r="22.3"/><circle cx="1051.5" cy="791" r="22.3"/><circle cx="1050.6" cy="789.4" r="22.3"/><circle cx="1054" cy="793" r="22.3"/><circle cx="1049.8" cy="791.7" r="22.3"/><circle cx="1057.3" cy="793.4" r="22.3"/><circle cx="1051.7" cy="789.1" r="22.3"/><circle cx="1055.8" cy="787.4" r="22.3"/><circle cx="1055.9" cy="786.9" r="22.3"/><circle cx="1050.9" cy="786.3" r="22.3"/><circle cx="1049.7" cy="793.7" r="22.3"/><circle cx="1050.4" cy="787.6" r="22.3"/><circle cx="1054.4" cy="786.3" r="22.3"/><circle cx="1059.2" cy="786" r="22.3"/><circle cx="1055.5" cy="791.6" r="22.3"/><circle cx="1059" cy="788" r="22.3"/><circle cx="1051.3" cy="789.7" r="22.3"/><circle cx="1049.6" cy="794.7" r="22.3"/><circle cx="1055.8" cy="788.2" r="22.3"/><circle cx="1058" cy="787.8" r="22.3"/><circle cx="1050.7" cy="788" r="22.3"/><circle cx="1059.2" cy="788.6" r="22.3"/><circle cx="1054.2" cy="792.1" r="22.3"/><circle cx="1050" cy="789" r="22.3"/><circle cx="1059" cy="793.8" r="22.3"/><circle cx="1057.6" cy="786.5" r="22.3"/><circle cx="1052.9" cy="787" r="22.3"/><circle cx="1050.9" cy="792.1" r="22.3"/><circle cx="1055.1" cy="786.7" r="22.3"/><circle cx="1054.8" cy="794" r="22.3"/><circle cx="1058.7" cy="789.5" r="22.3"/><circle cx="1057.2" cy="792.7" r="22.3"/><circle cx="1052.7" cy="794" r="22.3"/><circle cx="1051.2" cy="790.8" r="22.3"/><circle cx="1053.5" cy="788.7" r="22.3"/><circle cx="1057.8" cy="791.7" r="22.3"/><circle cx="1058.7" cy="788.8" r="22.3"/><circle cx="1052.8" cy="793.1" r="22.3"/><circle cx="1059" cy="788.7" r="22.3"/><circle cx="1049.8" cy="788.5" r="22.3"/><circle cx="1053.2" cy="790.9" r="22.3"/><circle cx="1057.1" cy="792.8" r="22.3"/><circle cx="1052.1" cy="789.8" r="22.3"/><circle cx="1058.5" cy="794.1" r="22.3"/><circle cx="1057.8" cy="788.1" r="22.3"/><circle cx="1051.2" cy="788.7" r="22.3"/><circle cx="1055.6" cy="788.2" r="22.3"/><circle cx="1054.8" cy="791.9" r="22.3"/><circle cx="1054.4" cy="792.6" r="22.3"/><circle cx="1054" cy="791.1" r="22.3"/><circle cx="1050.4" cy="792.7" r="22.3"/><circle cx="1052.8" cy="791.2" r="22.3"/><circle cx="1055" cy="787.9" r="22.3"/><circle cx="1052" cy="789.7" r="22.3"/><circle cx="1052.8" cy="792.7" r="22.3"/><circle cx="1050.8" cy="785.9" r="22.3"/><circle cx="1058.7" cy="787.1" r="22.3"/><circle cx="1051.1" cy="793.4" r="22.3"/><circle cx="1050.4" cy="792.1" r="22.3"/><circle cx="1053.7" cy="794.8" r="22.3"/><circle cx="1053.6" cy="788.4" r="22.3"/><circle cx="1057.8" cy="793.1" r="22.3"/><circle cx="1049.4" cy="787.5" r="22.3"/><circle cx="1053.2" cy="791.9" r="22.3"/><circle cx="1050.9" cy="792.4" r="22.3"/><circle cx="1052" cy="792.5" r="22.3"/><circle cx="1051.7" cy="790" r="22.3"/><circle cx="1057.6" cy="792" r="22.3"/><circle cx="1053.6" cy="790.4" r="22.3"/><circle cx="1057.8" cy="787.7" r="22.3"/><circle cx="1059.3" cy="793.2" r="22.3"/><circle cx="1078.7" cy="792.8" r="22.3"/><circle cx="1075.6" cy="789.9" r="22.3"/><circle cx="1075.5" cy="792.5" r="22.3"/><circle cx="1068.7" cy="796.4" r="22.3"/><circle cx="1080.4" cy="785.3" r="22.3"/><circle cx="1074" cy="795.4" r="22.3"/><circle cx="1079.1" cy="790.2" r="22.3"/><circle cx="1074.1" cy="788.4" r="22.3"/><circle cx="1069.8" cy="793.8" r="22.3"/><circle cx="1078.8" cy="787.2" r="22.3"/><circle cx="1081.1" cy="791" r="22.3"/><circle cx="1081" cy="785.3" r="22.3"/><circle cx="1074.6" cy="785.2" r="22.3"/><circle cx="1069.9" cy="795.6" r="22.3"/><circle cx="1078.8" cy="794.7" r="22.3"/><circle cx="1074.7" cy="787.2" r="22.3"/><circle cx="1077" cy="793.7" r="22.3"/><circle cx="1078.4" cy="796" r="22.3"/><circle cx="1075.4" cy="785.2" r="22.3"/><circle cx="1075.2" cy="792.7" r="22.3"/><circle cx="1081.3" cy="787.3" r="22.3"/><circle cx="1078.5" cy="785.2" r="22.3"/><circle cx="1080.5" cy="789.3" r="22.3"/><circle cx="1079" cy="790.2" r="22.3"/><circle cx="1071.2" cy="793" r="22.3"/><circle cx="1071.3" cy="796.2" r="22.3"/><circle cx="1076.2" cy="791.5" r="22.3"/><circle cx="1080.1" cy="795.9" r="22.3"/><circle cx="1078.4" cy="794.1" r="22.3"/><circle cx="1072.1" cy="792.8" r="22.3"/><circle cx="1080.8" cy="788.4" r="22.3"/><circle cx="1074.1" cy="794.2" r="22.3"/><circle cx="1068.3" cy="791.9" r="22.3"/><circle cx="1081" cy="790.9" r="22.3"/><circle cx="1076.9" cy="785.4" r="22.3"/><circle cx="1068.3" cy="792.5" r="22.3"/><circle cx="1073.4" cy="793.7" r="22.3"/><circle cx="1072.9" cy="787.9" r="22.3"/><circle cx="1069.5" cy="787.7" r="22.3"/><circle cx="1071.7" cy="788.2" r="22.3"/><circle cx="1070.1" cy="786.5" r="22.3"/><circle cx="1073.4" cy="786" r="22.3"/><circle cx="1080.9" cy="789.2" r="22.3"/><circle cx="1068" cy="791.9" r="22.3"/><circle cx="1081" cy="788.3" r="22.3"/><circle cx="1078.1" cy="771.9" r="22.3"/><circle cx="1080.6" cy="766.4" r="22.3"/><circle cx="1076.1" cy="770.5" r="22.3"/><circle cx="1069.1" cy="777.8" r="22.3"/><circle cx="1070.5" cy="768.8" r="22.3"/><circle cx="1079.3" cy="768.2" r="22.3"/><circle cx="1079.8" cy="777.5" r="22.3"/><circle cx="1068.1" cy="774.7" r="22.3"/><circle cx="1067.9" cy="770.5" r="22.3"/><circle cx="1080.4" cy="766.5" r="22.3"/><circle cx="1069.1" cy="769.5" r="22.3"/><circle cx="1076.9" cy="769.6" r="22.3"/><circle cx="1073.3" cy="774.9" r="22.3"/><circle cx="1079.8" cy="766.5" r="22.3"/><circle cx="1077.5" cy="771" r="22.3"/><circle cx="1068.1" cy="774.4" r="22.3"/><circle cx="1071" cy="774.9" r="22.3"/><circle cx="1070.6" cy="769.5" r="22.3"/><circle cx="1077" cy="775.7" r="22.3"/><circle cx="1080" cy="777.9" r="22.3"/><circle cx="1080.8" cy="770.5" r="22.3"/><circle cx="1076.5" cy="774.4" r="22.3"/><circle cx="1077.1" cy="766.8" r="22.3"/><circle cx="1070.5" cy="776.3" r="22.3"/><circle cx="1078.5" cy="774.8" r="22.3"/><circle cx="1069.1" cy="771.7" r="22.3"/><circle cx="1070.2" cy="775.2" r="22.3"/><circle cx="1071.6" cy="776.9" r="22.3"/><circle cx="1078.9" cy="770.8" r="22.3"/><circle cx="1076.6" cy="774.2" r="22.3"/><circle cx="1078.3" cy="765.8" r="22.3"/><circle cx="1081.4" cy="777.4" r="22.3"/><circle cx="1071.9" cy="776.8" r="22.3"/><circle cx="1074.2" cy="769.6" r="22.3"/><circle cx="1076" cy="773.4" r="22.3"/><circle cx="1080.9" cy="770" r="22.3"/><circle cx="1081.3" cy="772.5" r="22.3"/><circle cx="1076.5" cy="776.7" r="22.3"/><circle cx="1075" cy="769.7" r="22.3"/><circle cx="1070.9" cy="770" r="22.3"/><circle cx="1069.5" cy="772.1" r="22.3"/><circle cx="1076" cy="771.9" r="22.3"/><circle cx="1069.8" cy="775.5" r="22.3"/><circle cx="1072.8" cy="769.7" r="22.3"/><circle cx="1073.6" cy="775.4" r="22.3"/><circle cx="1072.3" cy="755.4" r="22.3"/><circle cx="1069.6" cy="751.9" r="22.3"/><circle cx="1074.1" cy="755.2" r="22.3"/><circle cx="1067.7" cy="747.8" r="22.3"/><circle cx="1068.3" cy="757.9" r="22.3"/><circle cx="1071.7" cy="749.3" r="22.3"/><circle cx="1080.5" cy="749.7" r="22.3"/><circle cx="1070.5" cy="748.7" r="22.3"/><circle cx="1068.1" cy="757.9" r="22.3"/><circle cx="1069.2" cy="733.6" r="22.3"/><circle cx="1075.8" cy="732.8" r="22.3"/><circle cx="1080.7" cy="731.2" r="22.3"/><circle cx="1077.9" cy="738.5" r="22.3"/><circle cx="1074.5" cy="715.8" r="22.3"/><circle cx="1100.3" cy="784.9" r="22.3"/><circle cx="1099.1" cy="795.5" r="22.3"/><circle cx="1097.6" cy="790" r="22.3"/><circle cx="1095.2" cy="793.1" r="22.3"/><circle cx="1098.4" cy="786.3" r="22.3"/><circle cx="1098.3" cy="792.7" r="22.3"/><circle cx="1097.9" cy="795.4" r="22.3"/><circle cx="1097.1" cy="796.1" r="22.3"/><circle cx="1087.9" cy="795.2" r="22.3"/><circle cx="1096.7" cy="784.1" r="22.3"/><circle cx="1094.2" cy="788.4" r="22.3"/><circle cx="1095.8" cy="785.9" r="22.3"/><circle cx="1101.1" cy="786.2" r="22.3"/><circle cx="1092.3" cy="795.6" r="22.3"/><circle cx="1100" cy="793" r="22.3"/><circle cx="1098.2" cy="785.6" r="22.3"/><circle cx="1090.1" cy="794.1" r="22.3"/><circle cx="1093.6" cy="785.8" r="22.3"/><circle cx="1099.5" cy="784" r="22.3"/><circle cx="1091.5" cy="788.6" r="22.3"/><circle cx="1099.7" cy="791.8" r="22.3"/><circle cx="1095.8" cy="793.7" r="22.3"/><circle cx="1099.5" cy="790.9" r="22.3"/><circle cx="1094.5" cy="788.2" r="22.3"/><circle cx="1092.2" cy="786.2" r="22.3"/><circle cx="1094.1" cy="791.1" r="22.3"/><circle cx="1097.7" cy="788.1" r="22.3"/><circle cx="1097.5" cy="785.5" r="22.3"/><circle cx="1098.9" cy="791.4" r="22.3"/><circle cx="1096.6" cy="785.6" r="22.3"/><circle cx="1088.6" cy="788.2" r="22.3"/><circle cx="1095" cy="791.4" r="22.3"/><circle cx="1089.4" cy="792.9" r="22.3"/><circle cx="1098.1" cy="785.3" r="22.3"/><circle cx="1101.3" cy="787" r="22.3"/><circle cx="1099.8" cy="786.1" r="22.3"/><circle cx="1090.1" cy="787.8" r="22.3"/><circle cx="1099.7" cy="787" r="22.3"/><circle cx="1091.6" cy="787.7" r="22.3"/><circle cx="1093.1" cy="791.1" r="22.3"/><circle cx="1097.8" cy="788" r="22.3"/><circle cx="1089.7" cy="788.4" r="22.3"/><circle cx="1088.6" cy="793.9" r="22.3"/><circle cx="1099.1" cy="785" r="22.3"/><circle cx="1091.3" cy="786.9" r="22.3"/><circle cx="1090.3" cy="771.6" r="22.3"/><circle cx="1092.6" cy="776.9" r="22.3"/><circle cx="1093.7" cy="770.9" r="22.3"/><circle cx="1099.5" cy="776.6" r="22.3"/><circle cx="1091.7" cy="777.9" r="22.3"/><circle cx="1090.7" cy="774.6" r="22.3"/><circle cx="1099" cy="766" r="22.3"/><circle cx="1090.7" cy="771.8" r="22.3"/><circle cx="1095" cy="771.7" r="22.3"/><circle cx="1100.9" cy="765.9" r="22.3"/><circle cx="1088.3" cy="772.8" r="22.3"/><circle cx="1095" cy="769.7" r="22.3"/><circle cx="1095.1" cy="767.5" r="22.3"/><circle cx="1089.2" cy="772.1" r="22.3"/><circle cx="1099.2" cy="775.8" r="22.3"/><circle cx="1090.2" cy="770.1" r="22.3"/><circle cx="1089.8" cy="771" r="22.3"/><circle cx="1089.5" cy="775.6" r="22.3"/><circle cx="1092.4" cy="768" r="22.3"/><circle cx="1096.2" cy="770.2" r="22.3"/><circle cx="1096.4" cy="772.9" r="22.3"/><circle cx="1101.2" cy="770.4" r="22.3"/><circle cx="1096.4" cy="777.1" r="22.3"/><circle cx="1091.2" cy="770.5" r="22.3"/><circle cx="1100.9" cy="769" r="22.3"/><circle cx="1088.5" cy="767.7" r="22.3"/><circle cx="1090.7" cy="770.4" r="22.3"/><circle cx="1090.4" cy="777.1" r="22.3"/><circle cx="1098.4" cy="771.8" r="22.3"/><circle cx="1096.1" cy="769" r="22.3"/><circle cx="1095.9" cy="772.7" r="22.3"/><circle cx="1092.2" cy="771.2" r="22.3"/><circle cx="1091.2" cy="774.6" r="22.3"/><circle cx="1098.9" cy="773.6" r="22.3"/><circle cx="1097.7" cy="769.3" r="22.3"/><circle cx="1094.2" cy="768" r="22.3"/><circle cx="1092.3" cy="777.9" r="22.3"/><circle cx="1099.4" cy="768.4" r="22.3"/><circle cx="1097.9" cy="766.3" r="22.3"/><circle cx="1093.4" cy="772.5" r="22.3"/><circle cx="1096.2" cy="766.9" r="22.3"/><circle cx="1091.6" cy="768.3" r="22.3"/><circle cx="1100.9" cy="774.7" r="22.3"/><circle cx="1088" cy="775.9" r="22.3"/><circle cx="1096.6" cy="775.2" r="22.3"/><circle cx="1100.8" cy="758.1" r="22.3"/><circle cx="1100" cy="754.8" r="22.3"/><circle cx="1100.4" cy="755" r="22.3"/><circle cx="1089.3" cy="750.8" r="22.3"/><circle cx="1091.9" cy="747.4" r="22.3"/><circle cx="1099.1" cy="756.1" r="22.3"/><circle cx="1094.5" cy="752.4" r="22.3"/><circle cx="1098.4" cy="756" r="22.3"/><circle cx="1095.6" cy="752.8" r="22.3"/><circle cx="1095.8" cy="752.3" r="22.3"/><circle cx="1093.7" cy="754.4" r="22.3"/><circle cx="1093.2" cy="746.7" r="22.3"/><circle cx="1095" cy="758" r="22.3"/><circle cx="1093.2" cy="749.6" r="22.3"/><circle cx="1097.1" cy="758.3" r="22.3"/><circle cx="1093.5" cy="753.6" r="22.3"/><circle cx="1099.4" cy="755.9" r="22.3"/><circle cx="1100.3" cy="749" r="22.3"/><circle cx="1088.1" cy="753" r="22.3"/><circle cx="1095.1" cy="751.3" r="22.3"/><circle cx="1099.9" cy="756.8" r="22.3"/><circle cx="1099.1" cy="759.2" r="22.3"/><circle cx="1099.2" cy="756" r="22.3"/><circle cx="1088.2" cy="749" r="22.3"/><circle cx="1101.1" cy="751" r="22.3"/><circle cx="1098.5" cy="754.3" r="22.3"/><circle cx="1091.2" cy="750.9" r="22.3"/><circle cx="1098.9" cy="755.9" r="22.3"/><circle cx="1092.9" cy="755.9" r="22.3"/><circle cx="1091.4" cy="748.4" r="22.3"/><circle cx="1087.9" cy="759" r="22.3"/><circle cx="1090.3" cy="749.4" r="22.3"/><circle cx="1095.6" cy="749.7" r="22.3"/><circle cx="1097.3" cy="748.1" r="22.3"/><circle cx="1095.8" cy="759" r="22.3"/><circle cx="1089.2" cy="754.1" r="22.3"/><circle cx="1089.4" cy="755.4" r="22.3"/><circle cx="1091.6" cy="746.9" r="22.3"/><circle cx="1101" cy="750.8" r="22.3"/><circle cx="1093.6" cy="754.1" r="22.3"/><circle cx="1088.8" cy="753.6" r="22.3"/><circle cx="1089.8" cy="752.6" r="22.3"/><circle cx="1099" cy="754.2" r="22.3"/><circle cx="1097.5" cy="749" r="22.3"/><circle cx="1100.3" cy="753.9" r="22.3"/><circle cx="1091" cy="729.5" r="22.3"/><circle cx="1094.6" cy="737.3" r="22.3"/><circle cx="1097.2" cy="729.8" r="22.3"/><circle cx="1101.3" cy="735.9" r="22.3"/><circle cx="1091.4" cy="737.5" r="22.3"/><circle cx="1091.9" cy="738" r="22.3"/><circle cx="1100.4" cy="732.7" r="22.3"/><circle cx="1088.5" cy="739.5" r="22.3"/><circle cx="1090.3" cy="728.5" r="22.3"/><circle cx="1092.5" cy="711.9" r="22.3"/><circle cx="1090.9" cy="719.6" r="22.3"/><circle cx="1100.7" cy="721.2" r="22.3"/><circle cx="1094.7" cy="715.4" r="22.3"/><circle cx="1094.6" cy="697.2" r="22.3"/><circle cx="1112.5" cy="787" r="22.3"/><circle cx="1119.6" cy="793.6" r="22.3"/><circle cx="1112.1" cy="790.4" r="22.3"/><circle cx="1114.5" cy="788.5" r="22.3"/><circle cx="1118.5" cy="792.2" r="22.3"/><circle cx="1120.8" cy="790.8" r="22.3"/><circle cx="1108.3" cy="791.2" r="22.3"/><circle cx="1115.2" cy="794.2" r="22.3"/><circle cx="1120" cy="789" r="22.3"/><circle cx="1115" cy="792.9" r="22.3"/><circle cx="1109.7" cy="793" r="22.3"/><circle cx="1116.7" cy="787.9" r="22.3"/><circle cx="1117.3" cy="796.1" r="22.3"/><circle cx="1118.6" cy="787.7" r="22.3"/><circle cx="1117.3" cy="789.9" r="22.3"/><circle cx="1119.6" cy="784.3" r="22.3"/><circle cx="1115.9" cy="791.1" r="22.3"/><circle cx="1115.3" cy="786.4" r="22.3"/><circle cx="1117.2" cy="786.7" r="22.3"/><circle cx="1112.2" cy="788.9" r="22.3"/><circle cx="1111.2" cy="789.2" r="22.3"/><circle cx="1108.1" cy="789.8" r="22.3"/><circle cx="1117.9" cy="785" r="22.3"/><circle cx="1114.6" cy="785.5" r="22.3"/><circle cx="1110.7" cy="796.4" r="22.3"/><circle cx="1115.5" cy="792.2" r="22.3"/><circle cx="1113.3" cy="788.9" r="22.3"/><circle cx="1118.3" cy="785.6" r="22.3"/><circle cx="1112.4" cy="789.2" r="22.3"/><circle cx="1116.5" cy="787.9" r="22.3"/><circle cx="1115.9" cy="790.6" r="22.3"/><circle cx="1119" cy="796.3" r="22.3"/><circle cx="1118.7" cy="794.4" r="22.3"/><circle cx="1110.4" cy="788" r="22.3"/><circle cx="1114.1" cy="792.2" r="22.3"/><circle cx="1109" cy="795.9" r="22.3"/><circle cx="1111.6" cy="795.3" r="22.3"/><circle cx="1117.5" cy="794" r="22.3"/><circle cx="1113.1" cy="791.2" r="22.3"/><circle cx="1117.6" cy="786.2" r="22.3"/><circle cx="1116.6" cy="793.8" r="22.3"/><circle cx="1109.8" cy="789.4" r="22.3"/><circle cx="1112.9" cy="787.4" r="22.3"/><circle cx="1110.9" cy="787.8" r="22.3"/><circle cx="1112.8" cy="793" r="22.3"/><circle cx="1110.4" cy="768.4" r="22.3"/><circle cx="1114.8" cy="771" r="22.3"/><circle cx="1119.3" cy="777.6" r="22.3"/><circle cx="1115.4" cy="773.8" r="22.3"/><circle cx="1111.3" cy="767.4" r="22.3"/><circle cx="1111.2" cy="772.7" r="22.3"/><circle cx="1113.9" cy="776.2" r="22.3"/><circle cx="1112.2" cy="777.9" r="22.3"/><circle cx="1114.8" cy="770" r="22.3"/><circle cx="1121.6" cy="765.8" r="22.3"/><circle cx="1112.5" cy="765.7" r="22.3"/><circle cx="1109.4" cy="776" r="22.3"/><circle cx="1115.2" cy="769.3" r="22.3"/><circle cx="1116.1" cy="777.5" r="22.3"/><circle cx="1113.5" cy="771.7" r="22.3"/><circle cx="1113.2" cy="768.3" r="22.3"/><circle cx="1118.1" cy="776.8" r="22.3"/><circle cx="1114.3" cy="769.1" r="22.3"/><circle cx="1118.7" cy="769.5" r="22.3"/><circle cx="1121.3" cy="768.6" r="22.3"/><circle cx="1113.3" cy="767.4" r="22.3"/><circle cx="1116.3" cy="770.4" r="22.3"/><circle cx="1116" cy="768.4" r="22.3"/><circle cx="1117.6" cy="772.1" r="22.3"/><circle cx="1118.7" cy="772.6" r="22.3"/><circle cx="1118.1" cy="766.4" r="22.3"/><circle cx="1115.2" cy="776" r="22.3"/><circle cx="1120.3" cy="775.2" r="22.3"/><circle cx="1110.8" cy="777.3" r="22.3"/><circle cx="1113.7" cy="772.8" r="22.3"/><circle cx="1119.1" cy="775.7" r="22.3"/><circle cx="1113.1" cy="768.2" r="22.3"/><circle cx="1108.3" cy="772.7" r="22.3"/><circle cx="1110" cy="768.2" r="22.3"/><circle cx="1112" cy="776.1" r="22.3"/><circle cx="1109.5" cy="775.3" r="22.3"/><circle cx="1117.5" cy="776.5" r="22.3"/><circle cx="1108.5" cy="774.9" r="22.3"/><circle cx="1108.5" cy="768.7" r="22.3"/><circle cx="1118.3" cy="771.2" r="22.3"/><circle cx="1112.5" cy="777.4" r="22.3"/><circle cx="1117.7" cy="774.9" r="22.3"/><circle cx="1115.4" cy="765.4" r="22.3"/><circle cx="1111.2" cy="769.2" r="22.3"/><circle cx="1113.9" cy="771.2" r="22.3"/><circle cx="1113.5" cy="750.4" r="22.3"/><circle cx="1115" cy="758.9" r="22.3"/><circle cx="1119.1" cy="756.3" r="22.3"/><circle cx="1112.7" cy="753.3" r="22.3"/><circle cx="1116.1" cy="749.7" r="22.3"/><circle cx="1109.5" cy="754.5" r="22.3"/><circle cx="1116.4" cy="753.4" r="22.3"/><circle cx="1111.3" cy="749.2" r="22.3"/><circle cx="1121.1" cy="751.2" r="22.3"/><circle cx="1115.2" cy="757.4" r="22.3"/><circle cx="1114.5" cy="749.4" r="22.3"/><circle cx="1112.2" cy="753.8" r="22.3"/><circle cx="1114.1" cy="755.4" r="22.3"/><circle cx="1116.4" cy="755.6" r="22.3"/><circle cx="1120.5" cy="748.7" r="22.3"/><circle cx="1112.1" cy="758.5" r="22.3"/><circle cx="1108.2" cy="749" r="22.3"/><circle cx="1113.7" cy="757.8" r="22.3"/><circle cx="1108.6" cy="749.4" r="22.3"/><circle cx="1110.7" cy="747.7" r="22.3"/><circle cx="1112.8" cy="751.4" r="22.3"/><circle cx="1112.7" cy="751" r="22.3"/><circle cx="1109.9" cy="755.9" r="22.3"/><circle cx="1109.6" cy="758.5" r="22.3"/><circle cx="1115.6" cy="746.8" r="22.3"/><circle cx="1108" cy="748.2" r="22.3"/><circle cx="1111.9" cy="757.3" r="22.3"/><circle cx="1108.4" cy="754.9" r="22.3"/><circle cx="1109.1" cy="753" r="22.3"/><circle cx="1114.2" cy="757.2" r="22.3"/><circle cx="1120" cy="751.9" r="22.3"/><circle cx="1118.3" cy="756.3" r="22.3"/><circle cx="1117.8" cy="750.5" r="22.3"/><circle cx="1118.5" cy="757" r="22.3"/><circle cx="1120.9" cy="753.5" r="22.3"/><circle cx="1109" cy="747.7" r="22.3"/><circle cx="1112.1" cy="748" r="22.3"/><circle cx="1110.8" cy="758.4" r="22.3"/><circle cx="1115" cy="752.4" r="22.3"/><circle cx="1117.1" cy="751.2" r="22.3"/><circle cx="1112.9" cy="749.7" r="22.3"/><circle cx="1115" cy="757.5" r="22.3"/><circle cx="1115.9" cy="754.9" r="22.3"/><circle cx="1115.4" cy="757.3" r="22.3"/><circle cx="1111.4" cy="756" r="22.3"/><circle cx="1117" cy="740.4" r="22.3"/><circle cx="1113.6" cy="735.6" r="22.3"/><circle cx="1119.9" cy="739.2" r="22.3"/><circle cx="1115" cy="730.5" r="22.3"/><circle cx="1113.5" cy="728.6" r="22.3"/><circle cx="1111.4" cy="734.4" r="22.3"/><circle cx="1112.1" cy="737.1" r="22.3"/><circle cx="1108.9" cy="730.9" r="22.3"/><circle cx="1116.9" cy="730.1" r="22.3"/><circle cx="1114.5" cy="738.4" r="22.3"/><circle cx="1117" cy="728.9" r="22.3"/><circle cx="1115.5" cy="737.4" r="22.3"/><circle cx="1115.1" cy="729.9" r="22.3"/><circle cx="1119.1" cy="732.8" r="22.3"/><circle cx="1118.1" cy="740.3" r="22.3"/><circle cx="1109.8" cy="740.6" r="22.3"/><circle cx="1114.1" cy="734.5" r="22.3"/><circle cx="1108.2" cy="730.3" r="22.3"/><circle cx="1115.4" cy="731.5" r="22.3"/><circle cx="1121.1" cy="731" r="22.3"/><circle cx="1118.1" cy="732.6" r="22.3"/><circle cx="1115.1" cy="731" r="22.3"/><circle cx="1118.6" cy="736.9" r="22.3"/><circle cx="1118.9" cy="738.8" r="22.3"/><circle cx="1115.2" cy="729.1" r="22.3"/><circle cx="1110.9" cy="729.4" r="22.3"/><circle cx="1114.5" cy="731.5" r="22.3"/><circle cx="1110" cy="740.1" r="22.3"/><circle cx="1111.4" cy="733.2" r="22.3"/><circle cx="1120.1" cy="733.6" r="22.3"/><circle cx="1115.1" cy="735.9" r="22.3"/><circle cx="1114.8" cy="731.7" r="22.3"/><circle cx="1119.8" cy="736.3" r="22.3"/><circle cx="1117.1" cy="736.3" r="22.3"/><circle cx="1111.4" cy="740" r="22.3"/><circle cx="1113.5" cy="733" r="22.3"/><circle cx="1114.9" cy="735" r="22.3"/><circle cx="1118.5" cy="735" r="22.3"/><circle cx="1117.4" cy="733.7" r="22.3"/><circle cx="1120.9" cy="736.5" r="22.3"/><circle cx="1114" cy="731" r="22.3"/><circle cx="1112" cy="730.7" r="22.3"/><circle cx="1112.4" cy="738.8" r="22.3"/><circle cx="1115.4" cy="733.6" r="22.3"/><circle cx="1112.1" cy="737.3" r="22.3"/><circle cx="1121.6" cy="715.7" r="22.3"/><circle cx="1117.6" cy="716.8" r="22.3"/><circle cx="1115.5" cy="718.5" r="22.3"/><circle cx="1110.2" cy="711.6" r="22.3"/><circle cx="1114.8" cy="697.2" r="22.3"/><circle cx="1137.4" cy="792.7" r="22.3"/><circle cx="1133.6" cy="789.4" r="22.3"/><circle cx="1128.9" cy="788.7" r="22.3"/><circle cx="1141.7" cy="787.9" r="22.3"/><circle cx="1134.4" cy="795" r="22.3"/><circle cx="1135.4" cy="789.2" r="22.3"/><circle cx="1137.6" cy="785.4" r="22.3"/><circle cx="1131.7" cy="795.2" r="22.3"/><circle cx="1141.3" cy="789.8" r="22.3"/><circle cx="1140.2" cy="788.9" r="22.3"/><circle cx="1140.4" cy="788.9" r="22.3"/><circle cx="1138" cy="788.5" r="22.3"/><circle cx="1141.1" cy="787" r="22.3"/><circle cx="1141.4" cy="791.3" r="22.3"/><circle cx="1130.9" cy="794" r="22.3"/><circle cx="1134.3" cy="789.5" r="22.3"/><circle cx="1137.5" cy="790.6" r="22.3"/><circle cx="1141.2" cy="791.4" r="22.3"/><circle cx="1128.2" cy="789.9" r="22.3"/><circle cx="1137" cy="793.5" r="22.3"/><circle cx="1138.2" cy="794" r="22.3"/><circle cx="1140.4" cy="790.9" r="22.3"/><circle cx="1141.1" cy="788.8" r="22.3"/><circle cx="1138" cy="793.9" r="22.3"/><circle cx="1140.1" cy="784" r="22.3"/><circle cx="1130.1" cy="789.2" r="22.3"/><circle cx="1130.2" cy="785.4" r="22.3"/><circle cx="1139.9" cy="785" r="22.3"/><circle cx="1138.6" cy="791.6" r="22.3"/><circle cx="1136.7" cy="795.8" r="22.3"/><circle cx="1129.5" cy="789.5" r="22.3"/><circle cx="1138.2" cy="792.8" r="22.3"/><circle cx="1128.2" cy="796" r="22.3"/><circle cx="1132.6" cy="791.8" r="22.3"/><circle cx="1140.5" cy="787.8" r="22.3"/><circle cx="1140.1" cy="787" r="22.3"/><circle cx="1137.6" cy="786.9" r="22.3"/><circle cx="1131.1" cy="786.9" r="22.3"/><circle cx="1136" cy="788.4" r="22.3"/><circle cx="1134.8" cy="790.9" r="22.3"/><circle cx="1139.6" cy="786.4" r="22.3"/><circle cx="1130.7" cy="785.7" r="22.3"/><circle cx="1135.4" cy="795.7" r="22.3"/><circle cx="1138.9" cy="785.4" r="22.3"/><circle cx="1134" cy="791.1" r="22.3"/><circle cx="1131.7" cy="775.5" r="22.3"/><circle cx="1135.4" cy="772.4" r="22.3"/><circle cx="1137" cy="769.6" r="22.3"/><circle cx="1130.7" cy="768.2" r="22.3"/><circle cx="1134.2" cy="772.8" r="22.3"/><circle cx="1130.6" cy="770.2" r="22.3"/><circle cx="1137.3" cy="768" r="22.3"/><circle cx="1139.3" cy="773.5" r="22.3"/><circle cx="1135.5" cy="770.1" r="22.3"/><circle cx="1133.4" cy="777.8" r="22.3"/><circle cx="1138" cy="766.5" r="22.3"/><circle cx="1134.5" cy="766.3" r="22.3"/><circle cx="1128.8" cy="770.5" r="22.3"/><circle cx="1133.5" cy="769.8" r="22.3"/><circle cx="1133" cy="768.8" r="22.3"/><circle cx="1130.8" cy="774.3" r="22.3"/><circle cx="1133.7" cy="772.6" r="22.3"/><circle cx="1133.7" cy="766" r="22.3"/><circle cx="1135.1" cy="770.8" r="22.3"/><circle cx="1129.8" cy="771.2" r="22.3"/><circle cx="1138.5" cy="769" r="22.3"/><circle cx="1141.1" cy="770.4" r="22.3"/><circle cx="1133.1" cy="766.9" r="22.3"/><circle cx="1141.4" cy="765.6" r="22.3"/><circle cx="1129.6" cy="769.4" r="22.3"/><circle cx="1130.2" cy="774.6" r="22.3"/><circle cx="1138.7" cy="766.9" r="22.3"/><circle cx="1136.1" cy="773.9" r="22.3"/><circle cx="1134.7" cy="774" r="22.3"/><circle cx="1131.7" cy="775.3" r="22.3"/><circle cx="1141" cy="766.1" r="22.3"/><circle cx="1130.6" cy="767.2" r="22.3"/><circle cx="1138.3" cy="768.8" r="22.3"/><circle cx="1131.5" cy="771.2" r="22.3"/><circle cx="1139.2" cy="769.1" r="22.3"/><circle cx="1140.8" cy="777.2" r="22.3"/><circle cx="1132.6" cy="773.2" r="22.3"/><circle cx="1133.7" cy="765.4" r="22.3"/><circle cx="1141.3" cy="767.4" r="22.3"/><circle cx="1137" cy="768.1" r="22.3"/><circle cx="1139.7" cy="775.2" r="22.3"/><circle cx="1136.6" cy="765.5" r="22.3"/><circle cx="1130.3" cy="772.3" r="22.3"/><circle cx="1133.1" cy="767.1" r="22.3"/><circle cx="1134.4" cy="776.2" r="22.3"/><circle cx="1133.2" cy="751.1" r="22.3"/><circle cx="1135.5" cy="759" r="22.3"/><circle cx="1139.2" cy="755.7" r="22.3"/><circle cx="1128.5" cy="751.4" r="22.3"/><circle cx="1137.2" cy="751.6" r="22.3"/><circle cx="1129.3" cy="759.1" r="22.3"/><circle cx="1138" cy="752.9" r="22.3"/><circle cx="1128.2" cy="752.2" r="22.3"/><circle cx="1129.2" cy="753.3" r="22.3"/><circle cx="1137.8" cy="756.5" r="22.3"/><circle cx="1133.6" cy="750.2" r="22.3"/><circle cx="1131.8" cy="751.5" r="22.3"/><circle cx="1128.8" cy="750.4" r="22.3"/><circle cx="1131.3" cy="753.8" r="22.3"/><circle cx="1141.7" cy="749.5" r="22.3"/><circle cx="1130.6" cy="749.2" r="22.3"/><circle cx="1133.5" cy="753" r="22.3"/><circle cx="1131.9" cy="757.1" r="22.3"/><circle cx="1141.5" cy="754.4" r="22.3"/><circle cx="1130.9" cy="749.2" r="22.3"/><circle cx="1129.5" cy="754.1" r="22.3"/><circle cx="1129.6" cy="758.9" r="22.3"/><circle cx="1141.5" cy="753.1" r="22.3"/><circle cx="1137" cy="757.5" r="22.3"/><circle cx="1133" cy="758.6" r="22.3"/><circle cx="1139.6" cy="759.2" r="22.3"/><circle cx="1140.9" cy="747.2" r="22.3"/><circle cx="1130.8" cy="755.7" r="22.3"/><circle cx="1130.5" cy="759" r="22.3"/><circle cx="1134.6" cy="752.7" r="22.3"/><circle cx="1140.1" cy="753.2" r="22.3"/><circle cx="1130.4" cy="753.9" r="22.3"/><circle cx="1130.2" cy="758.9" r="22.3"/><circle cx="1133.4" cy="748.8" r="22.3"/><circle cx="1129.2" cy="747" r="22.3"/><circle cx="1139.6" cy="746.7" r="22.3"/><circle cx="1136.2" cy="755.4" r="22.3"/><circle cx="1138.6" cy="757.4" r="22.3"/><circle cx="1135.2" cy="748.8" r="22.3"/><circle cx="1135.4" cy="749.6" r="22.3"/><circle cx="1130.5" cy="748.4" r="22.3"/><circle cx="1130.1" cy="755.1" r="22.3"/><circle cx="1136.2" cy="747.7" r="22.3"/><circle cx="1129.7" cy="755.8" r="22.3"/><circle cx="1138.6" cy="756.2" r="22.3"/><circle cx="1133.4" cy="738.4" r="22.3"/><circle cx="1141.6" cy="730.8" r="22.3"/><circle cx="1133.2" cy="728.1" r="22.3"/><circle cx="1140.2" cy="736.7" r="22.3"/><circle cx="1129.1" cy="731.6" r="22.3"/><circle cx="1136.8" cy="737.4" r="22.3"/><circle cx="1128.2" cy="737.1" r="22.3"/><circle cx="1140.8" cy="732.1" r="22.3"/><circle cx="1137.2" cy="731.9" r="22.3"/><circle cx="1131.7" cy="729.6" r="22.3"/><circle cx="1134.5" cy="729" r="22.3"/><circle cx="1136.4" cy="732.1" r="22.3"/><circle cx="1140" cy="728.3" r="22.3"/><circle cx="1137.8" cy="728.8" r="22.3"/><circle cx="1133.7" cy="736.7" r="22.3"/><circle cx="1131.6" cy="736" r="22.3"/><circle cx="1140.3" cy="736.6" r="22.3"/><circle cx="1131.4" cy="739.6" r="22.3"/><circle cx="1137.9" cy="728.9" r="22.3"/><circle cx="1133.8" cy="738.8" r="22.3"/><circle cx="1138.5" cy="730" r="22.3"/><circle cx="1133.6" cy="734.7" r="22.3"/><circle cx="1133.2" cy="733.9" r="22.3"/><circle cx="1137.1" cy="729" r="22.3"/><circle cx="1132.6" cy="728.5" r="22.3"/><circle cx="1136.4" cy="734.9" r="22.3"/><circle cx="1139.6" cy="737.7" r="22.3"/><circle cx="1135.5" cy="729.2" r="22.3"/><circle cx="1139.5" cy="729.8" r="22.3"/><circle cx="1135.3" cy="732.5" r="22.3"/><circle cx="1138.7" cy="737.6" r="22.3"/><circle cx="1141.3" cy="730.6" r="22.3"/><circle cx="1134.7" cy="733.1" r="22.3"/><circle cx="1141" cy="740.5" r="22.3"/><circle cx="1131.8" cy="729.6" r="22.3"/><circle cx="1128.7" cy="731.9" r="22.3"/><circle cx="1132.1" cy="737.6" r="22.3"/><circle cx="1128.7" cy="737.1" r="22.3"/><circle cx="1133.1" cy="732.4" r="22.3"/><circle cx="1139.2" cy="733.1" r="22.3"/><circle cx="1130.1" cy="734.1" r="22.3"/><circle cx="1140.7" cy="737.7" r="22.3"/><circle cx="1137.6" cy="737.9" r="22.3"/><circle cx="1132.2" cy="733.8" r="22.3"/><circle cx="1139.4" cy="733.9" r="22.3"/><circle cx="1130.7" cy="714.8" r="22.3"/><circle cx="1128.8" cy="712.8" r="22.3"/><circle cx="1135.7" cy="717.9" r="22.3"/><circle cx="1136.6" cy="717.6" r="22.3"/><circle cx="1134.8" cy="714.7" r="22.3"/><circle cx="1139" cy="719.7" r="22.3"/><circle cx="1141.2" cy="711.4" r="22.3"/><circle cx="1130.6" cy="710.6" r="22.3"/><circle cx="1131.7" cy="711.4" r="22.3"/><circle cx="1131" cy="711.2" r="22.3"/><circle cx="1139.9" cy="715" r="22.3"/><circle cx="1137.3" cy="712.6" r="22.3"/><circle cx="1136.7" cy="717.9" r="22.3"/><circle cx="1138.6" cy="710.7" r="22.3"/><circle cx="1135.4" cy="711.2" r="22.3"/><circle cx="1133" cy="716.4" r="22.3"/><circle cx="1137.4" cy="718.1" r="22.3"/><circle cx="1138.8" cy="712" r="22.3"/><circle cx="1130.9" cy="717" r="22.3"/><circle cx="1140.1" cy="715.6" r="22.3"/><circle cx="1128.5" cy="711.9" r="22.3"/><circle cx="1130.5" cy="716.2" r="22.3"/><circle cx="1140.4" cy="712.4" r="22.3"/><circle cx="1138.2" cy="721.9" r="22.3"/><circle cx="1131.4" cy="720.7" r="22.3"/><circle cx="1141.5" cy="719.4" r="22.3"/><circle cx="1130.2" cy="713.1" r="22.3"/><circle cx="1138.7" cy="713" r="22.3"/><circle cx="1135.3" cy="710.9" r="22.3"/><circle cx="1136.3" cy="721.6" r="22.3"/><circle cx="1139.5" cy="722" r="22.3"/><circle cx="1141.6" cy="714.8" r="22.3"/><circle cx="1136.6" cy="719.1" r="22.3"/><circle cx="1139.8" cy="717.5" r="22.3"/><circle cx="1135.9" cy="721.4" r="22.3"/><circle cx="1137.3" cy="711.4" r="22.3"/><circle cx="1136.5" cy="711.9" r="22.3"/><circle cx="1135.8" cy="715.1" r="22.3"/><circle cx="1139.4" cy="719.8" r="22.3"/><circle cx="1133.4" cy="711.9" r="22.3"/><circle cx="1138.2" cy="710.6" r="22.3"/><circle cx="1138" cy="713.6" r="22.3"/><circle cx="1136.8" cy="719.2" r="22.3"/><circle cx="1138.6" cy="711.8" r="22.3"/><circle cx="1131.2" cy="717.4" r="22.3"/><circle cx="1134" cy="694.2" r="22.3"/><circle cx="1129.1" cy="701.9" r="22.3"/><circle cx="1140.7" cy="693.8" r="22.3"/><circle cx="1133.6" cy="701.4" r="22.3"/><circle cx="1128.1" cy="701.6" r="22.3"/><circle cx="1140.2" cy="702.4" r="22.3"/><circle cx="1139.7" cy="701.2" r="22.3"/><circle cx="1139" cy="682" r="22.3"/><circle cx="1137.7" cy="675.1" r="22.3"/><circle cx="1135.1" cy="681.8" r="22.3"/><circle cx="1134.9" cy="660" r="22.3"/><circle cx="1155" cy="793.4" r="22.3"/><circle cx="1161.5" cy="790.7" r="22.3"/><circle cx="1156" cy="792.5" r="22.3"/><circle cx="1154.1" cy="785.1" r="22.3"/><circle cx="1160.3" cy="786" r="22.3"/><circle cx="1161.1" cy="784" r="22.3"/><circle cx="1148.4" cy="792.9" r="22.3"/><circle cx="1149.4" cy="785.9" r="22.3"/><circle cx="1150.2" cy="786.5" r="22.3"/><circle cx="1150.8" cy="794" r="22.3"/><circle cx="1152.6" cy="766.6" r="22.3"/><circle cx="1151.6" cy="775.5" r="22.3"/><circle cx="1158.9" cy="774.6" r="22.3"/><circle cx="1156.1" cy="771.9" r="22.3"/><circle cx="1157.8" cy="771.7" r="22.3"/><circle cx="1151.3" cy="776.3" r="22.3"/><circle cx="1159.7" cy="775.1" r="22.3"/><circle cx="1151.6" cy="770.6" r="22.3"/><circle cx="1161.1" cy="773.3" r="22.3"/><circle cx="1152.6" cy="773.6" r="22.3"/><circle cx="1154.4" cy="766.3" r="22.3"/><circle cx="1156.1" cy="771" r="22.3"/><circle cx="1152.5" cy="773.6" r="22.3"/><circle cx="1154.4" cy="767.7" r="22.3"/><circle cx="1160.5" cy="767.6" r="22.3"/><circle cx="1151.1" cy="766.1" r="22.3"/><circle cx="1152.3" cy="773.8" r="22.3"/><circle cx="1154.6" cy="776.6" r="22.3"/><circle cx="1155.2" cy="765.9" r="22.3"/><circle cx="1149.8" cy="765.7" r="22.3"/><circle cx="1153.8" cy="774.7" r="22.3"/><circle cx="1155.6" cy="776.7" r="22.3"/><circle cx="1152.7" cy="749.7" r="22.3"/><circle cx="1152.3" cy="750" r="22.3"/><circle cx="1152" cy="749.8" r="22.3"/><circle cx="1158" cy="752" r="22.3"/><circle cx="1154.5" cy="756.5" r="22.3"/><circle cx="1149.6" cy="752.8" r="22.3"/><circle cx="1152.9" cy="748.6" r="22.3"/><circle cx="1149.7" cy="758.2" r="22.3"/><circle cx="1152.7" cy="752.4" r="22.3"/><circle cx="1158.3" cy="751.3" r="22.3"/><circle cx="1151.7" cy="758.3" r="22.3"/><circle cx="1157.3" cy="757.8" r="22.3"/><circle cx="1158.9" cy="751.4" r="22.3"/><circle cx="1160.5" cy="753.8" r="22.3"/><circle cx="1154.5" cy="751.2" r="22.3"/><circle cx="1149.6" cy="748.5" r="22.3"/><circle cx="1156.3" cy="750.6" r="22.3"/><circle cx="1149.1" cy="755.8" r="22.3"/><circle cx="1150.2" cy="755.2" r="22.3"/><circle cx="1153.4" cy="747.6" r="22.3"/><circle cx="1154.6" cy="752.2" r="22.3"/><circle cx="1153.9" cy="754.1" r="22.3"/><circle cx="1149.1" cy="750.7" r="22.3"/><circle cx="1154.8" cy="756.7" r="22.3"/><circle cx="1158.5" cy="759.1" r="22.3"/><circle cx="1160.3" cy="752.5" r="22.3"/><circle cx="1159.6" cy="753" r="22.3"/><circle cx="1150" cy="753.2" r="22.3"/><circle cx="1151.1" cy="752.4" r="22.3"/><circle cx="1148.3" cy="750.6" r="22.3"/><circle cx="1159" cy="752.2" r="22.3"/><circle cx="1153" cy="750.8" r="22.3"/><circle cx="1153.6" cy="747.1" r="22.3"/><circle cx="1160.5" cy="753.8" r="22.3"/><circle cx="1159.2" cy="756.2" r="22.3"/><circle cx="1160.9" cy="750.9" r="22.3"/><circle cx="1148.2" cy="751.2" r="22.3"/><circle cx="1153.4" cy="751.1" r="22.3"/><circle cx="1149.8" cy="755" r="22.3"/><circle cx="1161" cy="752.1" r="22.3"/><circle cx="1155.1" cy="750.8" r="22.3"/><circle cx="1149.8" cy="757.6" r="22.3"/><circle cx="1153.7" cy="754.8" r="22.3"/><circle cx="1154.6" cy="752.4" r="22.3"/><circle cx="1149.3" cy="755.7" r="22.3"/><circle cx="1159.3" cy="731.2" r="22.3"/><circle cx="1156.8" cy="740.1" r="22.3"/><circle cx="1157.2" cy="739.5" r="22.3"/><circle cx="1151" cy="737.5" r="22.3"/><circle cx="1161.7" cy="736.3" r="22.3"/><circle cx="1152.4" cy="739.5" r="22.3"/><circle cx="1153.9" cy="730.7" r="22.3"/><circle cx="1152.9" cy="735.4" r="22.3"/><circle cx="1149.7" cy="738.7" r="22.3"/><circle cx="1149.7" cy="730.2" r="22.3"/><circle cx="1159.8" cy="734.8" r="22.3"/><circle cx="1156" cy="735.8" r="22.3"/><circle cx="1157.6" cy="737.9" r="22.3"/><circle cx="1152.9" cy="731.5" r="22.3"/><circle cx="1152.9" cy="728.1" r="22.3"/><circle cx="1154.5" cy="740.7" r="22.3"/><circle cx="1154.8" cy="729.7" r="22.3"/><circle cx="1150.6" cy="735.1" r="22.3"/><circle cx="1155.8" cy="729.6" r="22.3"/><circle cx="1148.4" cy="731.6" r="22.3"/><circle cx="1149.3" cy="731.8" r="22.3"/><circle cx="1161" cy="732.7" r="22.3"/><circle cx="1148.5" cy="737.2" r="22.3"/><circle cx="1154.6" cy="729.4" r="22.3"/><circle cx="1154.1" cy="737.6" r="22.3"/><circle cx="1158.4" cy="731.4" r="22.3"/><circle cx="1161.6" cy="732.9" r="22.3"/><circle cx="1158.7" cy="729.6" r="22.3"/><circle cx="1150.8" cy="740.2" r="22.3"/><circle cx="1159.4" cy="732.8" r="22.3"/><circle cx="1160.1" cy="730" r="22.3"/><circle cx="1149.8" cy="737.3" r="22.3"/><circle cx="1159.8" cy="733.7" r="22.3"/><circle cx="1158.9" cy="729.2" r="22.3"/><circle cx="1148.4" cy="737.5" r="22.3"/><circle cx="1149.2" cy="737.8" r="22.3"/><circle cx="1153.5" cy="729.1" r="22.3"/><circle cx="1151.1" cy="734.5" r="22.3"/><circle cx="1154" cy="728.7" r="22.3"/><circle cx="1157.4" cy="735.5" r="22.3"/><circle cx="1149.4" cy="737.3" r="22.3"/><circle cx="1149.9" cy="728.2" r="22.3"/><circle cx="1152.2" cy="738.5" r="22.3"/><circle cx="1148.6" cy="738.8" r="22.3"/><circle cx="1156.3" cy="734.4" r="22.3"/><circle cx="1156.1" cy="713" r="22.3"/><circle cx="1150.8" cy="714.5" r="22.3"/><circle cx="1156.2" cy="709.7" r="22.3"/><circle cx="1153.8" cy="719.3" r="22.3"/><circle cx="1151.3" cy="713.1" r="22.3"/><circle cx="1159.2" cy="718.3" r="22.3"/><circle cx="1159.5" cy="710.3" r="22.3"/><circle cx="1153.4" cy="720.9" r="22.3"/><circle cx="1160.8" cy="718.9" r="22.3"/><circle cx="1161.7" cy="717.1" r="22.3"/><circle cx="1155" cy="716.4" r="22.3"/><circle cx="1149.2" cy="717.6" r="22.3"/><circle cx="1149.4" cy="716" r="22.3"/><circle cx="1149.7" cy="714.4" r="22.3"/><circle cx="1155.5" cy="710.5" r="22.3"/><circle cx="1159.4" cy="714.3" r="22.3"/><circle cx="1159" cy="717.1" r="22.3"/><circle cx="1159.3" cy="714.3" r="22.3"/><circle cx="1159.5" cy="711.1" r="22.3"/><circle cx="1157.3" cy="710.7" r="22.3"/><circle cx="1148.4" cy="710.3" r="22.3"/><circle cx="1154.8" cy="715.7" r="22.3"/><circle cx="1151.4" cy="718.1" r="22.3"/><circle cx="1155.8" cy="717.5" r="22.3"/><circle cx="1148.3" cy="717.8" r="22.3"/><circle cx="1150.4" cy="709.5" r="22.3"/><circle cx="1149.4" cy="713" r="22.3"/><circle cx="1158.6" cy="709.5" r="22.3"/><circle cx="1158.2" cy="712.9" r="22.3"/><circle cx="1156.6" cy="710.8" r="22.3"/><circle cx="1159.7" cy="715.7" r="22.3"/><circle cx="1161.4" cy="714.8" r="22.3"/><circle cx="1153.8" cy="718.4" r="22.3"/><circle cx="1156.7" cy="715.1" r="22.3"/><circle cx="1152.4" cy="716.1" r="22.3"/><circle cx="1153.9" cy="711.1" r="22.3"/><circle cx="1149.8" cy="721.2" r="22.3"/><circle cx="1155.1" cy="715.2" r="22.3"/><circle cx="1148.6" cy="716.5" r="22.3"/><circle cx="1149.9" cy="719.7" r="22.3"/><circle cx="1158.8" cy="721.9" r="22.3"/><circle cx="1151" cy="715.9" r="22.3"/><circle cx="1159.4" cy="712.2" r="22.3"/><circle cx="1155.2" cy="715.6" r="22.3"/><circle cx="1159.2" cy="715.3" r="22.3"/><circle cx="1158.9" cy="697.9" r="22.3"/><circle cx="1149.9" cy="691.9" r="22.3"/><circle cx="1151.1" cy="696.3" r="22.3"/><circle cx="1157.4" cy="697.2" r="22.3"/><circle cx="1153.1" cy="702.7" r="22.3"/><circle cx="1154.2" cy="702.5" r="22.3"/><circle cx="1155.6" cy="697.9" r="22.3"/><circle cx="1149.1" cy="698.9" r="22.3"/><circle cx="1154.3" cy="700.1" r="22.3"/><circle cx="1161.2" cy="699.7" r="22.3"/><circle cx="1149.2" cy="703" r="22.3"/><circle cx="1149.1" cy="698" r="22.3"/><circle cx="1148.6" cy="697.8" r="22.3"/><circle cx="1160.8" cy="700.2" r="22.3"/><circle cx="1157.8" cy="696.7" r="22.3"/><circle cx="1150.6" cy="698" r="22.3"/><circle cx="1148.4" cy="679.4" r="22.3"/><circle cx="1149.6" cy="683.4" r="22.3"/><circle cx="1154.4" cy="680.2" r="22.3"/><circle cx="1150.7" cy="682.9" r="22.3"/><circle cx="1152" cy="672.7" r="22.3"/><circle cx="1161.4" cy="681" r="22.3"/><circle cx="1148.5" cy="678.8" r="22.3"/><circle cx="1160.3" cy="663.2" r="22.3"/><circle cx="1161.7" cy="661" r="22.3"/><circle cx="1151.9" cy="665.3" r="22.3"/><circle cx="1155" cy="641.4" r="22.3"/><circle cx="1172.2" cy="789.8" r="22.3"/><circle cx="1172.3" cy="791.7" r="22.3"/><circle cx="1178.2" cy="790.2" r="22.3"/><circle cx="1169.4" cy="795.4" r="22.3"/><circle cx="1180.1" cy="775.7" r="22.3"/><circle cx="1173.7" cy="769.2" r="22.3"/><circle cx="1181.6" cy="771.3" r="22.3"/><circle cx="1178.5" cy="770.1" r="22.3"/><circle cx="1179.2" cy="771.9" r="22.3"/><circle cx="1171.3" cy="771.1" r="22.3"/><circle cx="1176.8" cy="776" r="22.3"/><circle cx="1176.4" cy="772.1" r="22.3"/><circle cx="1173.5" cy="771.8" r="22.3"/><circle cx="1173.3" cy="773.3" r="22.3"/><circle cx="1181.8" cy="755.3" r="22.3"/><circle cx="1174.8" cy="759.3" r="22.3"/><circle cx="1172.3" cy="749.1" r="22.3"/><circle cx="1175.2" cy="750.7" r="22.3"/><circle cx="1180.8" cy="750.6" r="22.3"/><circle cx="1181.3" cy="748.4" r="22.3"/><circle cx="1171.1" cy="751.4" r="22.3"/><circle cx="1168.6" cy="751.3" r="22.3"/><circle cx="1180.6" cy="750.1" r="22.3"/><circle cx="1180.4" cy="752.1" r="22.3"/><circle cx="1178.9" cy="756.4" r="22.3"/><circle cx="1172.2" cy="758.2" r="22.3"/><circle cx="1170.1" cy="749.5" r="22.3"/><circle cx="1169.7" cy="749.5" r="22.3"/><circle cx="1171.9" cy="748.6" r="22.3"/><circle cx="1181.5" cy="758.8" r="22.3"/><circle cx="1176.2" cy="750.9" r="22.3"/><circle cx="1174.6" cy="759" r="22.3"/><circle cx="1175.1" cy="750.4" r="22.3"/><circle cx="1175.4" cy="757.3" r="22.3"/><circle cx="1175.7" cy="759" r="22.3"/><circle cx="1170.7" cy="755.1" r="22.3"/><circle cx="1174.9" cy="736" r="22.3"/><circle cx="1171.8" cy="728.9" r="22.3"/><circle cx="1169.7" cy="738.7" r="22.3"/><circle cx="1178.5" cy="736.7" r="22.3"/><circle cx="1180.1" cy="730" r="22.3"/><circle cx="1175.2" cy="732.7" r="22.3"/><circle cx="1173.5" cy="731.2" r="22.3"/><circle cx="1181.6" cy="732.8" r="22.3"/><circle cx="1173.3" cy="729.1" r="22.3"/><circle cx="1168.4" cy="731.2" r="22.3"/><circle cx="1181.3" cy="737.8" r="22.3"/><circle cx="1177" cy="739.3" r="22.3"/><circle cx="1173.7" cy="728.8" r="22.3"/><circle cx="1169.5" cy="738.3" r="22.3"/><circle cx="1170.4" cy="738.7" r="22.3"/><circle cx="1171.4" cy="728.6" r="22.3"/><circle cx="1176.6" cy="734.2" r="22.3"/><circle cx="1179.3" cy="732.4" r="22.3"/><circle cx="1181.6" cy="736.4" r="22.3"/><circle cx="1175.6" cy="729.2" r="22.3"/><circle cx="1172.5" cy="729.1" r="22.3"/><circle cx="1173.5" cy="735" r="22.3"/><circle cx="1173.8" cy="739.2" r="22.3"/><circle cx="1173.1" cy="731.8" r="22.3"/><circle cx="1179.9" cy="733.6" r="22.3"/><circle cx="1169.1" cy="733.3" r="22.3"/><circle cx="1177.2" cy="732.9" r="22.3"/><circle cx="1171.8" cy="739.9" r="22.3"/><circle cx="1175.5" cy="737.5" r="22.3"/><circle cx="1179.6" cy="729.9" r="22.3"/><circle cx="1169.2" cy="731.1" r="22.3"/><circle cx="1174.5" cy="735.3" r="22.3"/><circle cx="1174.6" cy="729.8" r="22.3"/><circle cx="1169.6" cy="728.8" r="22.3"/><circle cx="1180.9" cy="735.2" r="22.3"/><circle cx="1181.6" cy="730.6" r="22.3"/><circle cx="1177.6" cy="734" r="22.3"/><circle cx="1178.1" cy="733.4" r="22.3"/><circle cx="1179.1" cy="737.7" r="22.3"/><circle cx="1174.1" cy="737.3" r="22.3"/><circle cx="1168.3" cy="731.8" r="22.3"/><circle cx="1176.6" cy="737.7" r="22.3"/><circle cx="1179.4" cy="731.5" r="22.3"/><circle cx="1178.8" cy="733.3" r="22.3"/><circle cx="1172.5" cy="732.4" r="22.3"/><circle cx="1171.8" cy="715.4" r="22.3"/><circle cx="1179.4" cy="715.7" r="22.3"/><circle cx="1180.1" cy="711.7" r="22.3"/><circle cx="1174.6" cy="717.2" r="22.3"/><circle cx="1172.1" cy="716.2" r="22.3"/><circle cx="1169.5" cy="711.6" r="22.3"/><circle cx="1171.6" cy="721.1" r="22.3"/><circle cx="1170.2" cy="717.7" r="22.3"/><circle cx="1172.8" cy="714.3" r="22.3"/><circle cx="1172.9" cy="719.4" r="22.3"/><circle cx="1174.8" cy="715.7" r="22.3"/><circle cx="1175.3" cy="717.3" r="22.3"/><circle cx="1175.8" cy="709.7" r="22.3"/><circle cx="1173.2" cy="713.2" r="22.3"/><circle cx="1174.2" cy="713.1" r="22.3"/><circle cx="1173.7" cy="712" r="22.3"/><circle cx="1181.9" cy="713.1" r="22.3"/><circle cx="1178.5" cy="721.5" r="22.3"/><circle cx="1177.7" cy="713.3" r="22.3"/><circle cx="1170.5" cy="712.4" r="22.3"/><circle cx="1179.5" cy="710.5" r="22.3"/><circle cx="1173.9" cy="719.8" r="22.3"/><circle cx="1171.1" cy="721.9" r="22.3"/><circle cx="1175.2" cy="709.7" r="22.3"/><circle cx="1173.4" cy="715.5" r="22.3"/><circle cx="1170.1" cy="712.4" r="22.3"/><circle cx="1173.2" cy="718.5" r="22.3"/><circle cx="1179.4" cy="713.3" r="22.3"/><circle cx="1176.2" cy="713.1" r="22.3"/><circle cx="1170.1" cy="713.1" r="22.3"/><circle cx="1176.1" cy="714.2" r="22.3"/><circle cx="1172.7" cy="716.4" r="22.3"/><circle cx="1169.6" cy="716.3" r="22.3"/><circle cx="1174.8" cy="715" r="22.3"/><circle cx="1175" cy="714.4" r="22.3"/><circle cx="1175.8" cy="709.5" r="22.3"/><circle cx="1170.5" cy="713.9" r="22.3"/><circle cx="1178.5" cy="712.2" r="22.3"/><circle cx="1170.7" cy="718.8" r="22.3"/><circle cx="1177.9" cy="714.2" r="22.3"/><circle cx="1172.7" cy="711.8" r="22.3"/><circle cx="1174.4" cy="718.8" r="22.3"/><circle cx="1174.7" cy="719.4" r="22.3"/><circle cx="1178.5" cy="709.9" r="22.3"/><circle cx="1178.2" cy="714.8" r="22.3"/><circle cx="1169.6" cy="691.5" r="22.3"/><circle cx="1180.2" cy="693" r="22.3"/><circle cx="1178.2" cy="702.5" r="22.3"/><circle cx="1172.6" cy="697.4" r="22.3"/><circle cx="1176.5" cy="700.8" r="22.3"/><circle cx="1180.4" cy="697.3" r="22.3"/><circle cx="1178.2" cy="692.3" r="22.3"/><circle cx="1171.8" cy="701" r="22.3"/><circle cx="1176.2" cy="702" r="22.3"/><circle cx="1168.7" cy="703.1" r="22.3"/><circle cx="1179" cy="692.9" r="22.3"/><circle cx="1173.6" cy="697.6" r="22.3"/><circle cx="1176.1" cy="699.6" r="22.3"/><circle cx="1172.9" cy="698.6" r="22.3"/><circle cx="1171.9" cy="694.7" r="22.3"/><circle cx="1175.9" cy="702.1" r="22.3"/><circle cx="1169.6" cy="694.1" r="22.3"/><circle cx="1174.9" cy="692.6" r="22.3"/><circle cx="1178.1" cy="696.1" r="22.3"/><circle cx="1171.8" cy="695.8" r="22.3"/><circle cx="1174.7" cy="694" r="22.3"/><circle cx="1171.8" cy="691" r="22.3"/><circle cx="1181.3" cy="691.1" r="22.3"/><circle cx="1173.6" cy="701" r="22.3"/><circle cx="1174.4" cy="693.8" r="22.3"/><circle cx="1177.2" cy="703.3" r="22.3"/><circle cx="1171.4" cy="691.3" r="22.3"/><circle cx="1175.6" cy="702.6" r="22.3"/><circle cx="1176.1" cy="693.7" r="22.3"/><circle cx="1180.7" cy="702" r="22.3"/><circle cx="1178" cy="702.1" r="22.3"/><circle cx="1177" cy="696.6" r="22.3"/><circle cx="1168.6" cy="701.3" r="22.3"/><circle cx="1174" cy="694.6" r="22.3"/><circle cx="1181.8" cy="700" r="22.3"/><circle cx="1172.1" cy="694.8" r="22.3"/><circle cx="1174.5" cy="696" r="22.3"/><circle cx="1179.9" cy="694" r="22.3"/><circle cx="1174.2" cy="698.9" r="22.3"/><circle cx="1177.8" cy="695.9" r="22.3"/><circle cx="1177.4" cy="697.3" r="22.3"/><circle cx="1178.3" cy="700.5" r="22.3"/><circle cx="1179.4" cy="698.4" r="22.3"/><circle cx="1174.1" cy="702.9" r="22.3"/><circle cx="1179.6" cy="696.3" r="22.3"/><circle cx="1177" cy="680.7" r="22.3"/><circle cx="1169.1" cy="678.1" r="22.3"/><circle cx="1175.3" cy="682.5" r="22.3"/><circle cx="1179.5" cy="684.5" r="22.3"/><circle cx="1180" cy="673.3" r="22.3"/><circle cx="1169.7" cy="672.9" r="22.3"/><circle cx="1181.1" cy="680.4" r="22.3"/><circle cx="1174.2" cy="674.6" r="22.3"/><circle cx="1169.1" cy="674.6" r="22.3"/><circle cx="1168.5" cy="677" r="22.3"/><circle cx="1168.9" cy="679.2" r="22.3"/><circle cx="1178" cy="678.1" r="22.3"/><circle cx="1173.2" cy="681.6" r="22.3"/><circle cx="1169.6" cy="681.3" r="22.3"/><circle cx="1171.2" cy="681.9" r="22.3"/><circle cx="1169.9" cy="682.4" r="22.3"/><circle cx="1173.9" cy="665" r="22.3"/><circle cx="1178.2" cy="662.6" r="22.3"/><circle cx="1178.9" cy="659.2" r="22.3"/><circle cx="1178.1" cy="657" r="22.3"/><circle cx="1173.2" cy="657.7" r="22.3"/><circle cx="1168.8" cy="655.5" r="22.3"/><circle cx="1178.1" cy="654.6" r="22.3"/><circle cx="1173.1" cy="645.6" r="22.3"/><circle cx="1178.3" cy="645.4" r="22.3"/><circle cx="1180.3" cy="643.5" r="22.3"/><circle cx="1175.1" cy="622.8" r="22.3"/><circle cx="1195.3" cy="790.2" r="22.3"/><circle cx="1200.2" cy="777" r="22.3"/><circle cx="1192.4" cy="767.7" r="22.3"/><circle cx="1189.5" cy="768.7" r="22.3"/><circle cx="1193.8" cy="770.8" r="22.3"/><circle cx="1190.8" cy="756.2" r="22.3"/><circle cx="1200.4" cy="750.2" r="22.3"/><circle cx="1190" cy="758.3" r="22.3"/><circle cx="1189.9" cy="756.8" r="22.3"/><circle cx="1192.3" cy="752.7" r="22.3"/><circle cx="1192.7" cy="747.4" r="22.3"/><circle cx="1189.5" cy="753" r="22.3"/><circle cx="1197" cy="749.3" r="22.3"/><circle cx="1194.9" cy="751.3" r="22.3"/><circle cx="1190.5" cy="755.7" r="22.3"/><circle cx="1200.1" cy="740.4" r="22.3"/><circle cx="1195.8" cy="729.1" r="22.3"/><circle cx="1201" cy="738.3" r="22.3"/><circle cx="1202.1" cy="734.8" r="22.3"/><circle cx="1190.2" cy="730.4" r="22.3"/><circle cx="1195.7" cy="728.3" r="22.3"/><circle cx="1190.1" cy="730.1" r="22.3"/><circle cx="1192.7" cy="740.2" r="22.3"/><circle cx="1190.6" cy="730.9" r="22.3"/><circle cx="1200.9" cy="731.5" r="22.3"/><circle cx="1197.4" cy="735.3" r="22.3"/><circle cx="1192.6" cy="735.9" r="22.3"/><circle cx="1189.4" cy="738.9" r="22.3"/><circle cx="1191.8" cy="729.2" r="22.3"/><circle cx="1200.9" cy="737.2" r="22.3"/><circle cx="1201.4" cy="738.9" r="22.3"/><circle cx="1197.4" cy="739.3" r="22.3"/><circle cx="1196.3" cy="728.3" r="22.3"/><circle cx="1198.5" cy="732.1" r="22.3"/><circle cx="1197.5" cy="730.2" r="22.3"/><circle cx="1195.2" cy="729.4" r="22.3"/><circle cx="1198.3" cy="731.7" r="22.3"/><circle cx="1191.7" cy="712.1" r="22.3"/><circle cx="1201.4" cy="721.3" r="22.3"/><circle cx="1194.5" cy="713.4" r="22.3"/><circle cx="1199.5" cy="711.9" r="22.3"/><circle cx="1192.8" cy="716.2" r="22.3"/><circle cx="1198.6" cy="709.8" r="22.3"/><circle cx="1190" cy="721.9" r="22.3"/><circle cx="1200.1" cy="721.7" r="22.3"/><circle cx="1189.6" cy="717.5" r="22.3"/><circle cx="1188.6" cy="710.5" r="22.3"/><circle cx="1188.8" cy="721.2" r="22.3"/><circle cx="1195.2" cy="717.1" r="22.3"/><circle cx="1198.7" cy="711.2" r="22.3"/><circle cx="1188.7" cy="710.2" r="22.3"/><circle cx="1189.3" cy="717.4" r="22.3"/><circle cx="1191.7" cy="719.9" r="22.3"/><circle cx="1189.5" cy="712" r="22.3"/><circle cx="1192.8" cy="717.8" r="22.3"/><circle cx="1200.6" cy="717.2" r="22.3"/><circle cx="1190.5" cy="720.4" r="22.3"/><circle cx="1193.3" cy="721.3" r="22.3"/><circle cx="1197.5" cy="717.5" r="22.3"/><circle cx="1197.7" cy="716.5" r="22.3"/><circle cx="1189.2" cy="709.6" r="22.3"/><circle cx="1198.7" cy="714.7" r="22.3"/><circle cx="1190.3" cy="713.9" r="22.3"/><circle cx="1195.7" cy="713.1" r="22.3"/><circle cx="1189.2" cy="713.7" r="22.3"/><circle cx="1201.4" cy="711.9" r="22.3"/><circle cx="1197.5" cy="719.6" r="22.3"/><circle cx="1197" cy="713.5" r="22.3"/><circle cx="1191.8" cy="710.7" r="22.3"/><circle cx="1192.3" cy="721.3" r="22.3"/><circle cx="1194.9" cy="710.6" r="22.3"/><circle cx="1198" cy="718.8" r="22.3"/><circle cx="1193.9" cy="710.8" r="22.3"/><circle cx="1201.2" cy="716.4" r="22.3"/><circle cx="1195.1" cy="718.6" r="22.3"/><circle cx="1197.6" cy="710.8" r="22.3"/><circle cx="1193" cy="711.7" r="22.3"/><circle cx="1195.2" cy="713.4" r="22.3"/><circle cx="1198.4" cy="714.1" r="22.3"/><circle cx="1190.8" cy="709.9" r="22.3"/><circle cx="1189.1" cy="719.5" r="22.3"/><circle cx="1189.9" cy="713.6" r="22.3"/><circle cx="1194.7" cy="691.1" r="22.3"/><circle cx="1190.7" cy="702.4" r="22.3"/><circle cx="1188.6" cy="699.6" r="22.3"/><circle cx="1199.5" cy="699" r="22.3"/><circle cx="1195.5" cy="699.8" r="22.3"/><circle cx="1192.3" cy="694.3" r="22.3"/><circle cx="1188.4" cy="696.5" r="22.3"/><circle cx="1201.3" cy="699.5" r="22.3"/><circle cx="1195.1" cy="695.3" r="22.3"/><circle cx="1192.4" cy="701.1" r="22.3"/><circle cx="1200" cy="703.5" r="22.3"/><circle cx="1191.6" cy="697.5" r="22.3"/><circle cx="1189.3" cy="703" r="22.3"/><circle cx="1200.3" cy="693.3" r="22.3"/><circle cx="1195.6" cy="691.4" r="22.3"/><circle cx="1199.7" cy="694.2" r="22.3"/><circle cx="1193.4" cy="694.3" r="22.3"/><circle cx="1193.1" cy="699.1" r="22.3"/><circle cx="1191" cy="703.5" r="22.3"/><circle cx="1199.3" cy="693.7" r="22.3"/><circle cx="1199.9" cy="698.2" r="22.3"/><circle cx="1198" cy="695.9" r="22.3"/><circle cx="1192.1" cy="697.8" r="22.3"/><circle cx="1189.9" cy="693.1" r="22.3"/><circle cx="1198.1" cy="703" r="22.3"/><circle cx="1198.1" cy="694.6" r="22.3"/><circle cx="1189.2" cy="691" r="22.3"/><circle cx="1202" cy="697.3" r="22.3"/><circle cx="1193.5" cy="703.5" r="22.3"/><circle cx="1198.9" cy="694.3" r="22.3"/><circle cx="1191.3" cy="702.6" r="22.3"/><circle cx="1193.9" cy="693.4" r="22.3"/><circle cx="1192.8" cy="696" r="22.3"/><circle cx="1197.8" cy="701.2" r="22.3"/><circle cx="1196.3" cy="701.6" r="22.3"/><circle cx="1199.4" cy="697.5" r="22.3"/><circle cx="1200.7" cy="698" r="22.3"/><circle cx="1193.9" cy="697.9" r="22.3"/><circle cx="1194.5" cy="693.6" r="22.3"/><circle cx="1192.5" cy="703.3" r="22.3"/><circle cx="1197.3" cy="701.6" r="22.3"/><circle cx="1190.5" cy="699.2" r="22.3"/><circle cx="1194.9" cy="700.6" r="22.3"/><circle cx="1200.9" cy="699.6" r="22.3"/><circle cx="1200.9" cy="700" r="22.3"/><circle cx="1188.6" cy="674.3" r="22.3"/><circle cx="1193.9" cy="684.5" r="22.3"/><circle cx="1196.9" cy="675" r="22.3"/><circle cx="1193.9" cy="676.2" r="22.3"/><circle cx="1202" cy="681.4" r="22.3"/><circle cx="1196.9" cy="672.4" r="22.3"/><circle cx="1192.4" cy="674.3" r="22.3"/><circle cx="1189.7" cy="676.4" r="22.3"/><circle cx="1195.7" cy="675.4" r="22.3"/><circle cx="1195.5" cy="675.9" r="22.3"/><circle cx="1189.9" cy="674" r="22.3"/><circle cx="1195.7" cy="676.2" r="22.3"/><circle cx="1198.8" cy="678.5" r="22.3"/><circle cx="1200.2" cy="675.8" r="22.3"/><circle cx="1191.9" cy="683.8" r="22.3"/><circle cx="1198.3" cy="673.5" r="22.3"/><circle cx="1193" cy="680.8" r="22.3"/><circle cx="1197.7" cy="672.9" r="22.3"/><circle cx="1196.8" cy="683.9" r="22.3"/><circle cx="1195.2" cy="678.8" r="22.3"/><circle cx="1191.2" cy="676.8" r="22.3"/><circle cx="1196.2" cy="679.6" r="22.3"/><circle cx="1196.8" cy="683.4" r="22.3"/><circle cx="1200.9" cy="680.5" r="22.3"/><circle cx="1193" cy="673.7" r="22.3"/><circle cx="1196.4" cy="672.4" r="22.3"/><circle cx="1199.2" cy="675.5" r="22.3"/><circle cx="1201.6" cy="676.1" r="22.3"/><circle cx="1189.3" cy="677.8" r="22.3"/><circle cx="1195" cy="678.1" r="22.3"/><circle cx="1201.8" cy="672.5" r="22.3"/><circle cx="1198.3" cy="674.4" r="22.3"/><circle cx="1188.5" cy="679.2" r="22.3"/><circle cx="1194.8" cy="681.9" r="22.3"/><circle cx="1201" cy="684.5" r="22.3"/><circle cx="1199.9" cy="672.4" r="22.3"/><circle cx="1193" cy="684.6" r="22.3"/><circle cx="1194.3" cy="683.6" r="22.3"/><circle cx="1201.4" cy="678.3" r="22.3"/><circle cx="1191" cy="675.9" r="22.3"/><circle cx="1195.5" cy="677.9" r="22.3"/><circle cx="1191.3" cy="672.7" r="22.3"/><circle cx="1200.4" cy="673.7" r="22.3"/><circle cx="1199.7" cy="673" r="22.3"/><circle cx="1191.6" cy="675.1" r="22.3"/><circle cx="1193.9" cy="663.7" r="22.3"/><circle cx="1198.2" cy="659.8" r="22.3"/><circle cx="1191.9" cy="659.7" r="22.3"/><circle cx="1193.9" cy="658.9" r="22.3"/><circle cx="1198.9" cy="656.6" r="22.3"/><circle cx="1192.3" cy="661.8" r="22.3"/><circle cx="1191.5" cy="654.2" r="22.3"/><circle cx="1201.8" cy="663.4" r="22.3"/><circle cx="1193.4" cy="659.7" r="22.3"/><circle cx="1190" cy="658.2" r="22.3"/><circle cx="1197.4" cy="663.6" r="22.3"/><circle cx="1192.4" cy="657.8" r="22.3"/><circle cx="1201.3" cy="664.7" r="22.3"/><circle cx="1198.3" cy="655.3" r="22.3"/><circle cx="1198.6" cy="653.7" r="22.3"/><circle cx="1191.9" cy="663.9" r="22.3"/><circle cx="1201.7" cy="641.9" r="22.3"/><circle cx="1197.8" cy="641" r="22.3"/><circle cx="1196.3" cy="647.4" r="22.3"/><circle cx="1189.3" cy="646.6" r="22.3"/><circle cx="1200.2" cy="646.7" r="22.3"/><circle cx="1193.5" cy="646" r="22.3"/><circle cx="1197.1" cy="639.2" r="22.3"/><circle cx="1199.4" cy="619.7" r="22.3"/><circle cx="1198.9" cy="626.7" r="22.3"/><circle cx="1194.5" cy="616.8" r="22.3"/><circle cx="1195.3" cy="604.2" r="22.3"/><circle cx="1215.4" cy="771.6" r="22.3"/><circle cx="1214.5" cy="748.9" r="22.3"/><circle cx="1216" cy="755.3" r="22.3"/><circle cx="1221.2" cy="758.6" r="22.3"/><circle cx="1217.3" cy="749.7" r="22.3"/><circle cx="1219.9" cy="740" r="22.3"/><circle cx="1216.9" cy="736.8" r="22.3"/><circle cx="1217.6" cy="740.1" r="22.3"/><circle cx="1215" cy="734.5" r="22.3"/><circle cx="1212.3" cy="737.2" r="22.3"/><circle cx="1218.6" cy="733.5" r="22.3"/><circle cx="1213.8" cy="735" r="22.3"/><circle cx="1217.1" cy="733.1" r="22.3"/><circle cx="1217.9" cy="728.9" r="22.3"/><circle cx="1221.9" cy="739" r="22.3"/><circle cx="1215.1" cy="714.9" r="22.3"/><circle cx="1210.3" cy="718.8" r="22.3"/><circle cx="1211" cy="717.1" r="22.3"/><circle cx="1213.1" cy="721.1" r="22.3"/><circle cx="1218.1" cy="712.6" r="22.3"/><circle cx="1211.6" cy="720.1" r="22.3"/><circle cx="1212.9" cy="712.9" r="22.3"/><circle cx="1210.1" cy="713.2" r="22.3"/><circle cx="1221.5" cy="718.8" r="22.3"/><circle cx="1211.7" cy="714.7" r="22.3"/><circle cx="1220.1" cy="719.6" r="22.3"/><circle cx="1209.3" cy="716.7" r="22.3"/><circle cx="1214" cy="720.5" r="22.3"/><circle cx="1219.5" cy="721.3" r="22.3"/><circle cx="1217.6" cy="718.7" r="22.3"/><circle cx="1210.1" cy="717.3" r="22.3"/><circle cx="1214" cy="717.6" r="22.3"/><circle cx="1217.2" cy="716.2" r="22.3"/><circle cx="1212.8" cy="719.6" r="22.3"/><circle cx="1216.7" cy="711.4" r="22.3"/><circle cx="1220.1" cy="719" r="22.3"/><circle cx="1217.8" cy="717.7" r="22.3"/><circle cx="1217.3" cy="702.7" r="22.3"/><circle cx="1219" cy="698.2" r="22.3"/><circle cx="1218.8" cy="692.3" r="22.3"/><circle cx="1210.3" cy="692.9" r="22.3"/><circle cx="1221.6" cy="700.6" r="22.3"/><circle cx="1217.5" cy="692.5" r="22.3"/><circle cx="1209.1" cy="695.1" r="22.3"/><circle cx="1212.8" cy="697.4" r="22.3"/><circle cx="1210.9" cy="698.4" r="22.3"/><circle cx="1220.8" cy="700" r="22.3"/><circle cx="1214.1" cy="701.8" r="22.3"/><circle cx="1213.6" cy="700.9" r="22.3"/><circle cx="1213.4" cy="698.3" r="22.3"/><circle cx="1215.8" cy="695.6" r="22.3"/><circle cx="1217" cy="703.3" r="22.3"/><circle cx="1215.2" cy="690.9" r="22.3"/><circle cx="1220.4" cy="695.3" r="22.3"/><circle cx="1218" cy="699.3" r="22.3"/><circle cx="1209" cy="700.5" r="22.3"/><circle cx="1221.3" cy="698.5" r="22.3"/><circle cx="1215.1" cy="699.7" r="22.3"/><circle cx="1208.8" cy="696.5" r="22.3"/><circle cx="1209.6" cy="693.3" r="22.3"/><circle cx="1216.4" cy="702" r="22.3"/><circle cx="1211.5" cy="702.8" r="22.3"/><circle cx="1210.8" cy="699.8" r="22.3"/><circle cx="1213.8" cy="698.5" r="22.3"/><circle cx="1209.3" cy="691.6" r="22.3"/><circle cx="1214.1" cy="690.9" r="22.3"/><circle cx="1211.1" cy="695" r="22.3"/><circle cx="1220.3" cy="698.5" r="22.3"/><circle cx="1218.7" cy="700.1" r="22.3"/><circle cx="1218.2" cy="701.3" r="22.3"/><circle cx="1220.1" cy="691.8" r="22.3"/><circle cx="1212.4" cy="700.2" r="22.3"/><circle cx="1218.3" cy="699.3" r="22.3"/><circle cx="1216.7" cy="698.4" r="22.3"/><circle cx="1221.3" cy="695.6" r="22.3"/><circle cx="1220.5" cy="696.9" r="22.3"/><circle cx="1216.4" cy="693.3" r="22.3"/><circle cx="1220.2" cy="694" r="22.3"/><circle cx="1214.5" cy="695.5" r="22.3"/><circle cx="1218.6" cy="700.9" r="22.3"/><circle cx="1210.2" cy="695.7" r="22.3"/><circle cx="1212.1" cy="694.2" r="22.3"/><circle cx="1208.7" cy="676.2" r="22.3"/><circle cx="1209.1" cy="684.7" r="22.3"/><circle cx="1210.9" cy="680.5" r="22.3"/><circle cx="1210.3" cy="677.3" r="22.3"/><circle cx="1220.4" cy="677.1" r="22.3"/><circle cx="1211.3" cy="673.6" r="22.3"/><circle cx="1221.9" cy="679.8" r="22.3"/><circle cx="1221.7" cy="677.2" r="22.3"/><circle cx="1208.6" cy="684.5" r="22.3"/><circle cx="1210.7" cy="672.5" r="22.3"/><circle cx="1211.2" cy="673.6" r="22.3"/><circle cx="1218.6" cy="673.1" r="22.3"/><circle cx="1217.4" cy="681.8" r="22.3"/><circle cx="1219.3" cy="684.5" r="22.3"/><circle cx="1213.2" cy="680.5" r="22.3"/><circle cx="1219.2" cy="679.6" r="22.3"/><circle cx="1210.5" cy="683.3" r="22.3"/><circle cx="1211.1" cy="679.9" r="22.3"/><circle cx="1215.7" cy="684.9" r="22.3"/><circle cx="1221.8" cy="677.3" r="22.3"/><circle cx="1212.1" cy="677.2" r="22.3"/><circle cx="1222.2" cy="683" r="22.3"/><circle cx="1209.5" cy="681.7" r="22.3"/><circle cx="1216.5" cy="673.4" r="22.3"/><circle cx="1215.9" cy="683.6" r="22.3"/><circle cx="1218" cy="672.9" r="22.3"/><circle cx="1217.7" cy="682.4" r="22.3"/><circle cx="1216.6" cy="677.1" r="22.3"/><circle cx="1217.4" cy="680.9" r="22.3"/><circle cx="1216.1" cy="679.4" r="22.3"/><circle cx="1218.6" cy="683.1" r="22.3"/><circle cx="1218.3" cy="673.2" r="22.3"/><circle cx="1214.3" cy="681.6" r="22.3"/><circle cx="1212" cy="680.8" r="22.3"/><circle cx="1217" cy="678.3" r="22.3"/><circle cx="1210.9" cy="679" r="22.3"/><circle cx="1211.7" cy="682.1" r="22.3"/><circle cx="1213.5" cy="676.1" r="22.3"/><circle cx="1214.6" cy="681.9" r="22.3"/><circle cx="1208.9" cy="682.4" r="22.3"/><circle cx="1216.7" cy="676.9" r="22.3"/><circle cx="1211.7" cy="681" r="22.3"/><circle cx="1217.7" cy="683.6" r="22.3"/><circle cx="1216.9" cy="678.4" r="22.3"/><circle cx="1212.4" cy="677.8" r="22.3"/><circle cx="1210.4" cy="660.3" r="22.3"/><circle cx="1213.5" cy="664" r="22.3"/><circle cx="1214.3" cy="654.8" r="22.3"/><circle cx="1220" cy="659.8" r="22.3"/><circle cx="1219.6" cy="657.3" r="22.3"/><circle cx="1215.2" cy="663.5" r="22.3"/><circle cx="1212.5" cy="661.2" r="22.3"/><circle cx="1210" cy="658.9" r="22.3"/><circle cx="1215.3" cy="657.8" r="22.3"/><circle cx="1209" cy="654.8" r="22.3"/><circle cx="1217.6" cy="659.3" r="22.3"/><circle cx="1212.6" cy="657.2" r="22.3"/><circle cx="1211.4" cy="654.4" r="22.3"/><circle cx="1211.1" cy="660" r="22.3"/><circle cx="1212.6" cy="654" r="22.3"/><circle cx="1211.8" cy="658.8" r="22.3"/><circle cx="1209.6" cy="654.8" r="22.3"/><circle cx="1221.3" cy="657.5" r="22.3"/><circle cx="1209.8" cy="662.8" r="22.3"/><circle cx="1210.4" cy="661.1" r="22.3"/><circle cx="1220.3" cy="665.4" r="22.3"/><circle cx="1209.8" cy="661.6" r="22.3"/><circle cx="1215.3" cy="663.6" r="22.3"/><circle cx="1214.7" cy="656.1" r="22.3"/><circle cx="1214.9" cy="661.3" r="22.3"/><circle cx="1218.4" cy="657.5" r="22.3"/><circle cx="1214.6" cy="655.5" r="22.3"/><circle cx="1218.8" cy="657.1" r="22.3"/><circle cx="1216.3" cy="664" r="22.3"/><circle cx="1218.6" cy="656.8" r="22.3"/><circle cx="1216.9" cy="658.8" r="22.3"/><circle cx="1216" cy="657.5" r="22.3"/><circle cx="1212.1" cy="660.4" r="22.3"/><circle cx="1221" cy="654.7" r="22.3"/><circle cx="1217.8" cy="666.2" r="22.3"/><circle cx="1214.7" cy="665.5" r="22.3"/><circle cx="1220.8" cy="658" r="22.3"/><circle cx="1218.7" cy="658.7" r="22.3"/><circle cx="1210.3" cy="659.5" r="22.3"/><circle cx="1219.7" cy="663.7" r="22.3"/><circle cx="1218.9" cy="664.7" r="22.3"/><circle cx="1212.2" cy="660.5" r="22.3"/><circle cx="1209.3" cy="661.6" r="22.3"/><circle cx="1215.6" cy="659.6" r="22.3"/><circle cx="1220.8" cy="656.3" r="22.3"/><circle cx="1212" cy="636.3" r="22.3"/><circle cx="1216.3" cy="637.5" r="22.3"/><circle cx="1209.9" cy="642.5" r="22.3"/><circle cx="1213.2" cy="641.3" r="22.3"/><circle cx="1220.8" cy="646.9" r="22.3"/><circle cx="1212.6" cy="646.2" r="22.3"/><circle cx="1218.9" cy="641.4" r="22.3"/><circle cx="1215.7" cy="640.4" r="22.3"/><circle cx="1211.2" cy="640.4" r="22.3"/><circle cx="1216.9" cy="637.3" r="22.3"/><circle cx="1211.6" cy="641.5" r="22.3"/><circle cx="1215.1" cy="646.7" r="22.3"/><circle cx="1219.3" cy="645.1" r="22.3"/><circle cx="1218.5" cy="644.5" r="22.3"/><circle cx="1219" cy="635.7" r="22.3"/><circle cx="1209.6" cy="644.4" r="22.3"/><circle cx="1218.6" cy="625.9" r="22.3"/><circle cx="1211.9" cy="624.1" r="22.3"/><circle cx="1218.1" cy="618.3" r="22.3"/><circle cx="1217.3" cy="626.8" r="22.3"/><circle cx="1215.1" cy="628.4" r="22.3"/><circle cx="1217.4" cy="619.8" r="22.3"/><circle cx="1211.2" cy="628.7" r="22.3"/><circle cx="1217.7" cy="600.5" r="22.3"/><circle cx="1221.3" cy="610.2" r="22.3"/><circle cx="1220.7" cy="601" r="22.3"/><circle cx="1215.4" cy="585.5" r="22.3"/><circle cx="1235.5" cy="734.4" r="22.3"/><circle cx="1231.4" cy="721.5" r="22.3"/><circle cx="1240.2" cy="721.5" r="22.3"/><circle cx="1234.6" cy="717.6" r="22.3"/><circle cx="1236.4" cy="720.3" r="22.3"/><circle cx="1236.2" cy="694.2" r="22.3"/><circle cx="1234" cy="702.6" r="22.3"/><circle cx="1236.9" cy="699.4" r="22.3"/><circle cx="1241.4" cy="699.7" r="22.3"/><circle cx="1231.1" cy="697.2" r="22.3"/><circle cx="1233.9" cy="702.6" r="22.3"/><circle cx="1236.9" cy="699.8" r="22.3"/><circle cx="1241.3" cy="701.8" r="22.3"/><circle cx="1230.2" cy="697" r="22.3"/><circle cx="1238.9" cy="691.6" r="22.3"/><circle cx="1238.2" cy="673.3" r="22.3"/><circle cx="1235.4" cy="675.3" r="22.3"/><circle cx="1234.3" cy="678.6" r="22.3"/><circle cx="1239.2" cy="684.4" r="22.3"/><circle cx="1238.3" cy="678.7" r="22.3"/><circle cx="1239" cy="678.9" r="22.3"/><circle cx="1229.1" cy="676.2" r="22.3"/><circle cx="1228.9" cy="677.2" r="22.3"/><circle cx="1240.8" cy="678.1" r="22.3"/><circle cx="1234" cy="675.6" r="22.3"/><circle cx="1231.5" cy="673.5" r="22.3"/><circle cx="1229" cy="673.5" r="22.3"/><circle cx="1229.2" cy="673.6" r="22.3"/><circle cx="1234.5" cy="678.1" r="22.3"/><circle cx="1232.8" cy="675.6" r="22.3"/><circle cx="1241.9" cy="683" r="22.3"/><circle cx="1236" cy="683" r="22.3"/><circle cx="1239.3" cy="684.1" r="22.3"/><circle cx="1233.2" cy="682.1" r="22.3"/><circle cx="1238.7" cy="682.3" r="22.3"/><circle cx="1240.8" cy="674.7" r="22.3"/><circle cx="1230.2" cy="672.6" r="22.3"/><circle cx="1240.6" cy="657" r="22.3"/><circle cx="1238.6" cy="662.5" r="22.3"/><circle cx="1231.9" cy="662.3" r="22.3"/><circle cx="1242.2" cy="656.1" r="22.3"/><circle cx="1231" cy="663.3" r="22.3"/><circle cx="1237.7" cy="660.1" r="22.3"/><circle cx="1232.2" cy="664.6" r="22.3"/><circle cx="1232.2" cy="662.2" r="22.3"/><circle cx="1232.3" cy="662.4" r="22.3"/><circle cx="1237.1" cy="656.4" r="22.3"/><circle cx="1236.6" cy="662.1" r="22.3"/><circle cx="1231" cy="665.4" r="22.3"/><circle cx="1242.3" cy="663.7" r="22.3"/><circle cx="1237.3" cy="661.9" r="22.3"/><circle cx="1230" cy="657.8" r="22.3"/><circle cx="1236.6" cy="665.8" r="22.3"/><circle cx="1237.6" cy="654.7" r="22.3"/><circle cx="1233.7" cy="660.6" r="22.3"/><circle cx="1241.8" cy="657.1" r="22.3"/><circle cx="1240.4" cy="660.4" r="22.3"/><circle cx="1239.5" cy="662.2" r="22.3"/><circle cx="1231" cy="662.6" r="22.3"/><circle cx="1232.1" cy="662.9" r="22.3"/><circle cx="1241.6" cy="665.3" r="22.3"/><circle cx="1239" cy="662.6" r="22.3"/><circle cx="1234.1" cy="653.7" r="22.3"/><circle cx="1236.7" cy="658.2" r="22.3"/><circle cx="1239.9" cy="665.5" r="22.3"/><circle cx="1233.3" cy="665" r="22.3"/><circle cx="1240.4" cy="657.7" r="22.3"/><circle cx="1240.3" cy="659.2" r="22.3"/><circle cx="1229.6" cy="660.2" r="22.3"/><circle cx="1240.3" cy="654.4" r="22.3"/><circle cx="1240.4" cy="665.7" r="22.3"/><circle cx="1241.1" cy="660.1" r="22.3"/><circle cx="1237.5" cy="665.1" r="22.3"/><circle cx="1242.1" cy="657.1" r="22.3"/><circle cx="1236.3" cy="655.8" r="22.3"/><circle cx="1233.8" cy="661.9" r="22.3"/><circle cx="1232.6" cy="664.6" r="22.3"/><circle cx="1238.9" cy="659" r="22.3"/><circle cx="1237.6" cy="656.3" r="22.3"/><circle cx="1234.6" cy="660.3" r="22.3"/><circle cx="1235.7" cy="663.1" r="22.3"/><circle cx="1240.9" cy="656.7" r="22.3"/><circle cx="1232.4" cy="644.7" r="22.3"/><circle cx="1240.4" cy="644.4" r="22.3"/><circle cx="1234.6" cy="644.8" r="22.3"/><circle cx="1235.3" cy="645.9" r="22.3"/><circle cx="1232.9" cy="646.5" r="22.3"/><circle cx="1237.3" cy="639.8" r="22.3"/><circle cx="1232.4" cy="636.5" r="22.3"/><circle cx="1241.9" cy="635.7" r="22.3"/><circle cx="1232.4" cy="638.1" r="22.3"/><circle cx="1238.6" cy="646.1" r="22.3"/><circle cx="1234.2" cy="636.4" r="22.3"/><circle cx="1237.1" cy="647" r="22.3"/><circle cx="1229.8" cy="641.4" r="22.3"/><circle cx="1241.1" cy="637.6" r="22.3"/><circle cx="1241.8" cy="644" r="22.3"/><circle cx="1231.6" cy="637.8" r="22.3"/><circle cx="1234.8" cy="636" r="22.3"/><circle cx="1237.9" cy="643.7" r="22.3"/><circle cx="1241.8" cy="647.2" r="22.3"/><circle cx="1241.7" cy="636" r="22.3"/><circle cx="1237" cy="646" r="22.3"/><circle cx="1231.5" cy="647" r="22.3"/><circle cx="1235.6" cy="646.9" r="22.3"/><circle cx="1240" cy="641.2" r="22.3"/><circle cx="1240.7" cy="643.5" r="22.3"/><circle cx="1235.1" cy="641.1" r="22.3"/><circle cx="1229" cy="646.4" r="22.3"/><circle cx="1237.2" cy="645.2" r="22.3"/><circle cx="1240.4" cy="637.8" r="22.3"/><circle cx="1232" cy="640.8" r="22.3"/><circle cx="1238.3" cy="645.7" r="22.3"/><circle cx="1238" cy="647.2" r="22.3"/><circle cx="1228.7" cy="640" r="22.3"/><circle cx="1234.4" cy="639.7" r="22.3"/><circle cx="1230.6" cy="636.5" r="22.3"/><circle cx="1234" cy="637.7" r="22.3"/><circle cx="1240.7" cy="644.2" r="22.3"/><circle cx="1231.4" cy="642.6" r="22.3"/><circle cx="1235.9" cy="635.3" r="22.3"/><circle cx="1234.7" cy="645.5" r="22.3"/><circle cx="1239.6" cy="636.6" r="22.3"/><circle cx="1241.3" cy="636.5" r="22.3"/><circle cx="1232.8" cy="642.8" r="22.3"/><circle cx="1232.1" cy="637.6" r="22.3"/><circle cx="1240.6" cy="643.1" r="22.3"/><circle cx="1236.9" cy="628.7" r="22.3"/><circle cx="1229.2" cy="621.5" r="22.3"/><circle cx="1232.5" cy="624.4" r="22.3"/><circle cx="1230.4" cy="616.8" r="22.3"/><circle cx="1239.7" cy="618.2" r="22.3"/><circle cx="1233.3" cy="627.5" r="22.3"/><circle cx="1230.5" cy="617.5" r="22.3"/><circle cx="1235.2" cy="626.4" r="22.3"/><circle cx="1241.2" cy="617.9" r="22.3"/><circle cx="1231.3" cy="618.9" r="22.3"/><circle cx="1231.1" cy="627.7" r="22.3"/><circle cx="1231.5" cy="620.6" r="22.3"/><circle cx="1234.9" cy="624.3" r="22.3"/><circle cx="1239" cy="626.6" r="22.3"/><circle cx="1239.2" cy="619.9" r="22.3"/><circle cx="1232.7" cy="628.7" r="22.3"/><circle cx="1232.7" cy="606.4" r="22.3"/><circle cx="1229.4" cy="610.2" r="22.3"/><circle cx="1238.6" cy="610.5" r="22.3"/><circle cx="1242.2" cy="610.2" r="22.3"/><circle cx="1233.1" cy="603.2" r="22.3"/><circle cx="1240.8" cy="607.9" r="22.3"/><circle cx="1231.9" cy="598" r="22.3"/><circle cx="1238" cy="590.4" r="22.3"/><circle cx="1239" cy="590.3" r="22.3"/><circle cx="1234.7" cy="583.2" r="22.3"/><circle cx="1235.5" cy="566.9" r="22.3"/><circle cx="1255.6" cy="715.8" r="22.3"/><circle cx="1252.8" cy="692.7" r="22.3"/><circle cx="1249.3" cy="701.7" r="22.3"/><circle cx="1257.8" cy="691" r="22.3"/><circle cx="1257.6" cy="695.3" r="22.3"/><circle cx="1257.9" cy="680.1" r="22.3"/><circle cx="1253.9" cy="676.3" r="22.3"/><circle cx="1250" cy="672.5" r="22.3"/><circle cx="1255.5" cy="680.7" r="22.3"/><circle cx="1251.6" cy="676" r="22.3"/><circle cx="1259.7" cy="680.7" r="22.3"/><circle cx="1253.7" cy="678.9" r="22.3"/><circle cx="1250.9" cy="673.3" r="22.3"/><circle cx="1249.4" cy="675.9" r="22.3"/><circle cx="1260.2" cy="675.2" r="22.3"/><circle cx="1249.7" cy="663.6" r="22.3"/><circle cx="1248.8" cy="656.2" r="22.3"/><circle cx="1257.7" cy="654.1" r="22.3"/><circle cx="1250.2" cy="655.9" r="22.3"/><circle cx="1253.5" cy="657.9" r="22.3"/><circle cx="1262" cy="662.9" r="22.3"/><circle cx="1258.5" cy="664.9" r="22.3"/><circle cx="1249.2" cy="661.2" r="22.3"/><circle cx="1250.7" cy="656.8" r="22.3"/><circle cx="1256.5" cy="663.3" r="22.3"/><circle cx="1250.3" cy="660.4" r="22.3"/><circle cx="1260.2" cy="657.8" r="22.3"/><circle cx="1260.5" cy="660.5" r="22.3"/><circle cx="1260.2" cy="662.4" r="22.3"/><circle cx="1262.4" cy="661.5" r="22.3"/><circle cx="1260.8" cy="656.1" r="22.3"/><circle cx="1257" cy="661.7" r="22.3"/><circle cx="1252" cy="660.9" r="22.3"/><circle cx="1260.7" cy="658" r="22.3"/><circle cx="1257.8" cy="661.5" r="22.3"/><circle cx="1253.1" cy="657.1" r="22.3"/><circle cx="1250.8" cy="665" r="22.3"/><circle cx="1256.3" cy="636" r="22.3"/><circle cx="1248.8" cy="645.8" r="22.3"/><circle cx="1256.7" cy="643" r="22.3"/><circle cx="1259.5" cy="640.7" r="22.3"/><circle cx="1256.5" cy="647.1" r="22.3"/><circle cx="1253.2" cy="644.2" r="22.3"/><circle cx="1255.3" cy="644.8" r="22.3"/><circle cx="1249" cy="637" r="22.3"/><circle cx="1255" cy="642.6" r="22.3"/><circle cx="1252" cy="646.8" r="22.3"/><circle cx="1252.1" cy="637.8" r="22.3"/><circle cx="1260.9" cy="637.8" r="22.3"/><circle cx="1260.9" cy="636" r="22.3"/><circle cx="1256.2" cy="643.2" r="22.3"/><circle cx="1250.6" cy="637.1" r="22.3"/><circle cx="1254.2" cy="639.7" r="22.3"/><circle cx="1251.8" cy="642.7" r="22.3"/><circle cx="1249.1" cy="642.5" r="22.3"/><circle cx="1250.3" cy="641.7" r="22.3"/><circle cx="1262.1" cy="639.2" r="22.3"/><circle cx="1253.4" cy="646.5" r="22.3"/><circle cx="1250.1" cy="639.3" r="22.3"/><circle cx="1248.9" cy="635.1" r="22.3"/><circle cx="1252.5" cy="639.7" r="22.3"/><circle cx="1251.7" cy="638.6" r="22.3"/><circle cx="1258.7" cy="636.3" r="22.3"/><circle cx="1259.3" cy="641.1" r="22.3"/><circle cx="1259.9" cy="642.9" r="22.3"/><circle cx="1250.1" cy="646.8" r="22.3"/><circle cx="1250.4" cy="642.7" r="22.3"/><circle cx="1255" cy="636.3" r="22.3"/><circle cx="1259.6" cy="636" r="22.3"/><circle cx="1251.2" cy="647" r="22.3"/><circle cx="1256.4" cy="642.3" r="22.3"/><circle cx="1257.4" cy="636.7" r="22.3"/><circle cx="1258.6" cy="639.3" r="22.3"/><circle cx="1249.2" cy="638.1" r="22.3"/><circle cx="1249.5" cy="636.7" r="22.3"/><circle cx="1253.1" cy="643.7" r="22.3"/><circle cx="1254.1" cy="635.7" r="22.3"/><circle cx="1252.9" cy="638.1" r="22.3"/><circle cx="1262.4" cy="646.4" r="22.3"/><circle cx="1255.9" cy="646.8" r="22.3"/><circle cx="1250.5" cy="644.3" r="22.3"/><circle cx="1262.4" cy="637.6" r="22.3"/><circle cx="1248.8" cy="617.5" r="22.3"/><circle cx="1256.1" cy="629" r="22.3"/><circle cx="1257.2" cy="624.5" r="22.3"/><circle cx="1256.9" cy="616.6" r="22.3"/><circle cx="1250.6" cy="625.1" r="22.3"/><circle cx="1255.9" cy="619.8" r="22.3"/><circle cx="1251.4" cy="618.1" r="22.3"/><circle cx="1253.9" cy="628.9" r="22.3"/><circle cx="1262.3" cy="624.6" r="22.3"/><circle cx="1250.8" cy="621.6" r="22.3"/><circle cx="1259.2" cy="624.8" r="22.3"/><circle cx="1252.7" cy="621.4" r="22.3"/><circle cx="1258.4" cy="622.2" r="22.3"/><circle cx="1258" cy="619.3" r="22.3"/><circle cx="1251.1" cy="617.2" r="22.3"/><circle cx="1259.4" cy="622.5" r="22.3"/><circle cx="1249.8" cy="625.1" r="22.3"/><circle cx="1257.1" cy="621.6" r="22.3"/><circle cx="1251.6" cy="619.5" r="22.3"/><circle cx="1249.4" cy="617.5" r="22.3"/><circle cx="1252.1" cy="617.6" r="22.3"/><circle cx="1256.8" cy="627" r="22.3"/><circle cx="1251.6" cy="625.7" r="22.3"/><circle cx="1249.5" cy="624.1" r="22.3"/><circle cx="1255.8" cy="627.9" r="22.3"/><circle cx="1253.5" cy="620.7" r="22.3"/><circle cx="1259.8" cy="619.3" r="22.3"/><circle cx="1249.5" cy="624.3" r="22.3"/><circle cx="1253.3" cy="625.5" r="22.3"/><circle cx="1262.1" cy="621.8" r="22.3"/><circle cx="1257.6" cy="625.8" r="22.3"/><circle cx="1253.6" cy="618" r="22.3"/><circle cx="1258" cy="618.7" r="22.3"/><circle cx="1256.6" cy="628.4" r="22.3"/><circle cx="1261.8" cy="627.2" r="22.3"/><circle cx="1251.8" cy="624.1" r="22.3"/><circle cx="1257.3" cy="621.5" r="22.3"/><circle cx="1255.6" cy="620.2" r="22.3"/><circle cx="1249.8" cy="626.5" r="22.3"/><circle cx="1253" cy="619.6" r="22.3"/><circle cx="1255.7" cy="626.2" r="22.3"/><circle cx="1258.5" cy="624.8" r="22.3"/><circle cx="1259.8" cy="627" r="22.3"/><circle cx="1249.1" cy="619.2" r="22.3"/><circle cx="1250.7" cy="618.3" r="22.3"/><circle cx="1257" cy="604.9" r="22.3"/><circle cx="1249.6" cy="600.5" r="22.3"/><circle cx="1249.1" cy="602.6" r="22.3"/><circle cx="1253.5" cy="602.5" r="22.3"/><circle cx="1249.9" cy="603.9" r="22.3"/><circle cx="1254.6" cy="609.9" r="22.3"/><circle cx="1249" cy="607.7" r="22.3"/><circle cx="1256.3" cy="610.1" r="22.3"/><circle cx="1250.2" cy="608.6" r="22.3"/><circle cx="1256.8" cy="598.5" r="22.3"/><circle cx="1251.3" cy="604.3" r="22.3"/><circle cx="1250.6" cy="607.9" r="22.3"/><circle cx="1251.2" cy="602.2" r="22.3"/><circle cx="1256.1" cy="598.9" r="22.3"/><circle cx="1257.9" cy="609.6" r="22.3"/><circle cx="1261.9" cy="605.7" r="22.3"/><circle cx="1260.1" cy="579.6" r="22.3"/><circle cx="1255.3" cy="581.9" r="22.3"/><circle cx="1259.4" cy="591.1" r="22.3"/><circle cx="1257.4" cy="581.9" r="22.3"/><circle cx="1260.2" cy="591.6" r="22.3"/><circle cx="1256.1" cy="586.4" r="22.3"/><circle cx="1261.5" cy="590.9" r="22.3"/><circle cx="1253.3" cy="567.7" r="22.3"/><circle cx="1256.2" cy="570.1" r="22.3"/><circle cx="1251.4" cy="564.2" r="22.3"/><circle cx="1255.6" cy="548.3" r="22.3"/><circle cx="1275.7" cy="697.2" r="22.3"/><circle cx="1281.7" cy="680.7" r="22.3"/><circle cx="1276.9" cy="679.9" r="22.3"/><circle cx="1271.6" cy="672.6" r="22.3"/><circle cx="1278" cy="672.3" r="22.3"/><circle cx="1281.5" cy="660" r="22.3"/><circle cx="1278.4" cy="658.4" r="22.3"/><circle cx="1282.2" cy="665.7" r="22.3"/><circle cx="1276" cy="655.3" r="22.3"/><circle cx="1274.5" cy="665.8" r="22.3"/><circle cx="1274.2" cy="658.8" r="22.3"/><circle cx="1282" cy="664" r="22.3"/><circle cx="1272" cy="662.6" r="22.3"/><circle cx="1271.4" cy="661.1" r="22.3"/><circle cx="1280.6" cy="660.1" r="22.3"/><circle cx="1272.9" cy="635.8" r="22.3"/><circle cx="1275.3" cy="645.4" r="22.3"/><circle cx="1279.5" cy="645.8" r="22.3"/><circle cx="1277.9" cy="647" r="22.3"/><circle cx="1276.5" cy="638.1" r="22.3"/><circle cx="1272.6" cy="643.2" r="22.3"/><circle cx="1278.8" cy="638.3" r="22.3"/><circle cx="1279.5" cy="642.2" r="22.3"/><circle cx="1281.8" cy="641.1" r="22.3"/><circle cx="1274.5" cy="646.1" r="22.3"/><circle cx="1279.1" cy="642" r="22.3"/><circle cx="1279.5" cy="635.8" r="22.3"/><circle cx="1273.2" cy="642.7" r="22.3"/><circle cx="1278.8" cy="636.4" r="22.3"/><circle cx="1281.5" cy="643" r="22.3"/><circle cx="1272.3" cy="639.6" r="22.3"/><circle cx="1280.1" cy="636.8" r="22.3"/><circle cx="1272.4" cy="642.4" r="22.3"/><circle cx="1276.4" cy="644.6" r="22.3"/><circle cx="1269.9" cy="641" r="22.3"/><circle cx="1272.4" cy="640.6" r="22.3"/><circle cx="1273.2" cy="641.2" r="22.3"/><circle cx="1281.5" cy="627.8" r="22.3"/><circle cx="1273" cy="628.8" r="22.3"/><circle cx="1277.6" cy="618.3" r="22.3"/><circle cx="1280.5" cy="616.7" r="22.3"/><circle cx="1271.6" cy="627.5" r="22.3"/><circle cx="1277.7" cy="619.8" r="22.3"/><circle cx="1280.8" cy="620.6" r="22.3"/><circle cx="1271.4" cy="623.8" r="22.3"/><circle cx="1276.4" cy="619.6" r="22.3"/><circle cx="1280.5" cy="617.4" r="22.3"/><circle cx="1281.6" cy="620.8" r="22.3"/><circle cx="1277.8" cy="623.8" r="22.3"/><circle cx="1278.5" cy="624.4" r="22.3"/><circle cx="1281.2" cy="625.3" r="22.3"/><circle cx="1276.1" cy="624.8" r="22.3"/><circle cx="1276" cy="620.6" r="22.3"/><circle cx="1272.4" cy="623.3" r="22.3"/><circle cx="1276.5" cy="620.5" r="22.3"/><circle cx="1277.1" cy="619.9" r="22.3"/><circle cx="1270.4" cy="623.5" r="22.3"/><circle cx="1275.7" cy="618.3" r="22.3"/><circle cx="1277.6" cy="626.4" r="22.3"/><circle cx="1272.4" cy="627.4" r="22.3"/><circle cx="1271.6" cy="625.7" r="22.3"/><circle cx="1278.2" cy="623.9" r="22.3"/><circle cx="1281" cy="622.7" r="22.3"/><circle cx="1279.8" cy="620.8" r="22.3"/><circle cx="1281.3" cy="624.5" r="22.3"/><circle cx="1273.4" cy="618.2" r="22.3"/><circle cx="1277.7" cy="623.6" r="22.3"/><circle cx="1280.2" cy="626.3" r="22.3"/><circle cx="1271.7" cy="621.7" r="22.3"/><circle cx="1279.9" cy="605.4" r="22.3"/><circle cx="1268.9" cy="603.1" r="22.3"/><circle cx="1281.2" cy="602.9" r="22.3"/><circle cx="1269.2" cy="606.3" r="22.3"/><circle cx="1282.5" cy="606.7" r="22.3"/><circle cx="1278.3" cy="608.5" r="22.3"/><circle cx="1277.7" cy="604.1" r="22.3"/><circle cx="1269.6" cy="597.9" r="22.3"/><circle cx="1271.8" cy="604.3" r="22.3"/><circle cx="1272.5" cy="601.8" r="22.3"/><circle cx="1271.9" cy="609.2" r="22.3"/><circle cx="1280.7" cy="598" r="22.3"/><circle cx="1271.7" cy="599.2" r="22.3"/><circle cx="1269.8" cy="598.3" r="22.3"/><circle cx="1270.5" cy="608.3" r="22.3"/><circle cx="1278.9" cy="603.5" r="22.3"/><circle cx="1275.1" cy="600.7" r="22.3"/><circle cx="1282.1" cy="600.3" r="22.3"/><circle cx="1271.8" cy="599.9" r="22.3"/><circle cx="1282.1" cy="600.9" r="22.3"/><circle cx="1277.5" cy="597.9" r="22.3"/><circle cx="1274.7" cy="598.7" r="22.3"/><circle cx="1279.5" cy="600.9" r="22.3"/><circle cx="1275.2" cy="606.4" r="22.3"/><circle cx="1280.3" cy="606.2" r="22.3"/><circle cx="1270.6" cy="607.7" r="22.3"/><circle cx="1278.9" cy="609.9" r="22.3"/><circle cx="1270" cy="601.7" r="22.3"/><circle cx="1275.1" cy="609.5" r="22.3"/><circle cx="1270.4" cy="604.7" r="22.3"/><circle cx="1280.2" cy="609.4" r="22.3"/><circle cx="1281.5" cy="610.4" r="22.3"/><circle cx="1282" cy="588" r="22.3"/><circle cx="1274.7" cy="585.6" r="22.3"/><circle cx="1274.4" cy="588.3" r="22.3"/><circle cx="1275.3" cy="585.6" r="22.3"/><circle cx="1276.7" cy="587" r="22.3"/><circle cx="1271.4" cy="584.3" r="22.3"/><circle cx="1269.3" cy="590.4" r="22.3"/><circle cx="1273.5" cy="585.2" r="22.3"/><circle cx="1270" cy="579.9" r="22.3"/><circle cx="1278.7" cy="585.8" r="22.3"/><circle cx="1276.7" cy="587.6" r="22.3"/><circle cx="1269.2" cy="580.5" r="22.3"/><circle cx="1275.9" cy="580.5" r="22.3"/><circle cx="1274.1" cy="589.3" r="22.3"/><circle cx="1278" cy="579.4" r="22.3"/><circle cx="1271.1" cy="584.8" r="22.3"/><circle cx="1269.5" cy="565.9" r="22.3"/><circle cx="1275" cy="568.6" r="22.3"/><circle cx="1281.4" cy="567.2" r="22.3"/><circle cx="1274.7" cy="563.3" r="22.3"/><circle cx="1281.6" cy="571.2" r="22.3"/><circle cx="1270.9" cy="560.9" r="22.3"/><circle cx="1278.5" cy="563.6" r="22.3"/><circle cx="1282.3" cy="542.6" r="22.3"/><circle cx="1277" cy="552.1" r="22.3"/><circle cx="1278.4" cy="549.7" r="22.3"/><circle cx="1275.7" cy="529.7" r="22.3"/><circle cx="1295.9" cy="678.6" r="22.3"/><circle cx="1297.9" cy="660.4" r="22.3"/><circle cx="1295.4" cy="659.3" r="22.3"/><circle cx="1299" cy="661" r="22.3"/><circle cx="1299.2" cy="666.1" r="22.3"/><circle cx="1290.2" cy="639.6" r="22.3"/><circle cx="1293" cy="636.4" r="22.3"/><circle cx="1295" cy="638.5" r="22.3"/><circle cx="1292.6" cy="638.9" r="22.3"/><circle cx="1298" cy="641.3" r="22.3"/><circle cx="1299.9" cy="645.1" r="22.3"/><circle cx="1295.7" cy="644.4" r="22.3"/><circle cx="1298.5" cy="635.3" r="22.3"/><circle cx="1300" cy="641.2" r="22.3"/><circle cx="1289.2" cy="644.9" r="22.3"/><circle cx="1290.9" cy="626.2" r="22.3"/><circle cx="1302.1" cy="619" r="22.3"/><circle cx="1296.4" cy="627.9" r="22.3"/><circle cx="1292.1" cy="621.3" r="22.3"/><circle cx="1299.7" cy="619.8" r="22.3"/><circle cx="1297.2" cy="617.5" r="22.3"/><circle cx="1295.7" cy="628.1" r="22.3"/><circle cx="1293.2" cy="626" r="22.3"/><circle cx="1301.1" cy="618.6" r="22.3"/><circle cx="1298.1" cy="625.5" r="22.3"/><circle cx="1300.4" cy="626.8" r="22.3"/><circle cx="1301.1" cy="624.4" r="22.3"/><circle cx="1292.8" cy="623.8" r="22.3"/><circle cx="1300.3" cy="620" r="22.3"/><circle cx="1301" cy="628.8" r="22.3"/><circle cx="1302.4" cy="624.1" r="22.3"/><circle cx="1302.2" cy="619.7" r="22.3"/><circle cx="1295.9" cy="623.2" r="22.3"/><circle cx="1301.1" cy="617.9" r="22.3"/><circle cx="1294.3" cy="617.1" r="22.3"/><circle cx="1302.6" cy="620.7" r="22.3"/><circle cx="1291.2" cy="624.4" r="22.3"/><circle cx="1295.6" cy="610.4" r="22.3"/><circle cx="1297.1" cy="606.6" r="22.3"/><circle cx="1301.5" cy="606.7" r="22.3"/><circle cx="1289.7" cy="597.9" r="22.3"/><circle cx="1300.4" cy="602.4" r="22.3"/><circle cx="1295.4" cy="604.6" r="22.3"/><circle cx="1296.2" cy="606.8" r="22.3"/><circle cx="1301.4" cy="608.6" r="22.3"/><circle cx="1297.1" cy="610" r="22.3"/><circle cx="1301.6" cy="607.1" r="22.3"/><circle cx="1291.8" cy="600.6" r="22.3"/><circle cx="1290.4" cy="606" r="22.3"/><circle cx="1289.7" cy="606.5" r="22.3"/><circle cx="1290.4" cy="599.9" r="22.3"/><circle cx="1291.9" cy="605.7" r="22.3"/><circle cx="1300.7" cy="609.6" r="22.3"/><circle cx="1298.5" cy="610.1" r="22.3"/><circle cx="1301" cy="608.4" r="22.3"/><circle cx="1300.5" cy="606.3" r="22.3"/><circle cx="1298.7" cy="601.3" r="22.3"/><circle cx="1294.5" cy="607.9" r="22.3"/><circle cx="1295.8" cy="603" r="22.3"/><circle cx="1289.8" cy="609.6" r="22.3"/><circle cx="1299.8" cy="609.8" r="22.3"/><circle cx="1291.7" cy="608" r="22.3"/><circle cx="1299.4" cy="610.3" r="22.3"/><circle cx="1298.3" cy="609.3" r="22.3"/><circle cx="1291.4" cy="605" r="22.3"/><circle cx="1297.4" cy="604.1" r="22.3"/><circle cx="1292.3" cy="601.6" r="22.3"/><circle cx="1295.7" cy="597.9" r="22.3"/><circle cx="1291.9" cy="604.5" r="22.3"/><circle cx="1299.3" cy="580.8" r="22.3"/><circle cx="1293.3" cy="581.7" r="22.3"/><circle cx="1292.5" cy="589.3" r="22.3"/><circle cx="1298.3" cy="579.4" r="22.3"/><circle cx="1300.5" cy="591.3" r="22.3"/><circle cx="1294.9" cy="582.2" r="22.3"/><circle cx="1299.6" cy="581.6" r="22.3"/><circle cx="1289.1" cy="590.8" r="22.3"/><circle cx="1296.1" cy="588.7" r="22.3"/><circle cx="1297.7" cy="583.1" r="22.3"/><circle cx="1295" cy="591.7" r="22.3"/><circle cx="1294.4" cy="584.7" r="22.3"/><circle cx="1295.9" cy="589.9" r="22.3"/><circle cx="1298.3" cy="585.1" r="22.3"/><circle cx="1297.6" cy="584.9" r="22.3"/><circle cx="1292.5" cy="581.1" r="22.3"/><circle cx="1295.2" cy="591" r="22.3"/><circle cx="1292.6" cy="581.5" r="22.3"/><circle cx="1294.9" cy="582.6" r="22.3"/><circle cx="1291.9" cy="586" r="22.3"/><circle cx="1294.4" cy="585.5" r="22.3"/><circle cx="1298.7" cy="581.1" r="22.3"/><circle cx="1295.3" cy="591.5" r="22.3"/><circle cx="1301.3" cy="580.2" r="22.3"/><circle cx="1299.4" cy="586.7" r="22.3"/><circle cx="1302.6" cy="580.8" r="22.3"/><circle cx="1301.7" cy="586.7" r="22.3"/><circle cx="1297.4" cy="589.5" r="22.3"/><circle cx="1292" cy="586.1" r="22.3"/><circle cx="1293.2" cy="590.3" r="22.3"/><circle cx="1289.1" cy="580.9" r="22.3"/><circle cx="1290.3" cy="587.6" r="22.3"/><circle cx="1290.4" cy="568.3" r="22.3"/><circle cx="1299" cy="569.9" r="22.3"/><circle cx="1295.9" cy="572.7" r="22.3"/><circle cx="1301.2" cy="561" r="22.3"/><circle cx="1296.8" cy="570.3" r="22.3"/><circle cx="1295.2" cy="567.6" r="22.3"/><circle cx="1289.4" cy="572.1" r="22.3"/><circle cx="1290.4" cy="564.3" r="22.3"/><circle cx="1300.8" cy="568.3" r="22.3"/><circle cx="1293.8" cy="572.1" r="22.3"/><circle cx="1295.8" cy="564.7" r="22.3"/><circle cx="1292.6" cy="561.9" r="22.3"/><circle cx="1302.1" cy="570" r="22.3"/><circle cx="1301.3" cy="564.9" r="22.3"/><circle cx="1294.7" cy="567.9" r="22.3"/><circle cx="1293.6" cy="573" r="22.3"/><circle cx="1297.3" cy="550.5" r="22.3"/><circle cx="1298.1" cy="547.8" r="22.3"/><circle cx="1295.8" cy="546.8" r="22.3"/><circle cx="1289.1" cy="553.1" r="22.3"/><circle cx="1296.6" cy="546.2" r="22.3"/><circle cx="1291.2" cy="548" r="22.3"/><circle cx="1292.9" cy="542.5" r="22.3"/><circle cx="1297.9" cy="525.6" r="22.3"/><circle cx="1299.9" cy="525.9" r="22.3"/><circle cx="1301.6" cy="533.8" r="22.3"/><circle cx="1295.9" cy="511.1" r="22.3"/><circle cx="1209.5" cy="641.9" r="22.3"/><circle cx="1212.6" cy="644" r="22.3"/><circle cx="1210.2" cy="636.1" r="22.3"/><circle cx="1210.8" cy="639.9" r="22.3"/><circle cx="1209.6" cy="647.7" r="22.3"/><circle cx="1221.6" cy="643.6" r="22.3"/><circle cx="1217.6" cy="646.1" r="22.3"/><circle cx="1212" cy="636.5" r="22.3"/><circle cx="1211.1" cy="641.7" r="22.3"/><circle cx="1214.8" cy="641" r="22.3"/><circle cx="1216.5" cy="644.2" r="22.3"/><circle cx="1208.7" cy="645.3" r="22.3"/><circle cx="1221.3" cy="637.8" r="22.3"/><circle cx="1210.1" cy="637.8" r="22.3"/><circle cx="1218.1" cy="643.6" r="22.3"/><circle cx="1216.7" cy="644.2" r="22.3"/><circle cx="1220.4" cy="647.5" r="22.3"/><circle cx="1210.3" cy="641.4" r="22.3"/><circle cx="1215.7" cy="640.8" r="22.3"/><circle cx="1218.4" cy="641.9" r="22.3"/><circle cx="1212.7" cy="635.7" r="22.3"/><circle cx="1209.9" cy="642.6" r="22.3"/><circle cx="1215.2" cy="637.1" r="22.3"/><circle cx="1209.5" cy="635.2" r="22.3"/><circle cx="1215.1" cy="647.4" r="22.3"/><circle cx="1212.5" cy="641.5" r="22.3"/><circle cx="1219.6" cy="643.3" r="22.3"/><circle cx="1217.5" cy="644.9" r="22.3"/><circle cx="1215.1" cy="641.5" r="22.3"/><circle cx="1209.7" cy="646.8" r="22.3"/><circle cx="1208.9" cy="646.2" r="22.3"/><circle cx="1214.3" cy="635.3" r="22.3"/><circle cx="1217.9" cy="640.6" r="22.3"/><circle cx="1217.2" cy="637.5" r="22.3"/><circle cx="1221" cy="647.3" r="22.3"/><circle cx="1258.9" cy="609" r="22.3"/><circle cx="1259.8" cy="607.5" r="22.3"/><circle cx="1257.6" cy="600.8" r="22.3"/><circle cx="1260.5" cy="600.8" r="22.3"/><circle cx="1260.9" cy="601.8" r="22.3"/><circle cx="1258.5" cy="606.2" r="22.3"/><circle cx="1252" cy="605.3" r="22.3"/><circle cx="1251.5" cy="609.2" r="22.3"/><circle cx="1256.5" cy="607.8" r="22.3"/><circle cx="1259.5" cy="608.9" r="22.3"/><circle cx="1249.9" cy="602.2" r="22.3"/><circle cx="1261.4" cy="609.5" r="22.3"/><circle cx="1259.8" cy="604.1" r="22.3"/><circle cx="1257.8" cy="600" r="22.3"/><circle cx="1250.1" cy="609.9" r="22.3"/><circle cx="1261.5" cy="608.7" r="22.3"/><circle cx="1257.9" cy="605.5" r="22.3"/><circle cx="1251.2" cy="609.3" r="22.3"/><circle cx="1254.3" cy="604.9" r="22.3"/><circle cx="1250.3" cy="603.7" r="22.3"/><circle cx="1258.8" cy="610.4" r="22.3"/><circle cx="1253" cy="601.2" r="22.3"/><circle cx="1260.5" cy="601.9" r="22.3"/><circle cx="1255" cy="604.5" r="22.3"/><circle cx="1254.1" cy="608.7" r="22.3"/><circle cx="1252.8" cy="598.3" r="22.3"/><circle cx="1257.2" cy="598.8" r="22.3"/><circle cx="1257.5" cy="607.3" r="22.3"/><circle cx="1255.9" cy="607.2" r="22.3"/><circle cx="1249.2" cy="603.2" r="22.3"/><circle cx="1259.9" cy="599.5" r="22.3"/><circle cx="1250.3" cy="609.4" r="22.3"/><circle cx="1255.8" cy="605.1" r="22.3"/><circle cx="1259.5" cy="609.5" r="22.3"/><circle cx="1259.1" cy="598.9" r="22.3"/><circle cx="1259.4" cy="606.4" r="22.3"/><circle cx="1257.4" cy="605.3" r="22.3"/><circle cx="1251.6" cy="607.9" r="22.3"/><circle cx="1253.1" cy="606.9" r="22.3"/><circle cx="1257.1" cy="603.7" r="22.3"/><circle cx="1255.1" cy="601.9" r="22.3"/><circle cx="1248.8" cy="602.5" r="22.3"/><circle cx="1250.1" cy="598.2" r="22.3"/><circle cx="1257" cy="604.1" r="22.3"/><circle cx="1250.7" cy="601.8" r="22.3"/><circle cx="1181.8" cy="680.7" r="22.3"/><circle cx="1177.4" cy="679.4" r="22.3"/><circle cx="1169.5" cy="679.9" r="22.3"/><circle cx="1172.4" cy="672.7" r="22.3"/><circle cx="1172.5" cy="681.9" r="22.3"/><circle cx="1173.5" cy="675.2" r="22.3"/><circle cx="1173.2" cy="673.1" r="22.3"/><circle cx="1173.1" cy="674" r="22.3"/><circle cx="1181.8" cy="683.1" r="22.3"/><circle cx="1176.5" cy="678.2" r="22.3"/><circle cx="1179.1" cy="678.5" r="22.3"/><circle cx="1168.8" cy="675.3" r="22.3"/><circle cx="1177.2" cy="675.8" r="22.3"/><circle cx="1169.6" cy="672.5" r="22.3"/><circle cx="1170.7" cy="681.3" r="22.3"/><circle cx="1295.5" cy="604.2" r="22.3"/><circle cx="1293.6" cy="599.8" r="22.3"/><circle cx="1294.4" cy="600.5" r="22.3"/><circle cx="1300.7" cy="606.8" r="22.3"/><circle cx="1290.4" cy="597.9" r="22.3"/><circle cx="1298" cy="604.5" r="22.3"/><circle cx="1292.5" cy="600.6" r="22.3"/><circle cx="1296.3" cy="608.6" r="22.3"/><circle cx="1301.9" cy="599.4" r="22.3"/><circle cx="1290.1" cy="605.7" r="22.3"/><circle cx="1298.1" cy="600.2" r="22.3"/><circle cx="1301.3" cy="605.4" r="22.3"/><circle cx="1290" cy="600.1" r="22.3"/><circle cx="1296.8" cy="609.9" r="22.3"/><circle cx="1294.7" cy="600.6" r="22.3"/><circle cx="1297.8" cy="602.2" r="22.3"/><circle cx="1302.2" cy="600.7" r="22.3"/><circle cx="1300.6" cy="604.6" r="22.3"/><circle cx="1298.9" cy="602.1" r="22.3"/><circle cx="1302.1" cy="599.3" r="22.3"/><circle cx="1300.4" cy="607.7" r="22.3"/><circle cx="1292.8" cy="604.8" r="22.3"/><circle cx="1298.6" cy="601.3" r="22.3"/><circle cx="1295.8" cy="609" r="22.3"/><circle cx="1302.3" cy="602.1" r="22.3"/><circle cx="1261.9" cy="643.3" r="22.3"/><circle cx="1258.3" cy="643.8" r="22.3"/><circle cx="1260.4" cy="646.6" r="22.3"/><circle cx="1251" cy="647.6" r="22.3"/><circle cx="1260.5" cy="635.8" r="22.3"/><circle cx="1256.4" cy="635" r="22.3"/><circle cx="1261.1" cy="642.7" r="22.3"/><circle cx="1256.7" cy="643.6" r="22.3"/><circle cx="1259.2" cy="636.9" r="22.3"/><circle cx="1254.9" cy="641.5" r="22.3"/><circle cx="1256.5" cy="640.8" r="22.3"/><circle cx="1254.9" cy="641" r="22.3"/><circle cx="1254.1" cy="642.5" r="22.3"/><circle cx="1251.1" cy="635.7" r="22.3"/><circle cx="1254.3" cy="639.3" r="22.3"/><circle cx="1253.8" cy="645.1" r="22.3"/><circle cx="1261.5" cy="639.4" r="22.3"/><circle cx="1260.2" cy="640.5" r="22.3"/><circle cx="1251.7" cy="646.5" r="22.3"/><circle cx="1260.5" cy="645.6" r="22.3"/><circle cx="1079" cy="790.3" r="22.3"/><circle cx="1072.3" cy="791.5" r="22.3"/><circle cx="1079.4" cy="784.7" r="22.3"/><circle cx="1072.2" cy="788.2" r="22.3"/><circle cx="1072.4" cy="788.8" r="22.3"/><circle cx="1072" cy="785.3" r="22.3"/><circle cx="1068.3" cy="790.4" r="22.3"/><circle cx="1072.7" cy="787.1" r="22.3"/><circle cx="1069.1" cy="795.3" r="22.3"/><circle cx="1073.5" cy="787.7" r="22.3"/><circle cx="1069" cy="789.4" r="22.3"/><circle cx="1072.7" cy="787.2" r="22.3"/><circle cx="1080.9" cy="795" r="22.3"/><circle cx="1080.1" cy="789.7" r="22.3"/><circle cx="1077.5" cy="793.6" r="22.3"/><circle cx="1070.8" cy="785.5" r="22.3"/><circle cx="1077.7" cy="784.8" r="22.3"/><circle cx="1075.6" cy="785.5" r="22.3"/><circle cx="1080.2" cy="788.3" r="22.3"/><circle cx="1072.6" cy="789" r="22.3"/><circle cx="1095" cy="790.2" r="22.3"/><circle cx="1090.5" cy="791.7" r="22.3"/><circle cx="1099.8" cy="793.5" r="22.3"/><circle cx="1099.9" cy="787.5" r="22.3"/><circle cx="1090" cy="789.6" r="22.3"/><circle cx="1094.1" cy="789.1" r="22.3"/><circle cx="1100.4" cy="794.6" r="22.3"/><circle cx="1101.1" cy="783.9" r="22.3"/><circle cx="1100" cy="784.3" r="22.3"/><circle cx="1092.1" cy="793.3" r="22.3"/><circle cx="1094.5" cy="790.9" r="22.3"/><circle cx="1101.1" cy="787.6" r="22.3"/><circle cx="1096.8" cy="785.2" r="22.3"/><circle cx="1100.7" cy="791.2" r="22.3"/><circle cx="1092.6" cy="791.1" r="22.3"/><circle cx="1132.8" cy="597.8" r="22.3"/><circle cx="1129.9" cy="605.3" r="22.3"/><circle cx="1161.1" cy="585.4" r="22.3"/><circle cx="1156.7" cy="581.7" r="22.3"/><circle cx="1191.6" cy="590.6" r="22.3"/><circle cx="1193.8" cy="589.4" r="22.3"/><circle cx="1193.6" cy="585.8" r="22.3"/><circle cx="1194.5" cy="593.4" r="22.3"/><circle cx="1212.9" cy="565.5" r="22.3"/><circle cx="1207.7" cy="565.8" r="22.3"/><circle cx="1122.1" cy="642.9" r="22.3"/><circle cx="1119.2" cy="630.8" r="22.3"/><circle cx="1136.6" cy="641.8" r="22.3"/><circle cx="1145.2" cy="632.7" r="22.3"/><circle cx="1231.6" cy="571" r="22.3"/><circle cx="1231.3" cy="562.6" r="22.3"/><circle cx="1241.8" cy="567.2" r="22.3"/><circle cx="1229.3" cy="568.6" r="22.3"/><circle cx="1240.9" cy="569.8" r="22.3"/><circle cx="1230.8" cy="559" r="22.3"/><circle cx="1250.3" cy="545.4" r="22.3"/><circle cx="1253.7" cy="535" r="22.3"/><circle cx="1246.7" cy="535.4" r="22.3"/><circle cx="1255.2" cy="538" r="22.3"/><circle cx="1269.3" cy="534.5" r="22.3"/><circle cx="1279.2" cy="529.2" r="22.3"/><circle cx="1272.5" cy="538.7" r="22.3"/><circle cx="1280" cy="536.6" r="22.3"/><circle cx="1278.6" cy="529.5" r="22.3"/><circle cx="1297.9" cy="554.1" r="22.3"/><circle cx="1292.3" cy="552.2" r="22.3"/><circle cx="1294.8" cy="543.6" r="22.3"/><circle cx="1293.1" cy="554.5" r="22.3"/><circle cx="1302.6" cy="546.8" r="22.3"/><circle cx="1292.8" cy="545.4" r="22.3"/><circle cx="1314.1" cy="562.3" r="22.3"/><circle cx="1320.6" cy="564.3" r="22.3"/><circle cx="1312.5" cy="562.7" r="22.3"/><circle cx="1318.9" cy="566.9" r="22.3"/><circle cx="1314.4" cy="562.2" r="22.3"/><circle cx="1317.1" cy="568.5" r="22.3"/><circle cx="1318.7" cy="570.6" r="22.3"/><circle cx="1319.6" cy="567.4" r="22.3"/><circle cx="1316.1" cy="545.4" r="22.3"/><circle cx="1317.4" cy="544.7" r="22.3"/><circle cx="1317.7" cy="545" r="22.3"/><circle cx="1313.7" cy="547.9" r="22.3"/><circle cx="1309.2" cy="550.4" r="22.3"/><circle cx="1342.3" cy="516.4" r="22.3"/><circle cx="1333.4" cy="517.4" r="22.3"/><circle cx="1339.5" cy="509" r="22.3"/><circle cx="1336.2" cy="511.3" r="22.3"/><circle cx="1342.2" cy="490.4" r="22.3"/><circle cx="1333.8" cy="487.8" r="22.3"/><circle cx="1340.3" cy="492.9" r="22.3"/><circle cx="1334.2" cy="490.9" r="22.3"/><circle cx="1357.1" cy="494.1" r="22.3"/><circle cx="1354.6" cy="496.8" r="22.3"/><circle cx="1353.6" cy="490.7" r="22.3"/><circle cx="1361.3" cy="497.1" r="22.3"/><circle cx="1361.6" cy="497.2" r="22.3"/><circle cx="1359.2" cy="529" r="22.3"/><circle cx="1357.7" cy="533.7" r="22.3"/><circle cx="1351.3" cy="526.6" r="22.3"/><circle cx="1350.5" cy="533.2" r="22.3"/><circle cx="1351.3" cy="531.2" r="22.3"/><circle cx="1371.9" cy="533.7" r="22.3"/><circle cx="1378.6" cy="532.2" r="22.3"/><circle cx="1373.5" cy="524.9" r="22.3"/><circle cx="1376.9" cy="524" r="22.3"/><circle cx="1371.7" cy="528.2" r="22.3"/><circle cx="1394.2" cy="498.7" r="22.3"/><circle cx="1391.6" cy="498.7" r="22.3"/><circle cx="1397.7" cy="498.1" r="22.3"/><circle cx="1403" cy="497.4" r="22.3"/><circle cx="1397.5" cy="494.2" r="22.3"/><circle cx="1422.3" cy="497.8" r="22.3"/><circle cx="1416.9" cy="498" r="22.3"/><circle cx="1413.9" cy="494.4" r="22.3"/><circle cx="1422.3" cy="488.9" r="22.3"/><circle cx="1420.4" cy="487.1" r="22.3"/><circle cx="1420.4" cy="493.2" r="22.3"/><circle cx="1411.5" cy="449.6" r="22.3"/><circle cx="1410.1" cy="451.5" r="22.3"/><circle cx="1409.9" cy="458.9" r="22.3"/><circle cx="1414.8" cy="461" r="22.3"/><circle cx="1417.4" cy="457.6" r="22.3"/><circle cx="1393.3" cy="449.9" r="22.3"/><circle cx="1401.5" cy="451.7" r="22.3"/><circle cx="1394.1" cy="455.1" r="22.3"/><circle cx="1399.1" cy="450.1" r="22.3"/><circle cx="1437.6" cy="460.3" r="22.3"/><circle cx="1441" cy="459.9" r="22.3"/><circle cx="1432.6" cy="454.4" r="22.3"/><circle cx="1432.1" cy="453.7" r="22.3"/><circle cx="1314.5" cy="598.8" r="22.3"/><circle cx="1313.6" cy="608.5" r="22.3"/><circle cx="1322" cy="599.2" r="22.3"/><circle cx="1314" cy="605" r="22.3"/><circle cx="1314.4" cy="603.3" r="22.3"/><circle cx="1313.6" cy="606.3" r="22.3"/><circle cx="1317.5" cy="600.7" r="22.3"/><circle cx="1315.6" cy="609" r="22.3"/><circle cx="1316.3" cy="600.8" r="22.3"/><circle cx="1311" cy="602" r="22.3"/><circle cx="1341.9" cy="608" r="22.3"/><circle cx="1333.7" cy="606.8" r="22.3"/><circle cx="1336.6" cy="608.7" r="22.3"/><circle cx="1340.8" cy="606.1" r="22.3"/><circle cx="1339.6" cy="602.9" r="22.3"/><circle cx="1340.3" cy="598.5" r="22.3"/><circle cx="1333.1" cy="605.2" r="22.3"/><circle cx="1341.7" cy="601" r="22.3"/><circle cx="1337.9" cy="605.6" r="22.3"/><circle cx="1334.6" cy="610.4" r="22.3"/><circle cx="1335.1" cy="635.3" r="22.3"/><circle cx="1339.8" cy="636.3" r="22.3"/><circle cx="1339.6" cy="635.2" r="22.3"/><circle cx="1342.5" cy="635.8" r="22.3"/><circle cx="1330.1" cy="643.7" r="22.3"/><circle cx="1335.6" cy="661.6" r="22.3"/><circle cx="1341.8" cy="665.8" r="22.3"/><circle cx="1331" cy="664.8" r="22.3"/><circle cx="1339.9" cy="672.9" r="22.3"/><circle cx="1330.2" cy="677" r="22.3"/><circle cx="1331.2" cy="673.2" r="22.3"/><circle cx="1321.7" cy="639.2" r="22.3"/><circle cx="1322" cy="637.7" r="22.3"/><circle cx="1318.7" cy="641.8" r="22.3"/><circle cx="1310.7" cy="645.3" r="22.3"/><circle cx="1319.7" cy="646.8" r="22.3"/><circle cx="1316.9" cy="644.5" r="22.3"/><circle cx="1321.6" cy="677.9" r="22.3"/><circle cx="1321" cy="684.6" r="22.3"/><circle cx="1309.9" cy="684.5" r="22.3"/>
</g></g>
<path d="M1054.4 784.9L1114.8 737.9L1175.1 690.2L1255.6 625.9L1356.2 544.9L1456.8 463.8L1557.5 382.8L1658.1 301.4L1758.7 218.9L1859.3 135.4L1859.3 159.4L1758.7 235.9L1658.1 313.4L1557.5 392L1456.8 471L1356.2 549.9L1255.6 628.9L1175.1 692.6L1114.8 740.9L1054.4 789.9Z" fill="#999" fill-opacity="0.36"/>
<path d="M1054.4 787.4L1859.3 147.4" stroke="#cdcdcd" stroke-width="2.9" fill="none"/>
<path d="M1054.4 834.7v3.2M1255.6 834.7v3.2M1456.8 834.7v3.2M1658.1 834.7v3.2M1859.3 834.7v3.2M1009.8 790.2h3.2M1009.8 604.2h3.2M1009.8 418.1h3.2M1009.8 232.1h3.2M1009.8 46h3.2" stroke="#333" stroke-width="1.4" fill="none"/>
<g font-size="13.5" fill="#4d4d4d">
<text transform="translate(1053.4 853.3) scale(0.84 1)" text-anchor="middle">0</text>
<text transform="translate(1254.6 853.3) scale(0.84 1)" text-anchor="middle">10</text>
<text transform="translate(1455.8 853.3) scale(0.84 1)" text-anchor="middle">20</text>
<text transform="translate(1657.1 853.3) scale(0.84 1)" text-anchor="middle">30</text>
<text transform="translate(1858.3 853.3) scale(0.84 1)" text-anchor="middle">40</text>
<text transform="translate(1006.5 796.6) scale(0.84 1)" text-anchor="end">0</text>
<text transform="translate(1006.5 610.6) scale(0.84 1)" text-anchor="end">10</text>
<text transform="translate(1006.5 424.5) scale(0.84 1)" text-anchor="end">20</text>
<text transform="translate(1006.5 238.5) scale(0.84 1)" text-anchor="end">30</text>
<text transform="translate(1006.5 52.4) scale(0.84 1)" text-anchor="end">40</text>
</g>
<text x="1457" y="885" font-size="30" text-anchor="middle" textLength="494" lengthAdjust="spacingAndGlyphs">Trustee’s 2nd Order Belief (E2E1S2)</text>
<text transform="translate(988 414) rotate(-90)" font-size="31" text-anchor="middle" textLength="315" lengthAdjust="spacingAndGlyphs">Amount Returned (S2)</text>
<text x="1467" y="924.7" font-size="31.5" text-anchor="middle" textLength="35.4" lengthAdjust="spacingAndGlyphs">(B)</text>
<rect x="561" y="932.1" width="860.3" height="880.9" fill="#F1F1F1"/>
<path d="M667 932.1V1813M797.2 932.1V1813M927.4 932.1V1813M1057.7 932.1V1813M1187.9 932.1V1813M1318.1 932.1V1813M561 1705.6H1421.3M561 1572.3H1421.3M561 1439H1421.3M561 1305.8H1421.3M561 1172.5H1421.3M561 1039.2H1421.3" stroke="#fff" stroke-width="1.6" fill="none"/>
<path d="M601.9 932.1V1813M732.1 932.1V1813M862.3 932.1V1813M992.6 932.1V1813M1122.8 932.1V1813M1253 932.1V1813M1383.2 932.1V1813M561 1772.2H1421.3M561 1638.9H1421.3M561 1505.7H1421.3M561 1372.4H1421.3M561 1239.1H1421.3M561 1105.9H1421.3M561 972.6H1421.3" stroke="#fff" stroke-width="1.8" fill="none"/>
<g clip-path="url(#cc)">
<path d="M646.2 1759.5L732.1 1653.2L862.3 1491.2L992.6 1328.3L1057.7 1244.8L1122.8 1157.8L1187.9 1069.9L1253 980.9L1253 1048.9L1187.9 1121.9L1122.8 1195.8L1057.7 1270.8L992.6 1349.3L862.3 1510.2L732.1 1672.2L646.2 1779.5Z" fill="#a6a6a6"/>
<path d="M591.3 1813.5Q788.3 1427.4 1060.3 932.6M609.6 1813.5Q820.8 1428.9 1112.3 932.6M621 1813.5Q831.7 1423.4 1122.8 932.6M626.7 1813.5Q856.9 1420.7 1174.9 932.6M639.5 1813.5Q874.2 1422.1 1198.3 932.6M653.2 1813.5Q909.5 1428.5 1263.4 932.6M604.2 1813.5Q894.2 1414.8 1294.7 932.6M612.7 1813.5Q928.6 1426 1365 932.6M633.7 1813.5Q796.2 1412.5 1020.7 932.6M646.1 1813.5Q813.5 1422.8 1044.6 932.6M665.5 1813.5Q827.9 1429.3 1052.2 932.6M609.1 1813.5Q801.5 1424.8 1067.3 932.6M611.1 1813.5Q805.4 1428 1073.8 932.6M626.8 1813.5Q819.8 1415 1086.3 932.6M638 1813.5Q828.5 1419.4 1091.5 932.6M658.3 1813.5Q844.4 1423.3 1101.4 932.6M602.4 1813.5Q827.4 1429 1138.1 932.6M607.9 1813.5Q835.4 1426.4 1149.6 932.6M630.8 1813.5Q849.7 1422.2 1151.9 932.6M638.2 1813.5Q857.1 1419.3 1159.5 932.6M653.5 1813.5Q869.8 1424.6 1168.3 932.6M604.3 1813.5Q849.7 1417.2 1188.7 932.6M608.9 1813.5Q858.2 1419.5 1202.5 932.6M626.5 1813.5Q872.1 1413.9 1211.3 932.6M642.8 1813.5Q886.4 1424.8 1222.8 932.6M659.9 1813.5Q899.5 1428 1230.3 932.6M596.6 1813.5Q871.7 1416.1 1251.7 932.6M605.6 1813.5Q889.2 1421.1 1280.8 932.6M617 1813.5Q907.5 1417.7 1308.7 932.6M641.5 1813.5Q930 1419.5 1328.5 932.6M656.4 1813.5Q945.2 1424.4 1344.1 932.6M599 1813.5Q916 1419.1 1353.8 932.6M610.4 1813.5Q934.4 1421.7 1381.9 932.6M627.6 1813.5Q952.6 1412.6 1401.4 932.6M635.1 1813.5Q960.2 1417.8 1409.2 932.6M641.8 1813.5Q967.4 1417.1 1417.1 932.6M588.6 1813.5Q938.3 1414.9 1421.2 959.3M619.1 1813.5Q956 1444 1421.2 992.6M640 1813.5Q968.1 1449.8 1421.2 1025.9M578.8 1813.5Q932.6 1479.4 1421.2 1085.9M608.9 1813.5Q950.1 1503.5 1421.2 1125.9M634.9 1813.5Q965.2 1442.1 1421.2 1012.6M580.5 1813.5Q933.6 1466.1 1421.2 1043.2M612.3 1813.5Q952.1 1460 1421.2 1060.6M635.3 1813.5Q965.4 1474.1 1421.2 1072.5M587 1813.5Q937.4 1476 1421.2 1099.2M619 1813.5Q956 1480.3 1421.2 1108.5M638.4 1813.5Q967.2 1557.1 1421.2 1268.5M584.1 1813.5Q935.7 1550.4 1421.2 1276.4M621.2 1813.5Q957.2 1569.4 1421.2 1284.4M636.8 1813.5Q966.2 1582.3 1421.2 1319.1M561 1580.3L1241.5 932.6M561 1630.9Q885.5 1329.6 1333.7 932.6M561 1693.6L1421.2 1684.2M561 1734.9Q799.1 1384.6 1128 932.6M561 1705.6Q922.3 1461.2 1421.2 1161.8M561 1730.9Q922.3 1402 1421.2 985.9M561 1760.2Q922.3 1552.8 1421.2 1329.8M561 1769.5Q922.3 1578.9 1421.2 1379.1M561 1794.9Q922.3 1652.3 1421.2 1519M561 1798.9Q922.3 1732.8 1421.2 1692.2M561 1804.2Q922.3 1672.9 1421.2 1555M575.9 1813.5Q930.9 1691.1 1421.2 1585.6" stroke="#bdbdbd" stroke-width="1.1" fill="none"/>
<path d="M646.2 1769.5L1281.6 979.3" stroke="#131313" stroke-width="7.8" fill="none"/>
</g>
<path d="M601.9 1813v3.2M732.1 1813v3.2M862.3 1813v3.2M992.6 1813v3.2M1122.8 1813v3.2M1253 1813v3.2M1383.2 1813v3.2M557.8 1772.2h3.2M557.8 1638.9h3.2M557.8 1505.7h3.2M557.8 1372.4h3.2M557.8 1239.1h3.2M557.8 1105.9h3.2M557.8 972.6h3.2" stroke="#333" stroke-width="1.4" fill="none"/>
<g font-size="13.5" fill="#4d4d4d">
<text transform="translate(600.9 1831.6) scale(0.84 1)" text-anchor="middle">-5</text>
<text transform="translate(731.1 1831.6) scale(0.84 1)" text-anchor="middle">0</text>
<text transform="translate(861.3 1831.6) scale(0.84 1)" text-anchor="middle">5</text>
<text transform="translate(991.6 1831.6) scale(0.84 1)" text-anchor="middle">10</text>
<text transform="translate(1121.8 1831.6) scale(0.84 1)" text-anchor="middle">15</text>
<text transform="translate(1252 1831.6) scale(0.84 1)" text-anchor="middle">20</text>
<text transform="translate(1382.2 1831.6) scale(0.84 1)" text-anchor="middle">25</text>
<text transform="translate(554.5 1778.6) scale(0.84 1)" text-anchor="end">1</text>
<text transform="translate(554.5 1645.3) scale(0.84 1)" text-anchor="end">2</text>
<text transform="translate(554.5 1512.1) scale(0.84 1)" text-anchor="end">3</text>
<text transform="translate(554.5 1378.8) scale(0.84 1)" text-anchor="end">4</text>
<text transform="translate(554.5 1245.5) scale(0.84 1)" text-anchor="end">5</text>
<text transform="translate(554.5 1112.3) scale(0.84 1)" text-anchor="end">6</text>
<text transform="translate(554.5 979) scale(0.84 1)" text-anchor="end">7</text>
</g>
<text x="991.2" y="1863" font-size="30" text-anchor="middle" textLength="360.7" lengthAdjust="spacingAndGlyphs">Difference from Behavior</text>
<text transform="translate(542.2 1371.5) rotate(-90)" font-size="32" text-anchor="middle" textLength="270.3" lengthAdjust="spacingAndGlyphs">Counterfactual Guilt</text>
<text x="986.8" y="1897.5" font-size="31.5" text-anchor="middle" textLength="36" lengthAdjust="spacingAndGlyphs">(C)</text>
</svg>
</body></html>
